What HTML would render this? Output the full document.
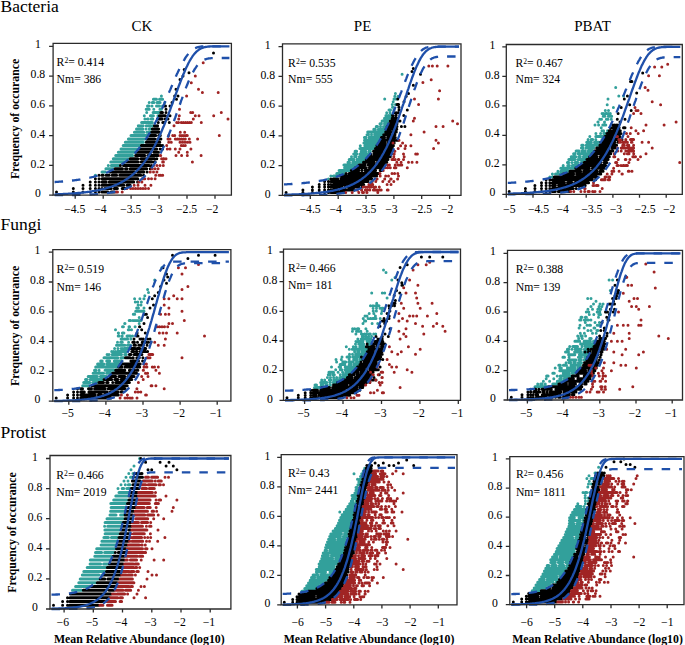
<!DOCTYPE html>
<html><head><meta charset="utf-8"><style>
body{margin:0;background:#fff}
svg{display:block}
text{font-family:"Liberation Serif",serif;fill:#000}
.tl{font-size:11.7px}
.sup{font-size:7.6px}
.grp{font-size:17.5px}
.ttl{font-size:15px}
.bt{font-size:11.8px;font-weight:bold}
.ax{fill:none;stroke:#2b2b2b;stroke-width:1.3}
.cv{fill:none;stroke:#1f50aa;stroke-width:2.3;stroke-linejoin:round}
.dsh{stroke-dasharray:8.5 9}
.dc{stroke:#32a09b}.dk{stroke:#000}.dr{stroke:#a02424}
.dt{fill:none;stroke-width:3;stroke-linecap:round}
</style></head><body>
<svg width="685" height="645" viewBox="0 0 685 645">
<text x="0.5" y="12.3" class="grp">Bacteria</text>
<text x="0.5" y="230.4" class="grp">Fungi</text>
<text x="0.5" y="437.5" class="grp">Protist</text>
<text x="141.9" y="31.3" class="ttl" text-anchor="middle">CK</text>
<text x="362.6" y="31.3" class="ttl" text-anchor="middle">PE</text>
<text x="592.5" y="31.3" class="ttl" text-anchor="middle">PBAT</text>
<text transform="translate(19.0 118.9) rotate(-90)" class="bt" text-anchor="middle">Frequency of occurance</text>
<text transform="translate(19.0 325.9) rotate(-90)" class="bt" text-anchor="middle">Frequency of occurance</text>
<text transform="translate(16.3 532.5) rotate(-90)" class="bt" text-anchor="middle">Frequency of occurance</text>
<text x="139.3" y="642.5" class="bt" text-anchor="middle">Mean Relative Abundance (log10)</text>
<text x="369.0" y="642.5" class="bt" text-anchor="middle">Mean Relative Abundance (log10)</text>
<text x="597.5" y="642.5" class="bt" text-anchor="middle">Mean Relative Abundance (log10)</text>
<path class="dt dc" d="M161.4 95.9h0M153.4 99.2h3.1M159.5 99.2h3.1M149.2 102.5h0M152.3 102.5h1.6M157 102.5h3.1M164.8 102.5h0M147.5 105.9h1.5M152 105.9h0M156.5 105.9h3M162.5 105.9h0M146.2 109.2h3M153.8 109.2h0M159.9 109.2h1.5M146.7 112.5h0M153.1 112.5h6.3M144.3 115.8h0M150.4 115.8h3M157.9 115.8h0M144.9 119.1h0M147.5 119.1h0.7M151.2 119.1h1.6M141.6 122.4h10.7M138.3 125.7h0M139.9 125.7h0M141.5 125.7h0M143.1 125.7h0M146.3 125.7h0M147.9 125.7h3.2M152.7 125.7h0.1M136.5 129h6.3M146 129h0M149.2 129h1.6M134.4 132.3h9.4M146.9 132.3h3.1M131 135.6h17M128.4 138.9h17.1M125.3 142.3h18M123.2 145.6h16.6M121 148.9h17.1M118.3 152.2h17M115.7 155.5h16.9M113.3 158.8h15.3M110.8 162.1h13.7M108.3 165.4h0M111.3 165.4h7.6M105.9 168.7h7.5M102 172h3.1M95.4 175.3h0"/>
<path class="dt dk" d="M213.5 52.9h0M184.2 69.5h0M189 72.8h0M183 76.1h0M180 79.4h0M176 89.3h0M174.7 95.9h0M178 95.9h0M176.5 99.2h0M172 102.5h0M164 105.9h1.5M170 105.9h0M166 109.2h0M160.9 112.5h1.6M166 112.5h0M159.4 115.8h6M170 115.8h0M157.4 119.1h4.7M165.2 119.1h0M168 119.1h0M158.3 122.4h0M162.8 122.4h1.5M169.3 122.4h0M154.4 125.7h0M156 125.7h0M157.6 125.7h0M152.3 129h6.3M151.6 132.3h7.8M149.6 135.6h6.2M158.8 135.6h1.5M147 138.9h7.8M157.8 138.9h3.1M146.3 142.3h13.5M141.4 145.6h19.7M162.7 145.6h0M139.6 148.9h17.1M160.1 148.9h0M162.6 148.9h0M136.9 152.2h13.9M153.9 152.2h4.6M135.6 155.5h9.2M147.9 155.5h10.3M130.1 158.8h7.7M140.8 158.8h13.8M156.8 158.8h0M126.1 162.1h12.2M141.3 162.1h10.6M154.4 162.1h0.7M120.4 165.4h0M123.5 165.4h25.8M151.4 165.4h0M115 168.7h7.5M125.5 168.7h1.5M130.1 168.7h16.6M150.2 168.7h0.5M109.8 172h24.7M137.6 172h6.2M147.1 172h0M99 175.3h0M102 175.3h1.1M106.1 175.3h3M112.1 175.3h4.5M119.7 175.3h21.1M143.6 175.3h0M95.4 178.7h0M99 178.7h0M102 178.7h35.8M90.2 182h0M95.4 182h0M99 182h0M102 182h4.2M109.3 182h24.4M137.6 182h0M83 185.3h0M90.2 185.3h0M95.4 185.3h0M99 185.3h0M102 185.3h21.8M127 185.3h3.2M73.3 188.6h0M83 188.6h0M90.2 188.6h0M95.4 188.6h0M99 188.6h0M102 188.6h0M104.9 188.6h6.3M114.3 188.6h3.1M122.2 188.6h3.1M56.5 191.9h0M73.3 191.9h0M83 191.9h0M90.2 191.9h0M95.4 191.9h0M99 191.9h0M102 191.9h6M111.1 191.9h3.1"/>
<path class="dt dr" d="M203.2 62.8h0M195.3 76.1h0M191.3 82.7h0M198.5 89.3h0M202.4 92.6h0M218.2 92.6h0M186.6 95.9h0M179.5 109.2h0M190.7 112.5h0M192.7 112.5h0M221.3 112.5h0M179.3 115.8h0M195.3 115.8h0M199 115.8h0M213.7 115.8h0M178.7 119.1h0M193.3 119.1h0M228 119.1h0M176.7 122.4h0M178.5 122.4h0M181.3 122.4h0M183.3 122.4h0M185.5 122.4h0M187.5 122.4h0M189.5 122.4h0M191.3 122.4h0M201.3 122.4h0M174 125.7h0M180.3 132.3h0M184.7 132.3h0M168.7 135.6h0M172.7 135.6h0M174.7 135.6h0M180 135.6h0M182 135.6h0M184 135.6h0M186 135.6h1.3M219.3 135.6h0M168 138.9h0M170 138.9h0M175.3 138.9h0M177.5 138.9h0M179.5 138.9h0M181.5 138.9h0M183.5 138.9h0M185.3 138.9h0M189.3 138.9h0M197.6 138.9h0M168.7 142.3h0M171.3 142.3h0M180 142.3h0M182.5 142.3h0M185 142.3h0M187.5 142.3h0M190 142.3h0M166.7 145.6h0M181.3 145.6h0M183.3 145.6h0M185.3 145.6h0M167.3 148.9h0M170 148.9h0M175.3 148.9h0M180 148.9h0M190.9 148.9h0M178.7 152.2h0M187.3 152.2h0M160.4 155.5h0.3M176 155.5h0M181.6 155.5h0M187.3 155.5h0M201.1 155.5h0M161.6 158.8h0M163.3 158.8h0.7M166 158.8h0M162.7 162.1h0.7M192.4 162.1h0M153.6 165.4h0M156.9 165.4h0M160 165.4h0M163.3 165.4h0M151.8 168.7h0.3M155 168.7h0M158.1 168.7h0M150.1 172h0.2M153.5 172h0M156.9 172h0M155.7 175.3h0M159 175.3h0M160.7 175.3h0M162.7 175.3h0M142.3 178.7h2.5M148.5 178.7h0M151.5 178.7h0M155.1 178.7h0M138.8 182h0M141.9 182h0M134.2 185.3h0M138 185.3h0M145 185.3h0M150.9 185.3h0M126.9 188.6h0M130.6 188.6h0M133 188.6h0M135.5 188.6h0M138 188.6h0M140.5 188.6h0M143 188.6h0M145.5 188.6h0M148.5 188.6h0M115.7 191.9h1.8M122.2 191.9h0"/>
<path d="M54.6,194.4 L55.3,194.4 L56.1,194.3 L56.8,194.3 L57.5,194.3 L58.3,194.2 L59,194.2 L59.7,194.2 L60.5,194.2 L61.2,194.1 L61.9,194.1 L62.6,194.1 L63.4,194 L64.1,194 L64.8,193.9 L65.6,193.9 L66.3,193.9 L67,193.8 L67.8,193.8 L68.5,193.7 L69.2,193.7 L70,193.6 L70.7,193.6 L71.4,193.6 L72.2,193.5 L72.9,193.4 L73.6,193.4 L74.3,193.3 L75.1,193.3 L75.8,193.2 L76.5,193.2 L77.3,193.1 L78,193 L78.7,193 L79.5,192.9 L80.2,192.8 L80.9,192.8 L81.7,192.7 L82.4,192.6 L83.1,192.5 L83.9,192.4 L84.6,192.4 L85.3,192.3 L86,192.2 L86.8,192.1 L87.5,192 L88.2,191.9 L89,191.8 L89.7,191.7 L90.4,191.6 L91.2,191.5 L91.9,191.4 L92.6,191.2 L93.4,191.1 L94.1,191 L94.8,190.9 L95.6,190.7 L96.3,190.6 L97,190.5 L97.8,190.3 L98.5,190.2 L99.2,190 L99.9,189.9 L100.7,189.7 L101.4,189.5 L102.1,189.3 L102.9,189.2 L103.6,189 L104.3,188.8 L105.1,188.6 L105.8,188.4 L106.5,188.2 L107.3,188 L108,187.7 L108.7,187.5 L109.5,187.3 L110.2,187 L110.9,186.8 L111.6,186.5 L112.4,186.3 L113.1,186 L113.8,185.7 L114.6,185.4 L115.3,185.1 L116,184.8 L116.8,184.5 L117.5,184.2 L118.2,183.8 L119,183.5 L119.7,183.1 L120.4,182.8 L121.2,182.4 L121.9,182 L122.6,181.6 L123.3,181.2 L124.1,180.7 L124.8,180.3 L125.5,179.8 L126.3,179.4 L127,178.9 L127.7,178.4 L128.5,177.9 L129.2,177.3 L129.9,176.8 L130.7,176.2 L131.4,175.7 L132.1,175.1 L132.9,174.5 L133.6,173.8 L134.3,173.2 L135.1,172.5 L135.8,171.8 L136.5,171.1 L137.2,170.4 L138,169.7 L138.7,168.9 L139.4,168.1 L140.2,167.3 L140.9,166.4 L141.6,165.6 L142.4,164.7 L143.1,163.8 L143.8,162.9 L144.6,161.9 L145.3,160.9 L146,159.9 L146.8,158.8 L147.5,157.8 L148.2,156.7 L148.9,155.6 L149.7,154.4 L150.4,153.2 L151.1,152 L151.9,150.8 L152.6,149.5 L153.3,148.2 L154.1,146.8 L154.8,145.5 L155.5,144.1 L156.3,142.6 L157,141.2 L157.7,139.7 L158.5,138.1 L159.2,136.6 L159.9,135 L160.7,133.4 L161.4,131.7 L162.1,130 L162.8,128.3 L163.6,126.6 L164.3,124.8 L165,123 L165.8,121.1 L166.5,119.3 L167.2,117.4 L168,115.5 L168.7,113.6 L169.4,111.7 L170.2,109.7 L170.9,107.7 L171.6,105.7 L172.4,103.7 L173.1,101.7 L173.8,99.7 L174.5,97.7 L175.3,95.7 L176,93.7 L176.7,91.7 L177.5,89.7 L178.2,87.7 L178.9,85.7 L179.7,83.8 L180.4,81.9 L181.1,80 L181.9,78.1 L182.6,76.3 L183.3,74.5 L184.1,72.7 L184.8,71 L185.5,69.3 L186.2,67.7 L187,66.2 L187.7,64.7 L188.4,63.2 L189.2,61.8 L189.9,60.5 L190.6,59.3 L191.4,58.1 L192.1,57 L192.8,55.9 L193.6,54.9 L194.3,54 L195,53.1 L195.8,52.4 L196.5,51.6 L197.2,51 L198,50.4 L198.7,49.8 L199.4,49.3 L200.1,48.9 L200.9,48.5 L201.6,48.2 L202.3,47.9 L203.1,47.6 L203.8,47.4 L204.5,47.2 L205.3,47 L206,46.9 L206.7,46.8 L207.5,46.7 L208.2,46.6 L208.9,46.5 L209.7,46.5 L210.4,46.4 L211.1,46.4 L211.8,46.4 L212.6,46.4 L213.3,46.3 L214,46.3 L214.8,46.3 L215.5,46.3 L216.2,46.3 L217,46.3 L217.7,46.3 L218.4,46.3 L219.2,46.3 L219.9,46.3 L220.6,46.3 L221.4,46.3 L222.1,46.3 L222.8,46.3 L223.5,46.3 L224.3,46.3 L225,46.3 L225.7,46.3 L226.5,46.3 L227.2,46.3 L227.9,46.3 L228.7,46.3 L229.4,46.3" class="cv"/>
<path d="M54.6,182 L55.3,182 L56.1,181.9 L56.8,181.9 L57.5,181.8 L58.3,181.8 L59,181.7 L59.7,181.7 L60.5,181.6 L61.2,181.6 L61.9,181.5 L62.6,181.5 L63.4,181.4 L64.1,181.3 L64.8,181.3 L65.6,181.2 L66.3,181.1 L67,181.1 L67.8,181 L68.5,180.9 L69.2,180.9 L70,180.8 L70.7,180.7 L71.4,180.6 L72.2,180.5 L72.9,180.5 L73.6,180.4 L74.3,180.3 L75.1,180.2 L75.8,180.1 L76.5,180 L77.3,179.9 L78,179.8 L78.7,179.7 L79.5,179.6 L80.2,179.5 L80.9,179.3 L81.7,179.2 L82.4,179.1 L83.1,179 L83.9,178.8 L84.6,178.7 L85.3,178.6 L86,178.4 L86.8,178.3 L87.5,178.1 L88.2,178 L89,177.8 L89.7,177.7 L90.4,177.5 L91.2,177.3 L91.9,177.2 L92.6,177 L93.4,176.8 L94.1,176.6 L94.8,176.4 L95.6,176.2 L96.3,176 L97,175.8 L97.8,175.6 L98.5,175.4 L99.2,175.2 L99.9,174.9 L100.7,174.7 L101.4,174.5 L102.1,174.2 L102.9,173.9 L103.6,173.7 L104.3,173.4 L105.1,173.1 L105.8,172.9 L106.5,172.6 L107.3,172.3 L108,172 L108.7,171.6 L109.5,171.3 L110.2,171 L110.9,170.6 L111.6,170.3 L112.4,169.9 L113.1,169.6 L113.8,169.2 L114.6,168.8 L115.3,168.4 L116,168 L116.8,167.6 L117.5,167.2 L118.2,166.7 L119,166.3 L119.7,165.8 L120.4,165.3 L121.2,164.8 L121.9,164.3 L122.6,163.8 L123.3,163.3 L124.1,162.8 L124.8,162.2 L125.5,161.7 L126.3,161.1 L127,160.5 L127.7,159.9 L128.5,159.3 L129.2,158.6 L129.9,158 L130.7,157.3 L131.4,156.6 L132.1,155.9 L132.9,155.2 L133.6,154.4 L134.3,153.7 L135.1,152.9 L135.8,152.1 L136.5,151.3 L137.2,150.5 L138,149.6 L138.7,148.7 L139.4,147.8 L140.2,146.9 L140.9,146 L141.6,145 L142.4,144 L143.1,143 L143.8,142 L144.6,141 L145.3,139.9 L146,138.8 L146.8,137.7 L147.5,136.5 L148.2,135.4 L148.9,134.2 L149.7,132.9 L150.4,131.7 L151.1,130.4 L151.9,129.1 L152.6,127.8 L153.3,126.5 L154.1,125.1 L154.8,123.7 L155.5,122.3 L156.3,120.9 L157,119.4 L157.7,117.9 L158.5,116.4 L159.2,114.9 L159.9,113.3 L160.7,111.8 L161.4,110.2 L162.1,108.6 L162.8,106.9 L163.6,105.3 L164.3,103.6 L165,101.9 L165.8,100.2 L166.5,98.5 L167.2,96.8 L168,95.1 L168.7,93.4 L169.4,91.6 L170.2,89.9 L170.9,88.2 L171.6,86.4 L172.4,84.7 L173.1,83 L173.8,81.3 L174.5,79.6 L175.3,77.9 L176,76.2 L176.7,74.6 L177.5,73 L178.2,71.4 L178.9,69.9 L179.7,68.3 L180.4,66.8 L181.1,65.4 L181.9,64 L182.6,62.6 L183.3,61.3 L184.1,60.1 L184.8,58.9 L185.5,57.7 L186.2,56.7 L187,55.6 L187.7,54.6 L188.4,53.7 L189.2,52.9 L189.9,52.1 L190.6,51.4 L191.4,50.7 L192.1,50.1 L192.8,49.5 L193.6,49.1 L194.3,48.6 L195,48.2 L195.8,47.9 L196.5,47.6 L197.2,47.3 L198,47.1 L198.7,47 L199.4,46.8 L200.1,46.7 L200.9,46.6 L201.6,46.5 L202.3,46.5 L203.1,46.4 L203.8,46.4 L204.5,46.4 L205.3,46.3 L206,46.3 L206.7,46.3 L207.5,46.3 L208.2,46.3 L208.9,46.3 L209.7,46.3 L210.4,46.3 L211.1,46.3 L211.8,46.3 L212.6,46.3 L213.3,46.3 L214,46.3 L214.8,46.3 L215.5,46.3 L216.2,46.3 L217,46.3 L217.7,46.3 L218.4,46.3 L219.2,46.3 L219.9,46.3 L220.6,46.3 L221.4,46.3 L222.1,46.3 L222.8,46.3 L223.5,46.3 L224.3,46.3 L225,46.3 L225.7,46.3 L226.5,46.3 L227.2,46.3 L227.9,46.3 L228.7,46.3 L229.4,46.3" class="cv dsh"/>
<path d="M54.6,195.2 L55.3,195.1 L56.1,195.1 L56.8,195.1 L57.5,195.1 L58.3,195.1 L59,195.1 L59.7,195.1 L60.5,195.1 L61.2,195.1 L61.9,195.1 L62.6,195.1 L63.4,195.1 L64.1,195.1 L64.8,195.1 L65.6,195.1 L66.3,195.1 L67,195.1 L67.8,195.1 L68.5,195.1 L69.2,195.1 L70,195 L70.7,195 L71.4,195 L72.2,195 L72.9,195 L73.6,195 L74.3,195 L75.1,195 L75.8,195 L76.5,194.9 L77.3,194.9 L78,194.9 L78.7,194.9 L79.5,194.9 L80.2,194.9 L80.9,194.9 L81.7,194.8 L82.4,194.8 L83.1,194.8 L83.9,194.8 L84.6,194.7 L85.3,194.7 L86,194.7 L86.8,194.7 L87.5,194.6 L88.2,194.6 L89,194.6 L89.7,194.6 L90.4,194.5 L91.2,194.5 L91.9,194.4 L92.6,194.4 L93.4,194.4 L94.1,194.3 L94.8,194.3 L95.6,194.2 L96.3,194.2 L97,194.1 L97.8,194.1 L98.5,194 L99.2,194 L99.9,193.9 L100.7,193.8 L101.4,193.8 L102.1,193.7 L102.9,193.6 L103.6,193.5 L104.3,193.5 L105.1,193.4 L105.8,193.3 L106.5,193.2 L107.3,193.1 L108,193 L108.7,192.9 L109.5,192.8 L110.2,192.7 L110.9,192.5 L111.6,192.4 L112.4,192.3 L113.1,192.2 L113.8,192 L114.6,191.9 L115.3,191.7 L116,191.5 L116.8,191.4 L117.5,191.2 L118.2,191 L119,190.8 L119.7,190.6 L120.4,190.4 L121.2,190.2 L121.9,190 L122.6,189.7 L123.3,189.5 L124.1,189.3 L124.8,189 L125.5,188.7 L126.3,188.4 L127,188.1 L127.7,187.8 L128.5,187.5 L129.2,187.2 L129.9,186.8 L130.7,186.5 L131.4,186.1 L132.1,185.7 L132.9,185.3 L133.6,184.9 L134.3,184.4 L135.1,184 L135.8,183.5 L136.5,183 L137.2,182.5 L138,182 L138.7,181.5 L139.4,180.9 L140.2,180.3 L140.9,179.7 L141.6,179.1 L142.4,178.4 L143.1,177.8 L143.8,177.1 L144.6,176.4 L145.3,175.6 L146,174.8 L146.8,174 L147.5,173.2 L148.2,172.4 L148.9,171.5 L149.7,170.6 L150.4,169.6 L151.1,168.7 L151.9,167.6 L152.6,166.6 L153.3,165.5 L154.1,164.4 L154.8,163.3 L155.5,162.1 L156.3,160.9 L157,159.7 L157.7,158.4 L158.5,157.1 L159.2,155.8 L159.9,154.4 L160.7,153 L161.4,151.5 L162.1,150 L162.8,148.5 L163.6,146.9 L164.3,145.3 L165,143.7 L165.8,142 L166.5,140.3 L167.2,138.5 L168,136.8 L168.7,135 L169.4,133.1 L170.2,131.2 L170.9,129.3 L171.6,127.4 L172.4,125.5 L173.1,123.5 L173.8,121.5 L174.5,119.5 L175.3,117.4 L176,115.4 L176.7,113.3 L177.5,111.3 L178.2,109.2 L178.9,107.1 L179.7,105 L180.4,103 L181.1,100.9 L181.9,98.9 L182.6,96.9 L183.3,94.8 L184.1,92.9 L184.8,90.9 L185.5,89 L186.2,87.1 L187,85.3 L187.7,83.5 L188.4,81.7 L189.2,80 L189.9,78.4 L190.6,76.8 L191.4,75.3 L192.1,73.8 L192.8,72.5 L193.6,71.1 L194.3,69.9 L195,68.7 L195.8,67.6 L196.5,66.5 L197.2,65.6 L198,64.7 L198.7,63.9 L199.4,63.1 L200.1,62.4 L200.9,61.8 L201.6,61.2 L202.3,60.7 L203.1,60.3 L203.8,59.9 L204.5,59.6 L205.3,59.3 L206,59.1 L206.7,58.9 L207.5,58.7 L208.2,58.5 L208.9,58.4 L209.7,58.3 L210.4,58.3 L211.1,58.2 L211.8,58.1 L212.6,58.1 L213.3,58.1 L214,58.1 L214.8,58 L215.5,58 L216.2,58 L217,58 L217.7,58 L218.4,58 L219.2,58 L219.9,58 L220.6,58 L221.4,58 L222.1,58 L222.8,58 L223.5,58 L224.3,58 L225,58 L225.7,58 L226.5,58 L227.2,58 L227.9,58 L228.7,58 L229.4,58" class="cv dsh"/>
<path d="M53.1 43.3V195.2H231.4V43.3Z" class="ax"/>
<text x="37.9" y="197.3" class="tl" text-anchor="middle">0</text>
<text x="37.9" y="167.5" class="tl" text-anchor="middle">0.2</text>
<text x="37.9" y="137.7" class="tl" text-anchor="middle">0.4</text>
<text x="37.9" y="108" class="tl" text-anchor="middle">0.6</text>
<text x="37.9" y="78.2" class="tl" text-anchor="middle">0.8</text>
<text x="37.9" y="48.4" class="tl" text-anchor="middle">1</text>
<text x="74.8" y="212.8" class="tl" text-anchor="middle">−4.5</text>
<text x="100.4" y="212.8" class="tl" text-anchor="middle">−4</text>
<text x="130.7" y="212.8" class="tl" text-anchor="middle">−3.5</text>
<text x="156.3" y="212.8" class="tl" text-anchor="middle">−3</text>
<text x="186.6" y="212.8" class="tl" text-anchor="middle">−2.5</text>
<text x="212.2" y="212.8" class="tl" text-anchor="middle">−2</text>
<path d="M49.1 195.2H53.1M49.1 165.4H53.1M49.1 135.6H53.1M49.1 105.9H53.1M49.1 76.1H53.1M49.1 46.3H53.1M75.2 195.2V198.7M103.2 195.2V198.7M131.1 195.2V198.7M159.1 195.2V198.7M187 195.2V198.7M215 195.2V198.7" class="ax"/>
<text x="56.6" y="66" class="tl">R<tspan class="sup" dy="-2.9">2</tspan><tspan dy="2.9">= 0.414</tspan></text>
<text x="56.6" y="82.6" class="tl">Nm= 386</text>
<path class="dt dc" d="M402.1 74.2h0M395.4 93.4h0M394.8 96.2h0M398 96.2h0M384.7 99h0M394 99h0M396.1 99h0.5M393.2 101.7h0M392.3 104.5h0M395.5 104.5h0M392.5 107.2h0.5M389 110h1.5M393.9 110h0M386.7 112.7h0M390 112.7h0M385.9 115.5h0.9M388.7 115.5h0M390.6 115.5h1M384.5 118.2h6.2M382.1 121h3.3M387 121h1.6M380 123.8h1.4M384.5 123.8h3.1M376.3 126.5h1.2M380.5 126.5h0M383.5 126.5h3M373.8 129.3h1.5M378.4 129.3h6.1M367.7 132h16.6M367 134.8h1.5M371.5 134.8h0M374.6 134.8h7.6M364.4 137.5h1.5M369.1 137.5h10.8M364.5 140.3h13.6M363.9 143h13.6M360.3 145.8h0M364.8 145.8h10.5M359.9 148.6h14M355.1 151.3h1.5M361.2 151.3h4.6M368.9 151.3h1.5M353.7 154.1h3.1M359.9 154.1h9.3M351.5 156.8h0M354.6 156.8h1.5M359.3 156.8h7.7M349.2 159.6h4.6M357 159.6h7.7M348 162.3h1.5M352.7 162.3h9.3M343.9 165.1h13.7M344.6 167.8h9.3M339.1 170.6h10.6M336.8 173.4h7.7M330.9 176.1h0M333.5 176.1h4.6M328.4 178.9h0"/>
<path class="dt dk" d="M413.3 68.6h0M412 71.4h0M420.5 74.2h0M413.3 85.2h0M408.5 93.4h0M406.2 96.2h0M397.8 99h0M404 101.7h0M397 104.5h1.6M398.8 107.2h0.2M399 110h0M407.3 110h0M395 112.7h0M396.7 112.7h0M398.3 112.7h0M392.5 115.5h0.6M396.1 115.5h0M403.8 115.5h0M392.2 118.2h3.2M396.9 118.2h0M390.3 121h3.3M395.2 121h0M396.8 121h1M400 121h0M389.2 123.8h7.8M387.2 126.5h9.8M401.4 126.5h0M404.9 126.5h0M386.1 129.3h10.7M385.7 132h4.9M393.3 132h3M383.7 134.8h7.6M394.3 134.8h0.7M381.4 137.5h3.1M387.6 137.5h7.7M381.1 140.3h13.6M396.7 140.3h1.3M379.1 143h6.1M388.1 143h6.1M376.9 145.8h16.5M375.5 148.6h17.1M373.5 151.3h18.4M370.8 154.1h0M373.9 154.1h17.5M368.6 156.8h21.7M366.3 159.6h21.7M363.5 162.3h10.8M377.4 162.3h9.4M359.1 165.1h6.1M368.3 165.1h16.8M355.4 167.8h10.9M369.4 167.8h14M351.3 170.6h7.6M361.9 170.6h0M365 170.6h10.6M380.2 170.6h1.5M346.1 173.4h0M349.1 173.4h29.3M339.6 176.1h37M330.9 178.9h0M333.1 178.9h4.6M340.8 178.9h31M324.6 181.6h0M328.4 181.6h0M330.9 181.6h0M333.1 181.6h34.9M319.2 184.4h0M324.6 184.4h0M328.4 184.4h0M330.9 184.4h0M333.1 184.4h30.6M312.4 187.1h0M319.2 187.1h0M324.6 187.1h0M328.4 187.1h0M330.9 187.1h0M333 187.1h9.2M345.3 187.1h0M348.4 187.1h10.7M362.3 187.1h0M302.9 189.9h0M312.4 189.9h0M319.2 189.9h0M324.6 189.9h0M328.4 189.9h0M330.9 189.9h0M333 189.9h4.6M340.6 189.9h13.7M286.1 192.6h0M302.9 192.6h0M312.4 192.6h0M319.2 192.6h0M324.6 192.6h0M328.4 192.6h0M330.9 192.6h0M333 192.6h11.1"/>
<path class="dt dr" d="M428.8 65.9h0M432.4 65.9h0M437.2 65.9h0M447.9 65.9h0M431.2 79.7h0M422.9 82.4h0M439.6 90.7h0M414.5 99h0M438.4 99h0M418.6 104.5h0M414.5 118.2h0M413.3 121h0M452.7 121h0M457.5 123.8h0M436 126.5h0M443.1 126.5h0M424.1 132h0M410.9 134.8h0M399 140.3h0M436 140.3h0M393 143h0M402.6 143h0M438.4 143h0M400.6 145.8h0M405.6 145.8h0M410.9 145.8h0M398.2 148.6h0M405 148.6h0M433.6 148.6h0M394.9 151.3h0M394.2 154.1h0M403.5 154.1h0M415.7 154.1h0M417.4 154.1h0M393.8 156.8h0M404.2 156.8h0M392 159.6h1.1M395.2 159.6h0M398.4 159.6h0.4M403.5 159.6h0M396.8 162.3h0M401.1 162.3h0M408.5 162.3h0M412.1 162.3h0M416.9 162.3h0M387.7 165.1h0M389.4 165.1h0M395.2 165.1h0M398.1 165.1h0M400.2 165.1h1.6M384.9 167.8h0M387.5 167.8h0M390.3 167.8h0M394.4 167.8h1.5M407.3 167.8h0M383.2 170.6h0M380 173.4h0M392 173.4h0M394.6 173.4h0M397.8 173.4h0M380.2 176.1h0M385.7 176.1h0M388.5 176.1h0M398.5 176.1h0M377.1 178.9h0M384.7 178.9h0M390.7 178.9h0.4M397.6 178.9h0M372.2 181.6h0M375.8 181.6h0M382.8 181.6h0M389.1 181.6h0M393.8 181.6h0M368.9 184.4h0M370.9 184.4h1.8M387.1 184.4h0M391 184.4h0M363.2 187.1h0M365.8 187.1h0M367.8 187.1h3.3M373.8 187.1h0M375.6 187.1h0M379.3 187.1h0M357 189.9h0.3M361.5 189.9h0.2M365.3 189.9h0M367.2 189.9h0M369.8 189.9h0M373.4 189.9h1.5M377.1 189.9h0M379.5 189.9h0M381.2 189.9h0M387.3 189.9h0.8M345.7 192.6h0M352.2 192.6h0M358.8 192.6h0M362.5 192.6h1M366.8 192.6h0.2M377.8 192.6h0"/>
<path d="M284,194.8 L284.7,194.8 L285.5,194.7 L286.2,194.7 L286.9,194.7 L287.7,194.7 L288.4,194.7 L289.1,194.6 L289.9,194.6 L290.6,194.6 L291.3,194.6 L292.1,194.5 L292.8,194.5 L293.5,194.5 L294.3,194.5 L295,194.4 L295.7,194.4 L296.4,194.4 L297.2,194.3 L297.9,194.3 L298.6,194.3 L299.4,194.2 L300.1,194.2 L300.8,194.2 L301.6,194.1 L302.3,194.1 L303,194 L303.8,194 L304.5,194 L305.2,193.9 L306,193.9 L306.7,193.8 L307.4,193.8 L308.2,193.7 L308.9,193.7 L309.6,193.6 L310.4,193.6 L311.1,193.5 L311.8,193.4 L312.6,193.4 L313.3,193.3 L314,193.3 L314.8,193.2 L315.5,193.1 L316.2,193 L316.9,193 L317.7,192.9 L318.4,192.8 L319.1,192.7 L319.9,192.7 L320.6,192.6 L321.3,192.5 L322.1,192.4 L322.8,192.3 L323.5,192.2 L324.3,192.1 L325,192 L325.7,191.9 L326.5,191.8 L327.2,191.7 L327.9,191.5 L328.7,191.4 L329.4,191.3 L330.1,191.2 L330.9,191 L331.6,190.9 L332.3,190.8 L333.1,190.6 L333.8,190.5 L334.5,190.3 L335.3,190.1 L336,190 L336.7,189.8 L337.5,189.6 L338.2,189.4 L338.9,189.3 L339.6,189.1 L340.4,188.9 L341.1,188.7 L341.8,188.4 L342.6,188.2 L343.3,188 L344,187.8 L344.8,187.5 L345.5,187.3 L346.2,187 L347,186.7 L347.7,186.5 L348.4,186.2 L349.2,185.9 L349.9,185.6 L350.6,185.3 L351.4,184.9 L352.1,184.6 L352.8,184.3 L353.6,183.9 L354.3,183.5 L355,183.1 L355.8,182.7 L356.5,182.3 L357.2,181.9 L358,181.5 L358.7,181 L359.4,180.6 L360.2,180.1 L360.9,179.6 L361.6,179.1 L362.3,178.5 L363.1,178 L363.8,177.4 L364.5,176.9 L365.3,176.3 L366,175.6 L366.7,175 L367.5,174.3 L368.2,173.6 L368.9,172.9 L369.7,172.2 L370.4,171.4 L371.1,170.7 L371.9,169.9 L372.6,169 L373.3,168.2 L374.1,167.3 L374.8,166.4 L375.5,165.4 L376.3,164.5 L377,163.5 L377.7,162.4 L378.5,161.4 L379.2,160.3 L379.9,159.1 L380.7,158 L381.4,156.8 L382.1,155.5 L382.8,154.3 L383.6,153 L384.3,151.6 L385,150.2 L385.8,148.8 L386.5,147.4 L387.2,145.9 L388,144.3 L388.7,142.8 L389.4,141.1 L390.2,139.5 L390.9,137.8 L391.6,136.1 L392.4,134.3 L393.1,132.5 L393.8,130.6 L394.6,128.8 L395.3,126.8 L396,124.9 L396.8,122.9 L397.5,120.9 L398.2,118.8 L399,116.7 L399.7,114.6 L400.4,112.5 L401.2,110.3 L401.9,108.2 L402.6,106 L403.4,103.8 L404.1,101.6 L404.8,99.3 L405.5,97.1 L406.3,94.9 L407,92.7 L407.7,90.5 L408.5,88.3 L409.2,86.1 L409.9,84 L410.7,81.9 L411.4,79.8 L412.1,77.8 L412.9,75.8 L413.6,73.8 L414.3,71.9 L415.1,70.1 L415.8,68.3 L416.5,66.6 L417.3,64.9 L418,63.4 L418.7,61.9 L419.5,60.4 L420.2,59.1 L420.9,57.8 L421.7,56.6 L422.4,55.5 L423.1,54.5 L423.9,53.6 L424.6,52.7 L425.3,51.9 L426.1,51.2 L426.8,50.6 L427.5,50 L428.2,49.5 L429,49 L429.7,48.6 L430.4,48.3 L431.2,48 L431.9,47.7 L432.6,47.5 L433.4,47.3 L434.1,47.2 L434.8,47.1 L435.6,47 L436.3,46.9 L437,46.8 L437.8,46.8 L438.5,46.7 L439.2,46.7 L440,46.7 L440.7,46.6 L441.4,46.6 L442.2,46.6 L442.9,46.6 L443.6,46.6 L444.4,46.6 L445.1,46.6 L445.8,46.6 L446.6,46.6 L447.3,46.6 L448,46.6 L448.7,46.6 L449.5,46.6 L450.2,46.6 L450.9,46.6 L451.7,46.6 L452.4,46.6 L453.1,46.6 L453.9,46.6 L454.6,46.6 L455.3,46.6 L456.1,46.6 L456.8,46.6 L457.5,46.6 L458.3,46.6 L459,46.6" class="cv"/>
<path d="M284,184.4 L284.7,184.4 L285.5,184.3 L286.2,184.3 L286.9,184.3 L287.7,184.2 L288.4,184.2 L289.1,184.1 L289.9,184.1 L290.6,184.1 L291.3,184 L292.1,184 L292.8,183.9 L293.5,183.9 L294.3,183.8 L295,183.8 L295.7,183.7 L296.4,183.7 L297.2,183.6 L297.9,183.6 L298.6,183.5 L299.4,183.4 L300.1,183.4 L300.8,183.3 L301.6,183.3 L302.3,183.2 L303,183.1 L303.8,183 L304.5,183 L305.2,182.9 L306,182.8 L306.7,182.7 L307.4,182.7 L308.2,182.6 L308.9,182.5 L309.6,182.4 L310.4,182.3 L311.1,182.2 L311.8,182.1 L312.6,182 L313.3,181.9 L314,181.8 L314.8,181.7 L315.5,181.6 L316.2,181.5 L316.9,181.4 L317.7,181.3 L318.4,181.1 L319.1,181 L319.9,180.9 L320.6,180.7 L321.3,180.6 L322.1,180.5 L322.8,180.3 L323.5,180.2 L324.3,180 L325,179.9 L325.7,179.7 L326.5,179.5 L327.2,179.4 L327.9,179.2 L328.7,179 L329.4,178.8 L330.1,178.6 L330.9,178.4 L331.6,178.2 L332.3,178 L333.1,177.8 L333.8,177.6 L334.5,177.3 L335.3,177.1 L336,176.9 L336.7,176.6 L337.5,176.4 L338.2,176.1 L338.9,175.9 L339.6,175.6 L340.4,175.3 L341.1,175 L341.8,174.7 L342.6,174.4 L343.3,174.1 L344,173.8 L344.8,173.4 L345.5,173.1 L346.2,172.7 L347,172.4 L347.7,172 L348.4,171.6 L349.2,171.2 L349.9,170.8 L350.6,170.4 L351.4,170 L352.1,169.6 L352.8,169.1 L353.6,168.7 L354.3,168.2 L355,167.7 L355.8,167.2 L356.5,166.7 L357.2,166.1 L358,165.6 L358.7,165 L359.4,164.5 L360.2,163.9 L360.9,163.3 L361.6,162.6 L362.3,162 L363.1,161.3 L363.8,160.6 L364.5,159.9 L365.3,159.2 L366,158.5 L366.7,157.7 L367.5,156.9 L368.2,156.1 L368.9,155.3 L369.7,154.5 L370.4,153.6 L371.1,152.7 L371.9,151.8 L372.6,150.9 L373.3,149.9 L374.1,148.9 L374.8,147.9 L375.5,146.8 L376.3,145.8 L377,144.6 L377.7,143.5 L378.5,142.4 L379.2,141.2 L379.9,140 L380.7,138.7 L381.4,137.4 L382.1,136.1 L382.8,134.8 L383.6,133.4 L384.3,132 L385,130.6 L385.8,129.1 L386.5,127.6 L387.2,126.1 L388,124.5 L388.7,122.9 L389.4,121.3 L390.2,119.7 L390.9,118 L391.6,116.3 L392.4,114.5 L393.1,112.8 L393.8,111 L394.6,109.2 L395.3,107.3 L396,105.5 L396.8,103.6 L397.5,101.7 L398.2,99.8 L399,97.9 L399.7,95.9 L400.4,94 L401.2,92.1 L401.9,90.1 L402.6,88.2 L403.4,86.2 L404.1,84.3 L404.8,82.4 L405.5,80.5 L406.3,78.6 L407,76.7 L407.7,74.9 L408.5,73.1 L409.2,71.4 L409.9,69.6 L410.7,68 L411.4,66.3 L412.1,64.8 L412.9,63.2 L413.6,61.8 L414.3,60.4 L415.1,59.1 L415.8,57.8 L416.5,56.6 L417.3,55.5 L418,54.5 L418.7,53.5 L419.5,52.6 L420.2,51.8 L420.9,51.1 L421.7,50.4 L422.4,49.8 L423.1,49.3 L423.9,48.8 L424.6,48.4 L425.3,48 L426.1,47.7 L426.8,47.5 L427.5,47.3 L428.2,47.1 L429,47 L429.7,46.9 L430.4,46.8 L431.2,46.7 L431.9,46.7 L432.6,46.7 L433.4,46.6 L434.1,46.6 L434.8,46.6 L435.6,46.6 L436.3,46.6 L437,46.6 L437.8,46.6 L438.5,46.6 L439.2,46.6 L440,46.6 L440.7,46.6 L441.4,46.6 L442.2,46.6 L442.9,46.6 L443.6,46.6 L444.4,46.6 L445.1,46.6 L445.8,46.6 L446.6,46.6 L447.3,46.6 L448,46.6 L448.7,46.6 L449.5,46.6 L450.2,46.6 L450.9,46.6 L451.7,46.6 L452.4,46.6 L453.1,46.6 L453.9,46.6 L454.6,46.6 L455.3,46.6 L456.1,46.6 L456.8,46.6 L457.5,46.6 L458.3,46.6 L459,46.6" class="cv dsh"/>
<path d="M284,195.4 L284.7,195.4 L285.5,195.4 L286.2,195.4 L286.9,195.4 L287.7,195.4 L288.4,195.4 L289.1,195.4 L289.9,195.3 L290.6,195.3 L291.3,195.3 L292.1,195.3 L292.8,195.3 L293.5,195.3 L294.3,195.3 L295,195.3 L295.7,195.3 L296.4,195.3 L297.2,195.3 L297.9,195.3 L298.6,195.3 L299.4,195.3 L300.1,195.3 L300.8,195.3 L301.6,195.3 L302.3,195.3 L303,195.3 L303.8,195.3 L304.5,195.2 L305.2,195.2 L306,195.2 L306.7,195.2 L307.4,195.2 L308.2,195.2 L308.9,195.2 L309.6,195.2 L310.4,195.2 L311.1,195.1 L311.8,195.1 L312.6,195.1 L313.3,195.1 L314,195.1 L314.8,195.1 L315.5,195 L316.2,195 L316.9,195 L317.7,195 L318.4,195 L319.1,194.9 L319.9,194.9 L320.6,194.9 L321.3,194.9 L322.1,194.8 L322.8,194.8 L323.5,194.8 L324.3,194.7 L325,194.7 L325.7,194.7 L326.5,194.6 L327.2,194.6 L327.9,194.5 L328.7,194.5 L329.4,194.5 L330.1,194.4 L330.9,194.4 L331.6,194.3 L332.3,194.2 L333.1,194.2 L333.8,194.1 L334.5,194.1 L335.3,194 L336,193.9 L336.7,193.8 L337.5,193.8 L338.2,193.7 L338.9,193.6 L339.6,193.5 L340.4,193.4 L341.1,193.3 L341.8,193.2 L342.6,193.1 L343.3,193 L344,192.9 L344.8,192.8 L345.5,192.6 L346.2,192.5 L347,192.4 L347.7,192.2 L348.4,192.1 L349.2,191.9 L349.9,191.7 L350.6,191.6 L351.4,191.4 L352.1,191.2 L352.8,191 L353.6,190.8 L354.3,190.6 L355,190.3 L355.8,190.1 L356.5,189.9 L357.2,189.6 L358,189.3 L358.7,189.1 L359.4,188.8 L360.2,188.5 L360.9,188.1 L361.6,187.8 L362.3,187.5 L363.1,187.1 L363.8,186.7 L364.5,186.3 L365.3,185.9 L366,185.5 L366.7,185.1 L367.5,184.6 L368.2,184.1 L368.9,183.6 L369.7,183.1 L370.4,182.6 L371.1,182 L371.9,181.4 L372.6,180.8 L373.3,180.2 L374.1,179.5 L374.8,178.9 L375.5,178.1 L376.3,177.4 L377,176.6 L377.7,175.8 L378.5,175 L379.2,174.2 L379.9,173.3 L380.7,172.3 L381.4,171.4 L382.1,170.4 L382.8,169.4 L383.6,168.3 L384.3,167.2 L385,166 L385.8,164.9 L386.5,163.6 L387.2,162.4 L388,161.1 L388.7,159.7 L389.4,158.3 L390.2,156.9 L390.9,155.4 L391.6,153.9 L392.4,152.3 L393.1,150.7 L393.8,149 L394.6,147.3 L395.3,145.6 L396,143.8 L396.8,141.9 L397.5,140.1 L398.2,138.1 L399,136.2 L399.7,134.2 L400.4,132.1 L401.2,130 L401.9,127.9 L402.6,125.8 L403.4,123.6 L404.1,121.4 L404.8,119.2 L405.5,116.9 L406.3,114.7 L407,112.4 L407.7,110.1 L408.5,107.8 L409.2,105.5 L409.9,103.3 L410.7,101 L411.4,98.7 L412.1,96.5 L412.9,94.3 L413.6,92.1 L414.3,89.9 L415.1,87.8 L415.8,85.8 L416.5,83.8 L417.3,81.8 L418,79.9 L418.7,78.1 L419.5,76.3 L420.2,74.6 L420.9,73 L421.7,71.4 L422.4,70 L423.1,68.6 L423.9,67.3 L424.6,66.1 L425.3,65 L426.1,63.9 L426.8,63 L427.5,62.1 L428.2,61.3 L429,60.6 L429.7,60 L430.4,59.4 L431.2,58.9 L431.9,58.5 L432.6,58.1 L433.4,57.8 L434.1,57.5 L434.8,57.3 L435.6,57.1 L436.3,57 L437,56.9 L437.8,56.8 L438.5,56.7 L439.2,56.6 L440,56.6 L440.7,56.6 L441.4,56.5 L442.2,56.5 L442.9,56.5 L443.6,56.5 L444.4,56.5 L445.1,56.5 L445.8,56.5 L446.6,56.5 L447.3,56.5 L448,56.5 L448.7,56.5 L449.5,56.5 L450.2,56.5 L450.9,56.5 L451.7,56.5 L452.4,56.5 L453.1,56.5 L453.9,56.5 L454.6,56.5 L455.3,56.5 L456.1,56.5 L456.8,56.5 L457.5,56.5 L458.3,56.5 L459,56.5" class="cv dsh"/>
<path d="M282.5 43.8V195.4H461V43.8Z" class="ax"/>
<text x="267.7" y="197.5" class="tl" text-anchor="middle">0</text>
<text x="267.7" y="167.7" class="tl" text-anchor="middle">0.2</text>
<text x="267.7" y="138" class="tl" text-anchor="middle">0.4</text>
<text x="267.7" y="108.2" class="tl" text-anchor="middle">0.6</text>
<text x="267.7" y="78.5" class="tl" text-anchor="middle">0.8</text>
<text x="267.7" y="48.7" class="tl" text-anchor="middle">1</text>
<text x="310.1" y="212.8" class="tl" text-anchor="middle">−4.5</text>
<text x="335.7" y="212.8" class="tl" text-anchor="middle">−4</text>
<text x="365.8" y="212.8" class="tl" text-anchor="middle">−3.5</text>
<text x="391.4" y="212.8" class="tl" text-anchor="middle">−3</text>
<text x="421.5" y="212.8" class="tl" text-anchor="middle">−2.5</text>
<text x="447.1" y="212.8" class="tl" text-anchor="middle">−2</text>
<path d="M278.5 195.4H282.5M278.5 165.6H282.5M278.5 135.9H282.5M278.5 106.1H282.5M278.5 76.4H282.5M278.5 46.6H282.5M310.3 195.4V198.9M338.2 195.4V198.9M366 195.4V198.9M393.9 195.4V198.9M421.7 195.4V198.9M449.6 195.4V198.9" class="ax"/>
<text x="288.1" y="66.6" class="tl">R<tspan class="sup" dy="-2.9">2</tspan><tspan dy="2.9">= 0.535</tspan></text>
<text x="288.1" y="82.6" class="tl">Nm= 555</text>
<path class="dt dc" d="M615.7 87.4h0M618.8 96h0M623.5 96h0M608 98.9h0M607.2 104.7h0M613.4 107.6h0M605.3 110.5h0M608.5 110.5h0M602.1 113.4h0M603.7 113.4h0M605.7 113.4h1.3M608.7 113.4h0M610.3 113.4h0M603.2 116.3h0M604.9 116.3h0M608.3 116.3h0M610 116.3h1.7M599.8 119.2h0M601.5 119.2h0M606.4 119.2h0M608 119.2h0M611.3 119.2h0M597.9 122h0.2M604.5 122h0M595 124.9h0M598.6 124.9h0M602.8 124.9h3M601.2 127.8h0M602 130.7h0M603.6 130.7h0M607.5 130.7h0M595.9 133.6h0M600.6 133.6h0M603.8 133.6h1.6M589.8 136.5h0M595.8 136.5h7.5M588.1 139.4h0M591.2 139.4h1.5M595.8 139.4h0M602 139.4h0M586.7 142.3h4.7M594.5 142.3h4.7M581.7 145.2h1.5M586.2 145.2h12.1M581.4 148.1h1.5M586 148.1h7.7M576.1 150.9h3.1M582.2 150.9h3.1M588.3 150.9h4.6M573.6 153.8h1.5M578.3 153.8h12.4M571.2 156.7h4.6M578.8 156.7h1.5M583.4 156.7h4.6M568.8 159.6h6.1M577.9 159.6h7.6M567.4 162.5h1.5M572 162.5h0M575 162.5h3M581.1 162.5h1.5M563.2 165.4h0M567.8 165.4h1.5M572.3 165.4h6.1M560.8 168.3h13.5M557.9 171.2h0M560.9 171.2h7.5M552.4 174.1h0M555.5 174.1h6M549.8 177h0M552.4 177h0"/>
<path class="dt dk" d="M642.7 72.9h0M630.5 81.6h1.4M636.7 93.1h0M627.4 96h0M624.3 98.9h0M629.7 104.7h0M621.2 107.6h0M631.2 110.5h0M618.1 113.4h0M617.3 119.2h0M625 119.2h0M620 122h0M612.8 124.9h0M614.5 124.9h0M616.2 124.9h0M617.9 124.9h0M610.5 127.8h0M612.2 127.8h0M614 127.8h0M615.7 127.8h0M617.4 127.8h0M619.1 127.8h0M623.5 127.8h1.5M609.1 130.7h1.6M613 130.7h7.3M606.9 133.6h14.1M604.9 136.5h15.1M603.6 139.4h15.4M622 139.4h0M600.8 142.3h14.1M618 142.3h0M599.9 145.2h16.7M596.7 148.1h12.2M612 148.1h3.1M594.5 150.9h18.4M592.2 153.8h18.5M589.5 156.7h7.6M600.2 156.7h9.1M586.9 159.6h21.2M584.1 162.5h16.7M603.9 162.5h3M579.9 165.4h25.8M575.8 168.3h13.5M592.4 168.3h12M570 171.2h10.6M583.6 171.2h13.6M600.1 171.2h3M563 174.1h10.6M576.6 174.1h24.2M554.2 177h42.6M546.1 179.8h0M549.8 179.8h0M552.4 179.8h0M554 179.8h38.3M595.6 179.8h0M541.5 182.7h0M546.1 182.7h0M549.8 182.7h0M552.4 182.7h12.1M567.5 182.7h4.5M575 182.7h13.6M534.9 185.6h0M541.5 185.6h0M546.1 185.6h0M549.8 185.6h0M552.4 185.6h3M558.5 185.6h26.7M525.4 188.5h0M534.9 188.5h0M541.5 188.5h0M546.1 188.5h0M549.8 188.5h0M552.4 188.5h20.8M576.2 188.5h0M579.2 188.5h0M509.2 191.4h0M525.4 191.4h0M534.9 191.4h0M541.5 191.4h0M546.1 191.4h0M549.8 191.4h0M552.4 191.4h2.8M558.3 191.4h10.9"/>
<path class="dt dr" d="M667.7 64.2h0M654.6 67.1h0M661.8 67.1h0M648.6 75.8h0M659.4 75.8h0M645.1 87.4h0.1M648 90.2h0M652.2 101.8h0M660.6 104.7h0M635 107.6h0M636 110.5h0M638 110.5h0M633.6 113.4h0M641 113.4h0M676.1 122h0M646 124.9h0M664.1 124.9h0M631.2 127.8h0M635.9 130.7h0M643.6 130.7h0M626.5 133.6h0M630.3 133.6h0M638.2 133.6h0M615.5 136.5h0M617.5 136.5h0M628 136.5h0M618.8 139.4h0M621.2 139.4h0M625.8 139.4h0M630.5 139.4h3.1M619.5 142.3h0.7M622.7 142.3h4.7M631.4 142.3h0.6M642.1 142.3h0M648.6 142.3h0M622.7 145.2h1.6M627.4 145.2h1.4M633.6 145.2h0M617.5 148.1h0M621.2 148.1h1.6M625 148.1h0M627.4 148.1h3M632 148.1h1.6M652.2 148.1h0M617.6 150.9h0M621.2 150.9h0M625.8 150.9h0M628.2 150.9h5.4M614.2 153.8h0M624.3 153.8h0M627.4 153.8h1.6M633.7 153.8h0M646 153.8h0M613.8 156.7h1M632.8 156.7h0.8M635.3 156.7h0.2M640.5 156.7h0M618.2 159.6h0M625.3 159.6h0.6M629.9 159.6h0M638 159.6h0M615.6 162.5h1.2M628.9 162.5h0M679.7 162.5h0M617 165.4h1.2M621 165.4h0M623.1 165.4h0.9M625.8 165.4h1.6M613.6 168.3h0M611.9 171.2h0M613.8 171.2h0M619.1 171.2h0M628.3 171.2h0.7M631.9 171.2h0.1M607.2 174.1h0M611.9 174.1h0M622 174.1h0.3M605 177h0.8M608.6 177h1.2M601.4 179.8h3.7M608.3 179.8h1.2M593.5 182.7h0M593 185.6h0.9M596.3 185.6h1.7M584.6 188.5h0.5M602.2 188.5h0M570.7 191.4h0M573.8 191.4h0M580.9 191.4h0M584.7 191.4h0M588.1 191.4h1.2M592.6 191.4h0.3M595 191.4h0M600 191.4h0"/>
<path d="M507.8,193.7 L508.5,193.7 L509.2,193.7 L510,193.6 L510.7,193.6 L511.4,193.6 L512.1,193.6 L512.9,193.6 L513.6,193.5 L514.3,193.5 L515,193.5 L515.7,193.5 L516.5,193.4 L517.2,193.4 L517.9,193.4 L518.6,193.4 L519.3,193.3 L520.1,193.3 L520.8,193.3 L521.5,193.2 L522.2,193.2 L523,193.2 L523.7,193.1 L524.4,193.1 L525.1,193 L525.8,193 L526.6,193 L527.3,192.9 L528,192.9 L528.7,192.8 L529.5,192.8 L530.2,192.7 L530.9,192.7 L531.6,192.6 L532.3,192.6 L533.1,192.5 L533.8,192.5 L534.5,192.4 L535.2,192.4 L535.9,192.3 L536.7,192.2 L537.4,192.2 L538.1,192.1 L538.8,192 L539.6,192 L540.3,191.9 L541,191.8 L541.7,191.7 L542.4,191.6 L543.2,191.6 L543.9,191.5 L544.6,191.4 L545.3,191.3 L546.1,191.2 L546.8,191.1 L547.5,191 L548.2,190.9 L548.9,190.8 L549.7,190.7 L550.4,190.6 L551.1,190.4 L551.8,190.3 L552.5,190.2 L553.3,190.1 L554,189.9 L554.7,189.8 L555.4,189.6 L556.2,189.5 L556.9,189.3 L557.6,189.2 L558.3,189 L559,188.9 L559.8,188.7 L560.5,188.5 L561.2,188.3 L561.9,188.1 L562.7,187.9 L563.4,187.7 L564.1,187.5 L564.8,187.3 L565.5,187.1 L566.3,186.9 L567,186.6 L567.7,186.4 L568.4,186.1 L569.1,185.9 L569.9,185.6 L570.6,185.3 L571.3,185 L572,184.8 L572.8,184.4 L573.5,184.1 L574.2,183.8 L574.9,183.5 L575.6,183.1 L576.4,182.8 L577.1,182.4 L577.8,182 L578.5,181.7 L579.3,181.3 L580,180.8 L580.7,180.4 L581.4,180 L582.1,179.5 L582.9,179.1 L583.6,178.6 L584.3,178.1 L585,177.6 L585.7,177 L586.5,176.5 L587.2,175.9 L587.9,175.3 L588.6,174.8 L589.4,174.1 L590.1,173.5 L590.8,172.8 L591.5,172.2 L592.2,171.5 L593,170.8 L593.7,170 L594.4,169.3 L595.1,168.5 L595.9,167.7 L596.6,166.9 L597.3,166 L598,165.1 L598.7,164.2 L599.5,163.3 L600.2,162.3 L600.9,161.4 L601.6,160.3 L602.4,159.3 L603.1,158.2 L603.8,157.1 L604.5,156 L605.2,154.9 L606,153.7 L606.7,152.4 L607.4,151.2 L608.1,149.9 L608.8,148.6 L609.6,147.2 L610.3,145.8 L611,144.4 L611.7,143 L612.5,141.5 L613.2,140 L613.9,138.4 L614.6,136.8 L615.3,135.2 L616.1,133.5 L616.8,131.9 L617.5,130.1 L618.2,128.4 L619,126.6 L619.7,124.8 L620.4,122.9 L621.1,121.1 L621.8,119.2 L622.6,117.2 L623.3,115.3 L624,113.3 L624.7,111.3 L625.4,109.3 L626.2,107.3 L626.9,105.2 L627.6,103.2 L628.3,101.1 L629.1,99.1 L629.8,97 L630.5,94.9 L631.2,92.9 L631.9,90.8 L632.7,88.8 L633.4,86.8 L634.1,84.8 L634.8,82.8 L635.6,80.8 L636.3,78.9 L637,77 L637.7,75.2 L638.4,73.3 L639.2,71.6 L639.9,69.9 L640.6,68.2 L641.3,66.6 L642,65.1 L642.8,63.6 L643.5,62.2 L644.2,60.8 L644.9,59.6 L645.7,58.4 L646.4,57.2 L647.1,56.2 L647.8,55.2 L648.5,54.2 L649.3,53.4 L650,52.6 L650.7,51.9 L651.4,51.2 L652.2,50.7 L652.9,50.1 L653.6,49.7 L654.3,49.2 L655,48.9 L655.8,48.5 L656.5,48.3 L657.2,48 L657.9,47.8 L658.6,47.6 L659.4,47.5 L660.1,47.4 L660.8,47.3 L661.5,47.2 L662.3,47.1 L663,47.1 L663.7,47 L664.4,47 L665.1,47 L665.9,47 L666.6,46.9 L667.3,46.9 L668,46.9 L668.8,46.9 L669.5,46.9 L670.2,46.9 L670.9,46.9 L671.6,46.9 L672.4,46.9 L673.1,46.9 L673.8,46.9 L674.5,46.9 L675.2,46.9 L676,46.9 L676.7,46.9 L677.4,46.9 L678.1,46.9 L678.9,46.9 L679.6,46.9 L680.3,46.9" class="cv"/>
<path d="M507.8,182.9 L508.5,182.9 L509.2,182.8 L510,182.8 L510.7,182.8 L511.4,182.7 L512.1,182.7 L512.9,182.6 L513.6,182.6 L514.3,182.6 L515,182.5 L515.7,182.5 L516.5,182.4 L517.2,182.4 L517.9,182.3 L518.6,182.3 L519.3,182.2 L520.1,182.2 L520.8,182.1 L521.5,182.1 L522.2,182 L523,181.9 L523.7,181.9 L524.4,181.8 L525.1,181.8 L525.8,181.7 L526.6,181.6 L527.3,181.6 L528,181.5 L528.7,181.4 L529.5,181.3 L530.2,181.2 L530.9,181.2 L531.6,181.1 L532.3,181 L533.1,180.9 L533.8,180.8 L534.5,180.7 L535.2,180.6 L535.9,180.5 L536.7,180.4 L537.4,180.3 L538.1,180.2 L538.8,180.1 L539.6,180 L540.3,179.9 L541,179.7 L541.7,179.6 L542.4,179.5 L543.2,179.4 L543.9,179.2 L544.6,179.1 L545.3,178.9 L546.1,178.8 L546.8,178.6 L547.5,178.5 L548.2,178.3 L548.9,178.2 L549.7,178 L550.4,177.8 L551.1,177.6 L551.8,177.4 L552.5,177.3 L553.3,177.1 L554,176.9 L554.7,176.7 L555.4,176.4 L556.2,176.2 L556.9,176 L557.6,175.8 L558.3,175.5 L559,175.3 L559.8,175.1 L560.5,174.8 L561.2,174.5 L561.9,174.3 L562.7,174 L563.4,173.7 L564.1,173.4 L564.8,173.1 L565.5,172.8 L566.3,172.5 L567,172.2 L567.7,171.8 L568.4,171.5 L569.1,171.2 L569.9,170.8 L570.6,170.4 L571.3,170 L572,169.7 L572.8,169.3 L573.5,168.8 L574.2,168.4 L574.9,168 L575.6,167.5 L576.4,167.1 L577.1,166.6 L577.8,166.1 L578.5,165.6 L579.3,165.1 L580,164.6 L580.7,164.1 L581.4,163.5 L582.1,163 L582.9,162.4 L583.6,161.8 L584.3,161.2 L585,160.6 L585.7,159.9 L586.5,159.3 L587.2,158.6 L587.9,157.9 L588.6,157.2 L589.4,156.5 L590.1,155.7 L590.8,155 L591.5,154.2 L592.2,153.4 L593,152.5 L593.7,151.7 L594.4,150.8 L595.1,149.9 L595.9,149 L596.6,148.1 L597.3,147.1 L598,146.2 L598.7,145.2 L599.5,144.1 L600.2,143.1 L600.9,142 L601.6,140.9 L602.4,139.8 L603.1,138.6 L603.8,137.4 L604.5,136.2 L605.2,135 L606,133.8 L606.7,132.5 L607.4,131.2 L608.1,129.8 L608.8,128.5 L609.6,127.1 L610.3,125.7 L611,124.2 L611.7,122.8 L612.5,121.3 L613.2,119.7 L613.9,118.2 L614.6,116.6 L615.3,115 L616.1,113.4 L616.8,111.8 L617.5,110.1 L618.2,108.4 L619,106.7 L619.7,105 L620.4,103.3 L621.1,101.5 L621.8,99.8 L622.6,98 L623.3,96.2 L624,94.4 L624.7,92.6 L625.4,90.8 L626.2,89 L626.9,87.2 L627.6,85.4 L628.3,83.6 L629.1,81.9 L629.8,80.1 L630.5,78.4 L631.2,76.6 L631.9,74.9 L632.7,73.3 L633.4,71.6 L634.1,70 L634.8,68.5 L635.6,66.9 L636.3,65.5 L637,64 L637.7,62.7 L638.4,61.3 L639.2,60.1 L639.9,58.8 L640.6,57.7 L641.3,56.6 L642,55.6 L642.8,54.6 L643.5,53.7 L644.2,52.9 L644.9,52.1 L645.7,51.4 L646.4,50.8 L647.1,50.2 L647.8,49.7 L648.5,49.2 L649.3,48.8 L650,48.5 L650.7,48.2 L651.4,47.9 L652.2,47.7 L652.9,47.5 L653.6,47.4 L654.3,47.3 L655,47.2 L655.8,47.1 L656.5,47 L657.2,47 L657.9,47 L658.6,46.9 L659.4,46.9 L660.1,46.9 L660.8,46.9 L661.5,46.9 L662.3,46.9 L663,46.9 L663.7,46.9 L664.4,46.9 L665.1,46.9 L665.9,46.9 L666.6,46.9 L667.3,46.9 L668,46.9 L668.8,46.9 L669.5,46.9 L670.2,46.9 L670.9,46.9 L671.6,46.9 L672.4,46.9 L673.1,46.9 L673.8,46.9 L674.5,46.9 L675.2,46.9 L676,46.9 L676.7,46.9 L677.4,46.9 L678.1,46.9 L678.9,46.9 L679.6,46.9 L680.3,46.9" class="cv dsh"/>
<path d="M507.8,194.3 L508.5,194.3 L509.2,194.3 L510,194.3 L510.7,194.3 L511.4,194.3 L512.1,194.3 L512.9,194.3 L513.6,194.3 L514.3,194.3 L515,194.2 L515.7,194.2 L516.5,194.2 L517.2,194.2 L517.9,194.2 L518.6,194.2 L519.3,194.2 L520.1,194.2 L520.8,194.2 L521.5,194.2 L522.2,194.2 L523,194.2 L523.7,194.2 L524.4,194.2 L525.1,194.2 L525.8,194.2 L526.6,194.2 L527.3,194.2 L528,194.2 L528.7,194.1 L529.5,194.1 L530.2,194.1 L530.9,194.1 L531.6,194.1 L532.3,194.1 L533.1,194.1 L533.8,194.1 L534.5,194.1 L535.2,194 L535.9,194 L536.7,194 L537.4,194 L538.1,194 L538.8,194 L539.6,193.9 L540.3,193.9 L541,193.9 L541.7,193.9 L542.4,193.9 L543.2,193.8 L543.9,193.8 L544.6,193.8 L545.3,193.8 L546.1,193.7 L546.8,193.7 L547.5,193.7 L548.2,193.6 L548.9,193.6 L549.7,193.6 L550.4,193.5 L551.1,193.5 L551.8,193.4 L552.5,193.4 L553.3,193.3 L554,193.3 L554.7,193.2 L555.4,193.2 L556.2,193.1 L556.9,193.1 L557.6,193 L558.3,192.9 L559,192.9 L559.8,192.8 L560.5,192.7 L561.2,192.6 L561.9,192.5 L562.7,192.4 L563.4,192.4 L564.1,192.3 L564.8,192.2 L565.5,192.1 L566.3,191.9 L567,191.8 L567.7,191.7 L568.4,191.6 L569.1,191.4 L569.9,191.3 L570.6,191.2 L571.3,191 L572,190.9 L572.8,190.7 L573.5,190.5 L574.2,190.3 L574.9,190.2 L575.6,190 L576.4,189.8 L577.1,189.6 L577.8,189.3 L578.5,189.1 L579.3,188.9 L580,188.6 L580.7,188.4 L581.4,188.1 L582.1,187.8 L582.9,187.5 L583.6,187.2 L584.3,186.9 L585,186.6 L585.7,186.2 L586.5,185.9 L587.2,185.5 L587.9,185.1 L588.6,184.7 L589.4,184.3 L590.1,183.9 L590.8,183.4 L591.5,183 L592.2,182.5 L593,182 L593.7,181.4 L594.4,180.9 L595.1,180.3 L595.9,179.8 L596.6,179.1 L597.3,178.5 L598,177.9 L598.7,177.2 L599.5,176.5 L600.2,175.8 L600.9,175 L601.6,174.2 L602.4,173.4 L603.1,172.6 L603.8,171.7 L604.5,170.8 L605.2,169.9 L606,168.9 L606.7,167.9 L607.4,166.9 L608.1,165.9 L608.8,164.8 L609.6,163.6 L610.3,162.5 L611,161.3 L611.7,160.1 L612.5,158.8 L613.2,157.5 L613.9,156.1 L614.6,154.7 L615.3,153.3 L616.1,151.9 L616.8,150.4 L617.5,148.8 L618.2,147.2 L619,145.6 L619.7,144 L620.4,142.3 L621.1,140.5 L621.8,138.8 L622.6,137 L623.3,135.1 L624,133.2 L624.7,131.3 L625.4,129.4 L626.2,127.4 L626.9,125.4 L627.6,123.4 L628.3,121.4 L629.1,119.3 L629.8,117.2 L630.5,115.1 L631.2,113 L631.9,110.9 L632.7,108.8 L633.4,106.6 L634.1,104.5 L634.8,102.4 L635.6,100.3 L636.3,98.2 L637,96.1 L637.7,94 L638.4,92 L639.2,90 L639.9,88 L640.6,86.1 L641.3,84.2 L642,82.4 L642.8,80.6 L643.5,78.9 L644.2,77.2 L644.9,75.6 L645.7,74 L646.4,72.6 L647.1,71.2 L647.8,69.8 L648.5,68.6 L649.3,67.4 L650,66.3 L650.7,65.2 L651.4,64.3 L652.2,63.4 L652.9,62.6 L653.6,61.9 L654.3,61.2 L655,60.6 L655.8,60.1 L656.5,59.6 L657.2,59.2 L657.9,58.9 L658.6,58.6 L659.4,58.3 L660.1,58.1 L660.8,57.9 L661.5,57.8 L662.3,57.6 L663,57.5 L663.7,57.5 L664.4,57.4 L665.1,57.4 L665.9,57.3 L666.6,57.3 L667.3,57.3 L668,57.3 L668.8,57.2 L669.5,57.2 L670.2,57.2 L670.9,57.2 L671.6,57.2 L672.4,57.2 L673.1,57.2 L673.8,57.2 L674.5,57.2 L675.2,57.2 L676,57.2 L676.7,57.2 L677.4,57.2 L678.1,57.2 L678.9,57.2 L679.6,57.2 L680.3,57.2" class="cv dsh"/>
<path d="M506.3 44.5V194.3H682.3V44.5Z" class="ax"/>
<text x="492.3" y="196.4" class="tl" text-anchor="middle">0</text>
<text x="492.3" y="166.9" class="tl" text-anchor="middle">0.2</text>
<text x="492.3" y="137.4" class="tl" text-anchor="middle">0.4</text>
<text x="492.3" y="108" class="tl" text-anchor="middle">0.6</text>
<text x="492.3" y="78.5" class="tl" text-anchor="middle">0.8</text>
<text x="492.3" y="49" class="tl" text-anchor="middle">1</text>
<text x="509.3" y="213" class="tl" text-anchor="middle">−5</text>
<text x="538.5" y="213" class="tl" text-anchor="middle">−4.5</text>
<text x="562.6" y="213" class="tl" text-anchor="middle">−4</text>
<text x="591.8" y="213" class="tl" text-anchor="middle">−3.5</text>
<text x="615.9" y="213" class="tl" text-anchor="middle">−3</text>
<text x="645" y="213" class="tl" text-anchor="middle">−2.5</text>
<text x="669.2" y="213" class="tl" text-anchor="middle">−2</text>
<path d="M502.3 194.3H506.3M502.3 164.8H506.3M502.3 135.3H506.3M502.3 105.9H506.3M502.3 76.4H506.3M502.3 46.9H506.3M506.3 194.3V197.8M533 194.3V197.8M559.6 194.3V197.8M586.2 194.3V197.8M612.9 194.3V197.8M639.5 194.3V197.8M666.2 194.3V197.8" class="ax"/>
<text x="515.5" y="66.6" class="tl">R<tspan class="sup" dy="-2.9">2</tspan><tspan dy="2.9">= 0.467</tspan></text>
<text x="515.5" y="82.6" class="tl">Nm= 324</text>
<path class="dt dc" d="M161.8 267.7h0M154.7 280.1h0M147.6 289.4h0M148.5 292.6h0M144.8 295.7h0M134.6 298.8h0M139.9 298.8h0M143.9 298.8h0.1M135.3 301.9h0M137.8 301.9h0M141.4 301.9h0M138.1 305h0M141 305h0M136.7 308.1h0M138.4 308.1h0M144 308.1h0M135.7 311.2h8.3M133.3 314.3h1.4M144 314.3h0M139.2 317.4h0M129.2 320.5h1.3M133 320.5h0M135 320.5h0M137 320.5h0M139 320.5h0M141 320.5h0M124.7 323.6h0.3M139.2 323.6h0M122.5 326.7h0.9M129 326.7h0.6M135.1 326.7h0M115.5 329.8h0M128.3 329.8h0.7M131.5 329.8h0M118.3 332.9h0.2M122.4 332.9h1.5M118.2 336h1M122.2 336h0M127 336h3.4M132.5 336h0M121.1 339.1h1.6M124.3 339.1h0M126 339.1h0M127.6 339.1h0M130.8 339.1h0M117.5 342.2h0M120.7 342.2h1.6M128.6 342.2h0M116.5 345.3h0M118.1 345.3h0M119.8 345.3h0M121.5 345.3h0M123.1 345.3h0M124.8 345.3h0M127.5 345.3h0.5M129.7 345.3h1M114.6 348.4h0M117.9 348.4h0M121.1 348.4h0M122.8 348.4h0M124.4 348.4h4.9M111.7 351.5h0M113.5 351.5h0M115.3 351.5h0M117.4 351.5h9.1M107.1 354.6h0M109 354.6h0M112.1 354.6h9.4M124.7 354.6h1.6M104 357.7h13.8M120.9 357.7h3.1M100.7 360.9h1.5M106.7 360.9h3M114.3 360.9h7.6M97.6 363.9h6.2M106.8 363.9h12.3M95.7 367.1h21.6M94.5 370.2h1.5M99.1 370.2h0M105.1 370.2h9.1M93.1 373.3h10.5M106.6 373.3h4.5M88.2 376.4h9.2M100.4 376.4h6.1M85.5 379.5h1.5M90.1 379.5h12.3M83.7 382.6h6.1M92.8 382.6h4.6M82.7 385.7h6.1"/>
<path class="dt dk" d="M172.5 255.3h0M198.5 255.3h0M215.1 255.3h0M187.9 258.4h0M163 267.7h0M166.5 273.9h0M167.7 277h0M164 280.1h0M166.5 283.2h0M160.6 286.4h0M158.3 292.6h0M154.7 295.7h0M152.3 298.8h0M153.5 305h0M150 308.1h0M144.7 314.3h0M146.4 314.3h0M147.6 317.4h0M144 323.6h0M139.5 326.7h0.3M141.7 329.8h0M137.1 332.9h0M145.3 332.9h0M136.5 336h1.5M134 339.1h0M140 339.1h0M141.7 339.1h0M143.3 339.1h0M147.6 339.1h0M150 339.1h0M132.8 342.2h1.6M137.5 342.2h0M142.2 342.2h3.9M148.3 342.2h0M151 342.2h0M133.9 345.3h1.6M138.7 345.3h4.7M147.1 345.3h0M130.8 348.4h4.5M137.1 348.4h2.8M142.9 348.4h2.8M131.8 351.5h2M136.1 351.5h1M140.1 351.5h0M141.8 351.5h3.8M147.6 351.5h0M129.4 354.6h1.6M134.1 354.6h7.8M125.5 357.7h4.6M132.9 357.7h0.3M136.8 357.7h2.5M142.9 357.7h0M130.9 360.9h7.6M142.6 360.9h0M120.7 363.9h16.9M139.8 363.9h0.4M118.8 367.1h3.1M125 367.1h14.7M115.7 370.2h9.1M129.4 370.2h1.5M133.9 370.2h0.8M137 370.2h0.9M112.6 373.3h24M109.6 376.4h6.1M118.8 376.4h6.1M128 376.4h6.1M104 379.5h7.7M114.8 379.5h3.1M121 379.5h10.8M98.9 382.6h4.6M106.6 382.6h1.5M112.7 382.6h0M115.7 382.6h13.7M91.9 385.7h35.3M77.5 388.8h0M80.7 388.8h1.8M88.5 388.8h3M94.6 388.8h10.6M108.3 388.8h16.7M73.6 391.9h0M77.5 391.9h0M80.7 391.9h3.6M88.9 391.9h18.4M110.4 391.9h7.7M121.1 391.9h1.5M67.6 395h0M73.6 395h0M77.5 395h0M80.7 395h14.6M98.4 395h3.1M104.5 395h13.8M56.2 398.1h0M67.6 398.1h0M73.6 398.1h0M77.5 398.1h0M80.7 398.1h30.2"/>
<path class="dt dr" d="M198.5 264.6h0M178.4 267.7h0M185.5 267.7h0M182 273.9h0M187.9 286.4h0M182 289.4h0M173.7 295.7h0M164.2 298.8h0M168.9 298.8h0M177.2 298.8h0M182 298.8h0M164.2 305h0M168.9 308.1h0M182 311.2h0M160.6 314.3h0M165.4 314.3h0M168.9 314.3h0M184.3 320.5h0M168.9 323.6h0M172.5 323.6h0M157.1 326.7h0M159.5 326.7h0M162 326.7h0M164.5 326.7h0M167.7 326.7h0M159.4 332.9h0M163 332.9h0M166.5 332.9h0M177.2 332.9h0M204.5 336h0M165.4 339.1h0M154.7 342.2h0M158.3 345.3h0M164.2 345.3h0M148.9 354.6h3.8M146.9 357.7h1.1M150 357.7h0M182 357.7h0M144 363.9h0M146.4 363.9h0M144 367.1h0.6M146.9 367.1h0M152.3 367.1h0M154.5 367.1h0M158.3 367.1h0M143.2 370.2h0.3M155.9 370.2h0M145.5 373.3h0M147.6 373.3h0M159.4 373.3h0M141.7 376.4h0M148 376.4h0M143.2 379.5h0M138.4 382.6h0M151.1 385.7h0.8M155.9 385.7h0M136.9 388.8h0M164.2 388.8h0M135.3 391.9h0M138.1 391.9h0M140.8 391.9h0M121.4 395h0M127.4 395h0M145.6 395h0.8M120.1 398.1h0M125 398.1h0M127.5 398.1h0M130 398.1h0M132.1 398.1h0.1M137 398.1h0"/>
<path d="M54.3,400.9 L55,400.9 L55.8,400.9 L56.5,400.9 L57.2,400.9 L58,400.9 L58.7,400.9 L59.4,400.8 L60.1,400.8 L60.9,400.8 L61.6,400.8 L62.3,400.8 L63.1,400.7 L63.8,400.7 L64.5,400.7 L65.3,400.7 L66,400.7 L66.7,400.6 L67.4,400.6 L68.2,400.6 L68.9,400.5 L69.6,400.5 L70.4,400.5 L71.1,400.4 L71.8,400.4 L72.6,400.4 L73.3,400.3 L74,400.3 L74.8,400.3 L75.5,400.2 L76.2,400.2 L76.9,400.1 L77.7,400.1 L78.4,400 L79.1,400 L79.9,399.9 L80.6,399.8 L81.3,399.8 L82.1,399.7 L82.8,399.7 L83.5,399.6 L84.3,399.5 L85,399.4 L85.7,399.3 L86.4,399.3 L87.2,399.2 L87.9,399.1 L88.6,399 L89.4,398.9 L90.1,398.8 L90.8,398.7 L91.6,398.5 L92.3,398.4 L93,398.3 L93.7,398.2 L94.5,398 L95.2,397.9 L95.9,397.7 L96.7,397.6 L97.4,397.4 L98.1,397.2 L98.9,397 L99.6,396.8 L100.3,396.6 L101.1,396.4 L101.8,396.2 L102.5,396 L103.2,395.7 L104,395.5 L104.7,395.2 L105.4,395 L106.2,394.7 L106.9,394.4 L107.6,394.1 L108.4,393.8 L109.1,393.4 L109.8,393.1 L110.6,392.7 L111.3,392.3 L112,391.9 L112.7,391.5 L113.5,391.1 L114.2,390.6 L114.9,390.1 L115.7,389.6 L116.4,389.1 L117.1,388.6 L117.9,388 L118.6,387.4 L119.3,386.8 L120,386.2 L120.8,385.5 L121.5,384.8 L122.2,384.1 L123,383.3 L123.7,382.6 L124.4,381.8 L125.2,380.9 L125.9,380 L126.6,379.1 L127.4,378.2 L128.1,377.2 L128.8,376.1 L129.5,375.1 L130.3,374 L131,372.8 L131.7,371.6 L132.5,370.4 L133.2,369.1 L133.9,367.8 L134.7,366.4 L135.4,365 L136.1,363.5 L136.9,361.9 L137.6,360.4 L138.3,358.7 L139,357.1 L139.8,355.3 L140.5,353.5 L141.2,351.7 L142,349.8 L142.7,347.8 L143.4,345.8 L144.2,343.8 L144.9,341.7 L145.6,339.5 L146.3,337.3 L147.1,335 L147.8,332.7 L148.5,330.4 L149.3,328 L150,325.5 L150.7,323.1 L151.5,320.5 L152.2,318 L152.9,315.4 L153.7,312.9 L154.4,310.3 L155.1,307.6 L155.8,305 L156.6,302.4 L157.3,299.8 L158,297.2 L158.8,294.6 L159.5,292.1 L160.2,289.5 L161,287.1 L161.7,284.6 L162.4,282.3 L163.2,279.9 L163.9,277.7 L164.6,275.6 L165.3,273.5 L166.1,271.5 L166.8,269.6 L167.5,267.8 L168.3,266.1 L169,264.5 L169.7,263.1 L170.5,261.7 L171.2,260.5 L171.9,259.3 L172.6,258.3 L173.4,257.4 L174.1,256.6 L174.8,255.8 L175.6,255.2 L176.3,254.6 L177,254.2 L177.8,253.8 L178.5,253.4 L179.2,253.2 L180,252.9 L180.7,252.8 L181.4,252.6 L182.1,252.5 L182.9,252.4 L183.6,252.4 L184.3,252.3 L185.1,252.3 L185.8,252.3 L186.5,252.2 L187.3,252.2 L188,252.2 L188.7,252.2 L189.5,252.2 L190.2,252.2 L190.9,252.2 L191.6,252.2 L192.4,252.2 L193.1,252.2 L193.8,252.2 L194.6,252.2 L195.3,252.2 L196,252.2 L196.8,252.2 L197.5,252.2 L198.2,252.2 L198.9,252.2 L199.7,252.2 L200.4,252.2 L201.1,252.2 L201.9,252.2 L202.6,252.2 L203.3,252.2 L204.1,252.2 L204.8,252.2 L205.5,252.2 L206.3,252.2 L207,252.2 L207.7,252.2 L208.4,252.2 L209.2,252.2 L209.9,252.2 L210.6,252.2 L211.4,252.2 L212.1,252.2 L212.8,252.2 L213.6,252.2 L214.3,252.2 L215,252.2 L215.8,252.2 L216.5,252.2 L217.2,252.2 L217.9,252.2 L218.7,252.2 L219.4,252.2 L220.1,252.2 L220.9,252.2 L221.6,252.2 L222.3,252.2 L223.1,252.2 L223.8,252.2 L224.5,252.2 L225.2,252.2 L226,252.2 L226.7,252.2 L227.4,252.2 L228.2,252.2 L228.9,252.2" class="cv"/>
<path d="M54.3,390.2 L55,390.2 L55.8,390.2 L56.5,390.1 L57.2,390.1 L58,390.1 L58.7,390 L59.4,390 L60.1,389.9 L60.9,389.9 L61.6,389.9 L62.3,389.8 L63.1,389.8 L63.8,389.7 L64.5,389.7 L65.3,389.6 L66,389.6 L66.7,389.5 L67.4,389.4 L68.2,389.4 L68.9,389.3 L69.6,389.2 L70.4,389.2 L71.1,389.1 L71.8,389 L72.6,388.9 L73.3,388.8 L74,388.8 L74.8,388.7 L75.5,388.6 L76.2,388.5 L76.9,388.4 L77.7,388.3 L78.4,388.1 L79.1,388 L79.9,387.9 L80.6,387.8 L81.3,387.6 L82.1,387.5 L82.8,387.3 L83.5,387.2 L84.3,387 L85,386.9 L85.7,386.7 L86.4,386.5 L87.2,386.3 L87.9,386.1 L88.6,385.9 L89.4,385.7 L90.1,385.5 L90.8,385.3 L91.6,385.1 L92.3,384.8 L93,384.6 L93.7,384.3 L94.5,384 L95.2,383.7 L95.9,383.5 L96.7,383.1 L97.4,382.8 L98.1,382.5 L98.9,382.2 L99.6,381.8 L100.3,381.4 L101.1,381 L101.8,380.6 L102.5,380.2 L103.2,379.8 L104,379.4 L104.7,378.9 L105.4,378.4 L106.2,377.9 L106.9,377.4 L107.6,376.9 L108.4,376.3 L109.1,375.8 L109.8,375.2 L110.6,374.5 L111.3,373.9 L112,373.2 L112.7,372.6 L113.5,371.8 L114.2,371.1 L114.9,370.4 L115.7,369.6 L116.4,368.8 L117.1,367.9 L117.9,367 L118.6,366.1 L119.3,365.2 L120,364.3 L120.8,363.3 L121.5,362.2 L122.2,361.2 L123,360.1 L123.7,359 L124.4,357.8 L125.2,356.6 L125.9,355.4 L126.6,354.1 L127.4,352.8 L128.1,351.4 L128.8,350 L129.5,348.6 L130.3,347.1 L131,345.6 L131.7,344.1 L132.5,342.5 L133.2,340.9 L133.9,339.2 L134.7,337.5 L135.4,335.8 L136.1,334 L136.9,332.2 L137.6,330.3 L138.3,328.4 L139,326.5 L139.8,324.5 L140.5,322.5 L141.2,320.5 L142,318.5 L142.7,316.4 L143.4,314.3 L144.2,312.2 L144.9,310.1 L145.6,307.9 L146.3,305.8 L147.1,303.6 L147.8,301.5 L148.5,299.4 L149.3,297.2 L150,295.1 L150.7,293.1 L151.5,291 L152.2,289 L152.9,287 L153.7,285.1 L154.4,283.2 L155.1,281.4 L155.8,279.6 L156.6,277.9 L157.3,276.3 L158,274.7 L158.8,273.3 L159.5,271.9 L160.2,270.6 L161,269.5 L161.7,268.4 L162.4,267.4 L163.2,266.5 L163.9,265.7 L164.6,264.9 L165.3,264.3 L166.1,263.8 L166.8,263.3 L167.5,262.9 L168.3,262.6 L169,262.3 L169.7,262.1 L170.5,262 L171.2,261.9 L171.9,261.8 L172.6,261.7 L173.4,261.7 L174.1,261.6 L174.8,261.6 L175.6,261.6 L176.3,261.6 L177,261.6 L177.8,261.6 L178.5,261.6 L179.2,261.6 L180,261.6 L180.7,261.6 L181.4,261.6 L182.1,261.6 L182.9,261.6 L183.6,261.6 L184.3,261.6 L185.1,261.6 L185.8,261.6 L186.5,261.6 L187.3,261.6 L188,261.6 L188.7,261.6 L189.5,261.6 L190.2,261.6 L190.9,261.6 L191.6,261.6 L192.4,261.6 L193.1,261.6 L193.8,261.6 L194.6,261.6 L195.3,261.6 L196,261.6 L196.8,261.6 L197.5,261.6 L198.2,261.6 L198.9,261.6 L199.7,261.6 L200.4,261.6 L201.1,261.6 L201.9,261.6 L202.6,261.6 L203.3,261.6 L204.1,261.6 L204.8,261.6 L205.5,261.6 L206.3,261.6 L207,261.6 L207.7,261.6 L208.4,261.6 L209.2,261.6 L209.9,261.6 L210.6,261.6 L211.4,261.6 L212.1,261.6 L212.8,261.6 L213.6,261.6 L214.3,261.6 L215,261.6 L215.8,261.6 L216.5,261.6 L217.2,261.6 L217.9,261.6 L218.7,261.6 L219.4,261.6 L220.1,261.6 L220.9,261.6 L221.6,261.6 L222.3,261.6 L223.1,261.6 L223.8,261.6 L224.5,261.6 L225.2,261.6 L226,261.6 L226.7,261.6 L227.4,261.6 L228.2,261.6 L228.9,261.6" class="cv dsh"/>
<path d="M54.3,401.2 L55,401.2 L55.8,401.2 L56.5,401.2 L57.2,401.2 L58,401.2 L58.7,401.2 L59.4,401.2 L60.1,401.2 L60.9,401.2 L61.6,401.2 L62.3,401.2 L63.1,401.2 L63.8,401.2 L64.5,401.2 L65.3,401.2 L66,401.2 L66.7,401.2 L67.4,401.2 L68.2,401.2 L68.9,401.2 L69.6,401.2 L70.4,401.2 L71.1,401.2 L71.8,401.2 L72.6,401.1 L73.3,401.1 L74,401.1 L74.8,401.1 L75.5,401.1 L76.2,401.1 L76.9,401.1 L77.7,401.1 L78.4,401.1 L79.1,401.1 L79.9,401.1 L80.6,401.1 L81.3,401.1 L82.1,401.1 L82.8,401 L83.5,401 L84.3,401 L85,401 L85.7,401 L86.4,401 L87.2,400.9 L87.9,400.9 L88.6,400.9 L89.4,400.9 L90.1,400.8 L90.8,400.8 L91.6,400.8 L92.3,400.7 L93,400.7 L93.7,400.7 L94.5,400.6 L95.2,400.6 L95.9,400.5 L96.7,400.5 L97.4,400.4 L98.1,400.4 L98.9,400.3 L99.6,400.2 L100.3,400.2 L101.1,400.1 L101.8,400 L102.5,399.9 L103.2,399.8 L104,399.7 L104.7,399.6 L105.4,399.5 L106.2,399.4 L106.9,399.2 L107.6,399.1 L108.4,398.9 L109.1,398.8 L109.8,398.6 L110.6,398.4 L111.3,398.2 L112,398 L112.7,397.8 L113.5,397.6 L114.2,397.3 L114.9,397.1 L115.7,396.8 L116.4,396.5 L117.1,396.2 L117.9,395.9 L118.6,395.5 L119.3,395.1 L120,394.8 L120.8,394.3 L121.5,393.9 L122.2,393.5 L123,393 L123.7,392.5 L124.4,391.9 L125.2,391.4 L125.9,390.8 L126.6,390.2 L127.4,389.5 L128.1,388.8 L128.8,388.1 L129.5,387.3 L130.3,386.5 L131,385.7 L131.7,384.8 L132.5,383.9 L133.2,382.9 L133.9,381.9 L134.7,380.9 L135.4,379.7 L136.1,378.6 L136.9,377.4 L137.6,376.1 L138.3,374.8 L139,373.5 L139.8,372 L140.5,370.6 L141.2,369 L142,367.4 L142.7,365.8 L143.4,364.1 L144.2,362.3 L144.9,360.4 L145.6,358.6 L146.3,356.6 L147.1,354.6 L147.8,352.5 L148.5,350.3 L149.3,348.1 L150,345.9 L150.7,343.6 L151.5,341.2 L152.2,338.8 L152.9,336.3 L153.7,333.8 L154.4,331.3 L155.1,328.7 L155.8,326.1 L156.6,323.5 L157.3,320.8 L158,318.1 L158.8,315.4 L159.5,312.8 L160.2,310.1 L161,307.4 L161.7,304.8 L162.4,302.2 L163.2,299.6 L163.9,297 L164.6,294.6 L165.3,292.1 L166.1,289.8 L166.8,287.5 L167.5,285.3 L168.3,283.2 L169,281.2 L169.7,279.4 L170.5,277.6 L171.2,275.9 L171.9,274.3 L172.6,272.9 L173.4,271.6 L174.1,270.3 L174.8,269.3 L175.6,268.3 L176.3,267.4 L177,266.7 L177.8,266 L178.5,265.4 L179.2,265 L180,264.6 L180.7,264.3 L181.4,264 L182.1,263.8 L182.9,263.7 L183.6,263.5 L184.3,263.4 L185.1,263.4 L185.8,263.3 L186.5,263.3 L187.3,263.3 L188,263.3 L188.7,263.3 L189.5,263.3 L190.2,263.2 L190.9,263.2 L191.6,263.2 L192.4,263.2 L193.1,263.2 L193.8,263.2 L194.6,263.2 L195.3,263.2 L196,263.2 L196.8,263.2 L197.5,263.2 L198.2,263.2 L198.9,263.2 L199.7,263.2 L200.4,263.2 L201.1,263.2 L201.9,263.2 L202.6,263.2 L203.3,263.2 L204.1,263.2 L204.8,263.2 L205.5,263.2 L206.3,263.2 L207,263.2 L207.7,263.2 L208.4,263.2 L209.2,263.2 L209.9,263.2 L210.6,263.2 L211.4,263.2 L212.1,263.2 L212.8,263.2 L213.6,263.2 L214.3,263.2 L215,263.2 L215.8,263.2 L216.5,263.2 L217.2,263.2 L217.9,263.2 L218.7,263.2 L219.4,263.2 L220.1,263.2 L220.9,263.2 L221.6,263.2 L222.3,263.2 L223.1,263.2 L223.8,263.2 L224.5,263.2 L225.2,263.2 L226,263.2 L226.7,263.2 L227.4,263.2 L228.2,263.2 L228.9,263.2" class="cv dsh"/>
<path d="M52.8 249.6V401.2H230.9V249.6Z" class="ax"/>
<text x="37.4" y="403.3" class="tl" text-anchor="middle">0</text>
<text x="37.4" y="373.5" class="tl" text-anchor="middle">0.2</text>
<text x="37.4" y="343.7" class="tl" text-anchor="middle">0.4</text>
<text x="37.4" y="313.9" class="tl" text-anchor="middle">0.6</text>
<text x="37.4" y="284.1" class="tl" text-anchor="middle">0.8</text>
<text x="37.4" y="254.3" class="tl" text-anchor="middle">1</text>
<text x="67.6" y="417.4" class="tl" text-anchor="middle">−5</text>
<text x="104.7" y="417.4" class="tl" text-anchor="middle">−4</text>
<text x="141.8" y="417.4" class="tl" text-anchor="middle">−3</text>
<text x="178.9" y="417.4" class="tl" text-anchor="middle">−2</text>
<text x="216" y="417.4" class="tl" text-anchor="middle">−1</text>
<path d="M48.8 401.2H52.8M48.8 371.4H52.8M48.8 341.6H52.8M48.8 311.8H52.8M48.8 282H52.8M48.8 252.2H52.8M68.8 401.2V404.7M105.9 401.2V404.7M143 401.2V404.7M180.1 401.2V404.7M217.2 401.2V404.7" class="ax"/>
<text x="56.6" y="272.5" class="tl">R<tspan class="sup" dy="-2.9">2</tspan><tspan dy="2.9">= 0.519</tspan></text>
<text x="56.6" y="290.5" class="tl">Nm= 146</text>
<path class="dt dc" d="M383.5 269.9h0M386 272.5h0M395 277.6h0M391.8 280.1h0M371.7 292.9h0M382.3 292.9h0M384.7 292.9h0M387.1 298.1h0M376.7 303.2h0M370.5 305.7h0M373 305.7h0M375.5 305.7h0.9M378 305.7h1M373.1 308.3h0M376.5 308.3h0M380 308.3h0M381.8 308.3h1.3M373.2 310.9h0M376.2 310.9h0.2M382 310.9h0M369.2 313.4h0M373.8 313.4h0M381.4 313.4h0M365 316h0M367 316h0M375.4 316h0M363.2 318.5h0M368.1 318.5h0M370.3 318.5h0.5M372.6 318.5h1.4M376 318.5h0M380.2 318.5h0M364.5 321.1h1.2M363 323.6h0M372.1 323.6h0M377.7 323.6h0M352.6 328.8h0M354.7 328.8h0M357.4 328.8h1.3M365.9 328.8h0M352.4 331.3h0M356.5 331.3h0M358.6 331.3h0M360.8 331.3h0M367.2 331.3h0M355.9 333.9h0M361.4 333.9h0.7M364.5 333.9h0.3M366.5 333.9h0M369.2 333.9h1.1M373.7 333.9h0M375.7 333.9h0M362.3 336.4h1.1M366 336.4h0M368.6 336.4h0M371.6 336.4h0M357.8 339h0M361.1 339h0.1M362.8 339h0M364.4 339h0M366.1 339h4.7M355.9 341.6h0M357.5 341.6h0M359.4 341.6h1.3M362.3 341.6h0.6M367.1 341.6h0M368.9 341.6h1.7M355.5 344.1h0M358.7 344.1h1.6M362 344.1h1.6M368.2 344.1h0.5M370.7 344.1h0M346.3 346.7h0M353.3 346.7h0M356 346.7h0M359.8 346.7h0M361.4 346.7h0M363 346.7h1.9M366.7 346.7h2.2M349.3 349.2h0M352.3 349.2h16M354.6 351.8h0M357.6 351.8h1.5M362.2 351.8h5.9M370.7 351.8h0M349.5 354.3h0M352.5 354.3h0M355.6 354.3h9.1M342 356.9h0M347 356.9h3.1M353.1 356.9h10.7M336 359.5h0M341.3 359.5h0M349.1 359.5h0M353.7 359.5h3.1M359.9 359.5h1.5M336.6 362h0M342.7 362h3.1M348.8 362h4.6M356.4 362h3.1M340.1 364.6h4.6M349.3 364.6h1.5M353.9 364.6h4.6M331.5 367.1h0M339.1 367.1h1.5M345.2 367.1h10.7M335.7 369.7h0M340.3 369.7h1.5M345 369.7h9.3M328.9 372.3h4.6M338.1 372.3h0M342.6 372.3h0M345.7 372.3h6.1M328.3 374.8h1.5M332.8 374.8h1.5M340.3 374.8h0M343.3 374.8h4.5M327.4 377.4h0M330.5 377.4h0M333.6 377.4h0M336.6 377.4h0M339.7 377.4h6.2M321.7 379.9h0M324.7 379.9h0M329.3 379.9h1.5M333.8 379.9h7.6M320.7 382.5h6.1M329.9 382.5h0M332.9 382.5h3.1M315 385.1h1.5M321.2 385.1h1.5M325.8 385.1h1.5M330.4 385.1h0M314.5 387.6h6"/>
<path class="dt dk" d="M421.4 257.1h0M429.7 257.1h0M442.8 257.1h0M407.2 264.8h0M400.1 267.4h0M398 280.1h0M401.8 282.7h0M401.9 285.3h0.6M396.5 290.4h0M399.8 292.9h0M394.2 295.5h0M395.4 300.6h0M392 303.2h1.1M395 303.2h0M388.9 305.7h0M391.6 305.7h0M394.5 305.7h0M389.4 308.3h0M389.9 310.9h0M387.1 313.4h0M389.2 316h0M384 318.5h0M389 318.5h0M382.3 321.1h0M383.9 321.1h2.8M384.7 323.6h0M380 326.2h0M390 328.8h0M385 333.9h0M376 336.4h0M382.3 336.4h0M388.3 336.4h0M377.9 339h0M380 339h0M382.2 339h0M374.9 341.6h7.9M367.1 344.1h0M372.3 344.1h12.7M366.4 346.7h1.5M370.7 346.7h3.1M376.8 346.7h1.5M381.5 346.7h1.5M368.9 349.2h1.3M371.9 349.2h10.6M367.3 351.8h5.6M375.9 351.8h6.1M366.2 354.3h16M361.4 356.9h0M364.7 356.9h16.1M363 359.5h17M382.8 359.5h0M361 362h0M364.1 362h12.2M360 364.6h16.9M357.4 367.1h18.3M380.1 367.1h0M355.8 369.7h8.8M366.7 369.7h0M369.8 369.7h5.7M377 369.7h1.3M353.3 372.3h4.6M360.9 372.3h12.2M349.3 374.8h4.5M356.8 374.8h14.8M379.2 374.8h0M347.4 377.4h4.6M355.1 377.4h15.4M374 377.4h0M342.9 379.9h25.7M371.8 379.9h0M373.5 379.9h0M376 379.9h0M337.5 382.5h26M365.9 382.5h0.7M369.8 382.5h0M333.5 385.1h13.8M350.4 385.1h13.8M322 387.6h7.5M332.6 387.6h24.1M359.7 387.6h3M310.7 390.2h0M313 390.2h4.5M320.6 390.2h24.2M347.7 390.2h12.1M305.2 392.7h0M310.7 392.7h0M313 392.7h42.7M298.3 395.3h0M305.2 395.3h0M310.7 395.3h0M313 395.3h3.1M319.1 395.3h30.7M287 397.8h0M298.3 397.8h0M305.2 397.8h0M310.7 397.8h0M313 397.8h4.6M320.7 397.8h21.6"/>
<path class="dt dr" d="M429.7 262.2h0M417.9 264.8h0M426.2 264.8h0M413.1 269.9h0M409.6 280.1h0M417.9 285.3h0M403.7 287.8h0M406 292.9h0M415.5 292.9h0M416.7 298.1h0M401.3 303.2h0M417.9 303.2h0M432.1 303.2h0M403.7 308.3h0M420.2 308.3h0M398.9 313.4h0M436.8 313.4h0M409.6 316h0M413.1 316h0M416.7 316h0M427.4 316h0M402.5 318.5h0M398.9 321.1h0M407.2 321.1h0M415.5 323.6h0M436.8 323.6h0M422.6 326.2h0M433.3 326.2h0M442.8 326.2h0M406 328.8h0M398.9 331.3h0M445.1 331.3h0M403.7 333.9h0M423.8 333.9h0M406 336.4h0M400.1 339h0M389.4 346.7h0M408.4 346.7h0M420.2 349.2h0M391.8 351.8h0M401.3 351.8h0M397.7 354.3h0M415.5 354.3h0M387.1 359.5h0M378.4 364.6h0M389.4 364.6h0M377.2 367.1h0M391.8 367.1h0M396.5 367.1h0M407.2 369.7h0M370.6 372.3h0M381.1 372.3h1.6M394.2 372.3h0M411.9 372.3h0M372.8 374.8h0.5M378.2 374.8h0M371.2 377.4h0M381.9 377.4h0.4M370.1 379.9h0M375.7 379.9h0M369.9 382.5h0M379.2 382.5h0M382 382.5h0M365.7 385.1h0M380.2 385.1h0M400.1 387.6h0M377.4 390.2h0M370.5 392.7h0M373.9 392.7h0M382.3 392.7h1.2M357 395.3h0M359 395.3h0M346.9 397.8h0M351 397.8h0M354 397.8h0"/>
<path d="M285,400.1 L285.7,400.1 L286.5,400.1 L287.2,400.1 L287.9,400.1 L288.6,400.1 L289.4,400.1 L290.1,400.1 L290.8,400 L291.5,400 L292.3,400 L293,400 L293.7,400 L294.4,400 L295.2,399.9 L295.9,399.9 L296.6,399.9 L297.3,399.9 L298.1,399.8 L298.8,399.8 L299.5,399.8 L300.2,399.8 L301,399.7 L301.7,399.7 L302.4,399.7 L303.1,399.6 L303.9,399.6 L304.6,399.6 L305.3,399.5 L306.1,399.5 L306.8,399.5 L307.5,399.4 L308.2,399.4 L309,399.3 L309.7,399.3 L310.4,399.2 L311.1,399.2 L311.9,399.1 L312.6,399.1 L313.3,399 L314,399 L314.8,398.9 L315.5,398.8 L316.2,398.8 L316.9,398.7 L317.7,398.6 L318.4,398.5 L319.1,398.4 L319.8,398.4 L320.6,398.3 L321.3,398.2 L322,398.1 L322.7,398 L323.5,397.9 L324.2,397.8 L324.9,397.6 L325.7,397.5 L326.4,397.4 L327.1,397.3 L327.8,397.1 L328.6,397 L329.3,396.8 L330,396.7 L330.7,396.5 L331.5,396.3 L332.2,396.2 L332.9,396 L333.6,395.8 L334.4,395.6 L335.1,395.4 L335.8,395.1 L336.5,394.9 L337.3,394.7 L338,394.4 L338.7,394.2 L339.4,393.9 L340.2,393.6 L340.9,393.3 L341.6,393 L342.3,392.7 L343.1,392.3 L343.8,392 L344.5,391.6 L345.3,391.3 L346,390.9 L346.7,390.4 L347.4,390 L348.2,389.6 L348.9,389.1 L349.6,388.6 L350.3,388.1 L351.1,387.6 L351.8,387.1 L352.5,386.5 L353.2,385.9 L354,385.3 L354.7,384.7 L355.4,384 L356.1,383.3 L356.9,382.6 L357.6,381.9 L358.3,381.1 L359,380.3 L359.8,379.4 L360.5,378.6 L361.2,377.7 L361.9,376.8 L362.7,375.8 L363.4,374.8 L364.1,373.8 L364.9,372.7 L365.6,371.6 L366.3,370.4 L367,369.2 L367.8,368 L368.5,366.7 L369.2,365.4 L369.9,364.1 L370.7,362.7 L371.4,361.2 L372.1,359.7 L372.8,358.2 L373.6,356.6 L374.3,355 L375,353.3 L375.7,351.6 L376.5,349.8 L377.2,348 L377.9,346.1 L378.6,344.2 L379.4,342.3 L380.1,340.3 L380.8,338.2 L381.6,336.1 L382.3,334 L383,331.8 L383.7,329.6 L384.5,327.4 L385.2,325.1 L385.9,322.8 L386.6,320.5 L387.4,318.1 L388.1,315.7 L388.8,313.3 L389.5,310.9 L390.3,308.5 L391,306.1 L391.7,303.6 L392.4,301.2 L393.2,298.8 L393.9,296.4 L394.6,294 L395.3,291.7 L396.1,289.3 L396.8,287 L397.5,284.8 L398.2,282.6 L399,280.5 L399.7,278.4 L400.4,276.3 L401.2,274.4 L401.9,272.5 L402.6,270.7 L403.3,269 L404.1,267.4 L404.8,265.9 L405.5,264.4 L406.2,263.1 L407,261.8 L407.7,260.6 L408.4,259.6 L409.1,258.6 L409.9,257.7 L410.6,256.9 L411.3,256.1 L412,255.5 L412.8,254.9 L413.5,254.4 L414.2,254 L414.9,253.6 L415.7,253.3 L416.4,253.1 L417.1,252.8 L417.8,252.7 L418.6,252.5 L419.3,252.4 L420,252.3 L420.8,252.2 L421.5,252.2 L422.2,252.1 L422.9,252.1 L423.7,252.1 L424.4,252 L425.1,252 L425.8,252 L426.6,252 L427.3,252 L428,252 L428.7,252 L429.5,252 L430.2,252 L430.9,252 L431.6,252 L432.4,252 L433.1,252 L433.8,252 L434.5,252 L435.3,252 L436,252 L436.7,252 L437.4,252 L438.2,252 L438.9,252 L439.6,252 L440.4,252 L441.1,252 L441.8,252 L442.5,252 L443.3,252 L444,252 L444.7,252 L445.4,252 L446.2,252 L446.9,252 L447.6,252 L448.3,252 L449.1,252 L449.8,252 L450.5,252 L451.2,252 L452,252 L452.7,252 L453.4,252 L454.1,252 L454.9,252 L455.6,252 L456.3,252 L457,252 L457.8,252 L458.5,252" class="cv"/>
<path d="M285,390.7 L285.7,390.7 L286.5,390.7 L287.2,390.7 L287.9,390.6 L288.6,390.6 L289.4,390.6 L290.1,390.6 L290.8,390.5 L291.5,390.5 L292.3,390.5 L293,390.4 L293.7,390.4 L294.4,390.4 L295.2,390.3 L295.9,390.3 L296.6,390.3 L297.3,390.2 L298.1,390.2 L298.8,390.2 L299.5,390.1 L300.2,390.1 L301,390 L301.7,390 L302.4,389.9 L303.1,389.9 L303.9,389.8 L304.6,389.7 L305.3,389.7 L306.1,389.6 L306.8,389.5 L307.5,389.5 L308.2,389.4 L309,389.3 L309.7,389.3 L310.4,389.2 L311.1,389.1 L311.9,389 L312.6,388.9 L313.3,388.8 L314,388.7 L314.8,388.6 L315.5,388.5 L316.2,388.4 L316.9,388.3 L317.7,388.1 L318.4,388 L319.1,387.9 L319.8,387.8 L320.6,387.6 L321.3,387.5 L322,387.3 L322.7,387.2 L323.5,387 L324.2,386.8 L324.9,386.6 L325.7,386.5 L326.4,386.3 L327.1,386.1 L327.8,385.9 L328.6,385.6 L329.3,385.4 L330,385.2 L330.7,385 L331.5,384.7 L332.2,384.4 L332.9,384.2 L333.6,383.9 L334.4,383.6 L335.1,383.3 L335.8,383 L336.5,382.7 L337.3,382.3 L338,382 L338.7,381.6 L339.4,381.3 L340.2,380.9 L340.9,380.5 L341.6,380.1 L342.3,379.7 L343.1,379.2 L343.8,378.8 L344.5,378.3 L345.3,377.8 L346,377.3 L346.7,376.8 L347.4,376.2 L348.2,375.6 L348.9,375.1 L349.6,374.5 L350.3,373.8 L351.1,373.2 L351.8,372.5 L352.5,371.8 L353.2,371.1 L354,370.4 L354.7,369.6 L355.4,368.8 L356.1,368 L356.9,367.2 L357.6,366.3 L358.3,365.4 L359,364.5 L359.8,363.5 L360.5,362.5 L361.2,361.5 L361.9,360.5 L362.7,359.4 L363.4,358.3 L364.1,357.1 L364.9,355.9 L365.6,354.7 L366.3,353.5 L367,352.2 L367.8,350.8 L368.5,349.5 L369.2,348.1 L369.9,346.6 L370.7,345.2 L371.4,343.7 L372.1,342.1 L372.8,340.5 L373.6,338.9 L374.3,337.2 L375,335.5 L375.7,333.8 L376.5,332 L377.2,330.2 L377.9,328.3 L378.6,326.4 L379.4,324.5 L380.1,322.6 L380.8,320.6 L381.6,318.6 L382.3,316.5 L383,314.5 L383.7,312.4 L384.5,310.3 L385.2,308.2 L385.9,306 L386.6,303.9 L387.4,301.7 L388.1,299.6 L388.8,297.4 L389.5,295.2 L390.3,293.1 L391,290.9 L391.7,288.8 L392.4,286.7 L393.2,284.6 L393.9,282.6 L394.6,280.6 L395.3,278.6 L396.1,276.7 L396.8,274.8 L397.5,273 L398.2,271.3 L399,269.6 L399.7,268 L400.4,266.4 L401.2,265 L401.9,263.6 L402.6,262.3 L403.3,261 L404.1,259.9 L404.8,258.9 L405.5,257.9 L406.2,257.1 L407,256.3 L407.7,255.6 L408.4,255 L409.1,254.4 L409.9,253.9 L410.6,253.5 L411.3,253.2 L412,252.9 L412.8,252.7 L413.5,252.5 L414.2,252.4 L414.9,252.3 L415.7,252.2 L416.4,252.1 L417.1,252.1 L417.8,252.1 L418.6,252 L419.3,252 L420,252 L420.8,252 L421.5,252 L422.2,252 L422.9,252 L423.7,252 L424.4,252 L425.1,252 L425.8,252 L426.6,252 L427.3,252 L428,252 L428.7,252 L429.5,252 L430.2,252 L430.9,252 L431.6,252 L432.4,252 L433.1,252 L433.8,252 L434.5,252 L435.3,252 L436,252 L436.7,252 L437.4,252 L438.2,252 L438.9,252 L439.6,252 L440.4,252 L441.1,252 L441.8,252 L442.5,252 L443.3,252 L444,252 L444.7,252 L445.4,252 L446.2,252 L446.9,252 L447.6,252 L448.3,252 L449.1,252 L449.8,252 L450.5,252 L451.2,252 L452,252 L452.7,252 L453.4,252 L454.1,252 L454.9,252 L455.6,252 L456.3,252 L457,252 L457.8,252 L458.5,252" class="cv dsh"/>
<path d="M285,400.4 L285.7,400.4 L286.5,400.4 L287.2,400.4 L287.9,400.4 L288.6,400.4 L289.4,400.4 L290.1,400.4 L290.8,400.4 L291.5,400.4 L292.3,400.4 L293,400.4 L293.7,400.4 L294.4,400.4 L295.2,400.4 L295.9,400.4 L296.6,400.4 L297.3,400.4 L298.1,400.4 L298.8,400.4 L299.5,400.4 L300.2,400.4 L301,400.4 L301.7,400.4 L302.4,400.4 L303.1,400.4 L303.9,400.4 L304.6,400.3 L305.3,400.3 L306.1,400.3 L306.8,400.3 L307.5,400.3 L308.2,400.3 L309,400.3 L309.7,400.3 L310.4,400.3 L311.1,400.3 L311.9,400.3 L312.6,400.3 L313.3,400.3 L314,400.3 L314.8,400.2 L315.5,400.2 L316.2,400.2 L316.9,400.2 L317.7,400.2 L318.4,400.2 L319.1,400.1 L319.8,400.1 L320.6,400.1 L321.3,400.1 L322,400.1 L322.7,400 L323.5,400 L324.2,400 L324.9,399.9 L325.7,399.9 L326.4,399.9 L327.1,399.8 L327.8,399.8 L328.6,399.7 L329.3,399.7 L330,399.6 L330.7,399.6 L331.5,399.5 L332.2,399.4 L332.9,399.4 L333.6,399.3 L334.4,399.2 L335.1,399.1 L335.8,399.1 L336.5,399 L337.3,398.9 L338,398.8 L338.7,398.6 L339.4,398.5 L340.2,398.4 L340.9,398.3 L341.6,398.1 L342.3,398 L343.1,397.8 L343.8,397.6 L344.5,397.5 L345.3,397.3 L346,397.1 L346.7,396.8 L347.4,396.6 L348.2,396.4 L348.9,396.1 L349.6,395.9 L350.3,395.6 L351.1,395.3 L351.8,395 L352.5,394.6 L353.2,394.3 L354,393.9 L354.7,393.5 L355.4,393.1 L356.1,392.7 L356.9,392.3 L357.6,391.8 L358.3,391.3 L359,390.8 L359.8,390.2 L360.5,389.7 L361.2,389.1 L361.9,388.4 L362.7,387.8 L363.4,387.1 L364.1,386.4 L364.9,385.6 L365.6,384.8 L366.3,384 L367,383.1 L367.8,382.2 L368.5,381.3 L369.2,380.3 L369.9,379.3 L370.7,378.2 L371.4,377.1 L372.1,375.9 L372.8,374.7 L373.6,373.5 L374.3,372.2 L375,370.8 L375.7,369.5 L376.5,368 L377.2,366.5 L377.9,365 L378.6,363.4 L379.4,361.7 L380.1,360 L380.8,358.2 L381.6,356.4 L382.3,354.6 L383,352.7 L383.7,350.7 L384.5,348.7 L385.2,346.6 L385.9,344.5 L386.6,342.3 L387.4,340.1 L388.1,337.9 L388.8,335.6 L389.5,333.3 L390.3,330.9 L391,328.5 L391.7,326.1 L392.4,323.6 L393.2,321.2 L393.9,318.7 L394.6,316.2 L395.3,313.7 L396.1,311.2 L396.8,308.8 L397.5,306.3 L398.2,303.8 L399,301.4 L399.7,299 L400.4,296.7 L401.2,294.3 L401.9,292.1 L402.6,289.9 L403.3,287.7 L404.1,285.6 L404.8,283.6 L405.5,281.7 L406.2,279.9 L407,278.1 L407.7,276.4 L408.4,274.8 L409.1,273.3 L409.9,272 L410.6,270.7 L411.3,269.5 L412,268.4 L412.8,267.4 L413.5,266.5 L414.2,265.7 L414.9,264.9 L415.7,264.3 L416.4,263.8 L417.1,263.3 L417.8,262.9 L418.6,262.5 L419.3,262.2 L420,262 L420.8,261.8 L421.5,261.7 L422.2,261.5 L422.9,261.5 L423.7,261.4 L424.4,261.3 L425.1,261.3 L425.8,261.3 L426.6,261.3 L427.3,261.2 L428,261.2 L428.7,261.2 L429.5,261.2 L430.2,261.2 L430.9,261.2 L431.6,261.2 L432.4,261.2 L433.1,261.2 L433.8,261.2 L434.5,261.2 L435.3,261.2 L436,261.2 L436.7,261.2 L437.4,261.2 L438.2,261.2 L438.9,261.2 L439.6,261.2 L440.4,261.2 L441.1,261.2 L441.8,261.2 L442.5,261.2 L443.3,261.2 L444,261.2 L444.7,261.2 L445.4,261.2 L446.2,261.2 L446.9,261.2 L447.6,261.2 L448.3,261.2 L449.1,261.2 L449.8,261.2 L450.5,261.2 L451.2,261.2 L452,261.2 L452.7,261.2 L453.4,261.2 L454.1,261.2 L454.9,261.2 L455.6,261.2 L456.3,261.2 L457,261.2 L457.8,261.2 L458.5,261.2" class="cv dsh"/>
<path d="M283.5 249.1V400.4H460.5V249.1Z" class="ax"/>
<text x="270" y="402.5" class="tl" text-anchor="middle">0</text>
<text x="270" y="372.8" class="tl" text-anchor="middle">0.2</text>
<text x="270" y="343.1" class="tl" text-anchor="middle">0.4</text>
<text x="270" y="313.5" class="tl" text-anchor="middle">0.6</text>
<text x="270" y="283.8" class="tl" text-anchor="middle">0.8</text>
<text x="270" y="254.1" class="tl" text-anchor="middle">1</text>
<text x="303.4" y="417" class="tl" text-anchor="middle">−5</text>
<text x="341.8" y="417" class="tl" text-anchor="middle">−4</text>
<text x="380.3" y="417" class="tl" text-anchor="middle">−3</text>
<text x="418.7" y="417" class="tl" text-anchor="middle">−2</text>
<text x="457.1" y="417" class="tl" text-anchor="middle">−1</text>
<path d="M279.5 400.4H283.5M279.5 370.7H283.5M279.5 341H283.5M279.5 311.4H283.5M279.5 281.7H283.5M279.5 252H283.5M304.6 400.4V403.9M343 400.4V403.9M381.5 400.4V403.9M419.9 400.4V403.9M458.3 400.4V403.9" class="ax"/>
<text x="288.1" y="271.6" class="tl">R<tspan class="sup" dy="-2.9">2</tspan><tspan dy="2.9">= 0.466</tspan></text>
<text x="288.1" y="289.3" class="tl">Nm= 181</text>
<path class="dt dc" d="M609.1 280h0M612.6 280h0M610.3 290.6h0M587.7 298.6h0M591 298.6h0M596 301.3h0M593.5 304h0M600 304h0M603.1 304h0M590.9 306.6h0.1M599 306.6h0M601.9 306.6h0M587.9 309.3h0M592.5 309.3h0M597.8 309.3h3M586.3 312h0M588.8 312h0M597.2 312h0M599.8 312h0M589.3 314.6h0M593.8 314.6h0M598.8 314.6h0M600.5 314.6h0M581 317.3h1M585.4 317.3h1M598.5 317.3h0M579.7 320h1.3M584.4 320h1M587.7 320h0.5M590.9 320h0M585.3 322.6h0M595 322.6h0M599.4 322.6h0.1M580 325.3h0M587 325.3h0M589.5 325.3h1M597.2 325.3h0M599.2 325.3h0M579.1 328h0M584.2 328h0M594 328h0.8M587.9 330.6h0M591 330.6h0M596.9 330.6h1M580.3 333.3h0M584.4 333.3h0M592.5 333.3h0M596.2 333.3h0M577.7 336h0M580.8 336h1.4M585.6 336h0M578.7 338.6h0.2M582.3 338.6h0M589.7 338.6h1.5M574.9 341.3h4.8M584.1 341.3h6.3M593.5 341.3h1.6M580.6 344h13.5M569.7 346.6h0M572.8 346.6h4.7M582.1 346.6h0M585.2 346.6h7.8M567.4 349.3h1.5M572 349.3h0M575.1 349.3h6.2M584.4 349.3h6.2M565.5 352h3M574.6 352h6.1M583.7 352h6.1M568.6 354.7h6.2M579.4 354.7h9.3M562.9 357.3h1.6M569.1 357.3h0M578.4 357.3h3.1M584.7 357.3h2.3M590.1 357.3h0M568.3 360h7.8M579.2 360h1.6M583.8 360h1.6M566.1 362.7h0M569.1 362.7h1.5M573.8 362.7h1.5M578.4 362.7h3.1M558.8 365.3h1.5M563.4 365.3h3.1M571.1 365.3h9.3M555.2 368h0M559.8 368h1.5M567.4 368h7.6M578 368h1.5M559.8 370.7h16.8M552.8 373.3h1.5M563.3 373.3h6M572.3 373.3h1.5M546.6 376h1.5M557.2 376h0M560.2 376h10.5M546.2 378.7h0M553.8 378.7h0M559.8 378.7h1.5M564.3 378.7h3M543.4 381.3h0M549.6 381.3h0M557.3 381.3h6.2M537.7 384h0M540.7 384h1.5M545.3 384h0M552.8 384h4.5M535 386.7h12.1"/>
<path class="dt dk" d="M625.7 277.3h0M617.4 280h0M615 285.3h0M616.8 290.6h0M618.5 290.6h0M617.4 293.3h0.8M615 296h1.6M612.6 298.6h0M616.2 298.6h0M613.6 301.3h0M609.1 304h0M610.8 304h0M612.5 304h0M614.5 304h0M610.3 309.3h0M614.5 309.3h0M605.5 312h0M607.5 312h0M613.3 312h0M609.4 314.6h0M606.7 317.3h0M607.9 320h1.1M602 322.6h0M604.3 328h0M600.8 330.6h0M604.3 330.6h0M607.2 333.3h0M599.6 336h0M606.9 336h0M599.8 338.6h1.6M603.3 338.6h2.2M596.6 341.3h7.8M595.6 344h4.5M603.2 344h1.5M594 346.6h9.8M588.1 349.3h0M591.1 349.3h7.7M601.3 349.3h2.5M585.1 352h0M588.4 352h1.6M592.9 352h0M594.5 352h2.9M600.5 352h1.5M590.3 354.7h7.7M601.1 354.7h0M587.8 357.3h9.3M600.2 357.3h0M586.9 360h9.4M599.4 360h0M584.5 362.7h13.9M583.5 365.3h13.9M581.1 368h8.6M591.7 368h4.6M578.1 370.7h7.5M588.7 370.7h0.2M593.4 370.7h1.5M576.8 373.3h10.5M590.3 373.3h3.1M572.2 376h6M584.2 376h7.1M568.9 378.7h4.5M577.9 378.7h12.1M565 381.3h23.1M558.9 384h7.6M569.5 384h6M580.1 384h1.5M584.6 384h1.5M548.6 386.7h25.7M577.3 386.7h4.5M530.7 389.3h0M534.3 389.3h1.5M538.9 389.3h0M542 389.3h9.3M555.9 389.3h24.8M527.9 392h0M530.7 392h0M533.7 392h6M542.8 392h1.5M547.3 392h0M550.3 392h10.5M563.9 392h12.1M522 394.7h0M527.9 394.7h0M530.7 394.7h0M533.2 394.7h0M536.2 394.7h1.5M542.3 394.7h18.1M563.4 394.7h0M566.4 394.7h3M572.4 394.7h1.5M511.3 397.3h0M522 397.3h0M527.9 397.3h0M530.7 397.3h0M532.7 397.3h0M535.8 397.3h10.6M549.5 397.3h3M555.5 397.3h0M558.6 397.3h1.5M563.1 397.3h4.6"/>
<path class="dt dr" d="M645.8 264h0M654.1 272h0M626.8 277.3h0M628 285.3h0M631.6 285.3h0M655.3 288h0M623.3 293.3h0M634 298.6h0M637.5 298.6h0M629.2 301.3h0M631.6 306.6h0M636.3 306.6h0M649.4 306.6h0M638.7 309.3h0M618.5 312h0M641 320h0M617.4 325.3h0M623.3 325.3h0M628 325.3h0M638.7 325.3h0M641 325.3h0M613.8 333.3h0M629.2 333.3h0M658.8 336h0M629.2 338.6h0M668.3 338.6h0M611.4 341.3h0M617.4 341.3h0M622.1 341.3h0M606.7 349.3h0M625.7 349.3h0M613.8 352h0M643.4 352h0M622.1 354.7h0M638.7 354.7h0M604.3 362.7h0M613.8 362.7h0M589 365.3h0M590.9 365.3h0M592.7 365.3h0M620.9 365.3h0M625.7 365.3h0M595.8 368h0M603.5 368h0M636.3 368h0M591.3 370.7h0M601.9 370.7h0M611.4 370.7h0M591.7 373.3h0M598.4 373.3h0M603.1 373.3h0M592.8 376h0M599.2 376h0.1M603 376h0M605.5 376h0M602.6 378.7h0M592.9 381.3h0M594.8 381.3h0M600 381.3h0.8M605.6 381.3h0M592.5 384h0M592.7 386.7h0M600.7 386.7h1.3M605.2 386.7h0M632.8 386.7h0M591.3 389.3h0M601.5 389.3h0M604.9 389.3h0.6M619.7 389.3h0M586.6 392h0M590 392h0M597.2 392h0M599 392h0M603.5 392h0M570.3 397.3h0M573 397.3h0M576 397.3h0M579 397.3h0M581.4 397.3h0"/>
<path d="M509,399.8 L509.7,399.8 L510.4,399.8 L511.2,399.8 L511.9,399.8 L512.6,399.8 L513.3,399.8 L514,399.8 L514.7,399.7 L515.5,399.7 L516.2,399.7 L516.9,399.7 L517.6,399.7 L518.3,399.7 L519,399.7 L519.8,399.6 L520.5,399.6 L521.2,399.6 L521.9,399.6 L522.6,399.6 L523.4,399.6 L524.1,399.5 L524.8,399.5 L525.5,399.5 L526.2,399.5 L526.9,399.4 L527.7,399.4 L528.4,399.4 L529.1,399.4 L529.8,399.3 L530.5,399.3 L531.2,399.3 L532,399.2 L532.7,399.2 L533.4,399.2 L534.1,399.1 L534.8,399.1 L535.6,399 L536.3,399 L537,398.9 L537.7,398.9 L538.4,398.8 L539.1,398.8 L539.9,398.7 L540.6,398.7 L541.3,398.6 L542,398.6 L542.7,398.5 L543.4,398.4 L544.2,398.3 L544.9,398.3 L545.6,398.2 L546.3,398.1 L547,398 L547.7,397.9 L548.5,397.8 L549.2,397.7 L549.9,397.6 L550.6,397.5 L551.3,397.4 L552.1,397.3 L552.8,397.1 L553.5,397 L554.2,396.9 L554.9,396.7 L555.6,396.6 L556.4,396.4 L557.1,396.2 L557.8,396.1 L558.5,395.9 L559.2,395.7 L559.9,395.5 L560.7,395.3 L561.4,395.1 L562.1,394.8 L562.8,394.6 L563.5,394.4 L564.3,394.1 L565,393.8 L565.7,393.5 L566.4,393.2 L567.1,392.9 L567.8,392.6 L568.6,392.3 L569.3,391.9 L570,391.5 L570.7,391.1 L571.4,390.7 L572.1,390.3 L572.9,389.9 L573.6,389.4 L574.3,388.9 L575,388.4 L575.7,387.9 L576.5,387.3 L577.2,386.7 L577.9,386.1 L578.6,385.5 L579.3,384.8 L580,384.1 L580.8,383.4 L581.5,382.7 L582.2,381.9 L582.9,381.1 L583.6,380.2 L584.3,379.3 L585.1,378.4 L585.8,377.4 L586.5,376.4 L587.2,375.4 L587.9,374.3 L588.7,373.1 L589.4,372 L590.1,370.7 L590.8,369.5 L591.5,368.1 L592.2,366.7 L593,365.3 L593.7,363.8 L594.4,362.3 L595.1,360.7 L595.8,359 L596.5,357.3 L597.3,355.5 L598,353.6 L598.7,351.7 L599.4,349.8 L600.1,347.7 L600.8,345.6 L601.6,343.5 L602.3,341.2 L603,338.9 L603.7,336.6 L604.4,334.2 L605.2,331.7 L605.9,329.2 L606.6,326.7 L607.3,324 L608,321.4 L608.7,318.7 L609.5,315.9 L610.2,313.2 L610.9,310.4 L611.6,307.6 L612.3,304.8 L613,301.9 L613.8,299.1 L614.5,296.3 L615.2,293.5 L615.9,290.8 L616.6,288.1 L617.4,285.5 L618.1,282.9 L618.8,280.4 L619.5,278 L620.2,275.6 L620.9,273.4 L621.7,271.3 L622.4,269.3 L623.1,267.4 L623.8,265.7 L624.5,264.1 L625.2,262.6 L626,261.3 L626.7,260 L627.4,259 L628.1,258 L628.8,257.2 L629.6,256.4 L630.3,255.8 L631,255.3 L631.7,254.8 L632.4,254.5 L633.1,254.2 L633.9,254 L634.6,253.8 L635.3,253.7 L636,253.5 L636.7,253.5 L637.4,253.4 L638.2,253.4 L638.9,253.3 L639.6,253.3 L640.3,253.3 L641,253.3 L641.8,253.3 L642.5,253.3 L643.2,253.3 L643.9,253.3 L644.6,253.3 L645.3,253.3 L646.1,253.3 L646.8,253.3 L647.5,253.3 L648.2,253.3 L648.9,253.3 L649.6,253.3 L650.4,253.3 L651.1,253.3 L651.8,253.3 L652.5,253.3 L653.2,253.3 L653.9,253.3 L654.7,253.3 L655.4,253.3 L656.1,253.3 L656.8,253.3 L657.5,253.3 L658.3,253.3 L659,253.3 L659.7,253.3 L660.4,253.3 L661.1,253.3 L661.8,253.3 L662.6,253.3 L663.3,253.3 L664,253.3 L664.7,253.3 L665.4,253.3 L666.1,253.3 L666.9,253.3 L667.6,253.3 L668.3,253.3 L669,253.3 L669.7,253.3 L670.5,253.3 L671.2,253.3 L671.9,253.3 L672.6,253.3 L673.3,253.3 L674,253.3 L674.8,253.3 L675.5,253.3 L676.2,253.3 L676.9,253.3 L677.6,253.3 L678.3,253.3 L679.1,253.3 L679.8,253.3 L680.5,253.3" class="cv"/>
<path d="M509,390.1 L509.7,390.1 L510.4,390.1 L511.2,390 L511.9,390 L512.6,390 L513.3,390 L514,390 L514.7,390 L515.5,389.9 L516.2,389.9 L516.9,389.9 L517.6,389.9 L518.3,389.8 L519,389.8 L519.8,389.8 L520.5,389.7 L521.2,389.7 L521.9,389.7 L522.6,389.6 L523.4,389.6 L524.1,389.6 L524.8,389.5 L525.5,389.5 L526.2,389.5 L526.9,389.4 L527.7,389.4 L528.4,389.3 L529.1,389.3 L529.8,389.2 L530.5,389.2 L531.2,389.1 L532,389 L532.7,389 L533.4,388.9 L534.1,388.9 L534.8,388.8 L535.6,388.7 L536.3,388.6 L537,388.5 L537.7,388.5 L538.4,388.4 L539.1,388.3 L539.9,388.2 L540.6,388.1 L541.3,388 L542,387.9 L542.7,387.8 L543.4,387.7 L544.2,387.5 L544.9,387.4 L545.6,387.3 L546.3,387.1 L547,387 L547.7,386.8 L548.5,386.7 L549.2,386.5 L549.9,386.4 L550.6,386.2 L551.3,386 L552.1,385.8 L552.8,385.6 L553.5,385.4 L554.2,385.2 L554.9,385 L555.6,384.7 L556.4,384.5 L557.1,384.2 L557.8,384 L558.5,383.7 L559.2,383.4 L559.9,383.1 L560.7,382.8 L561.4,382.5 L562.1,382.2 L562.8,381.8 L563.5,381.5 L564.3,381.1 L565,380.7 L565.7,380.3 L566.4,379.9 L567.1,379.5 L567.8,379 L568.6,378.6 L569.3,378.1 L570,377.6 L570.7,377 L571.4,376.5 L572.1,375.9 L572.9,375.4 L573.6,374.7 L574.3,374.1 L575,373.5 L575.7,372.8 L576.5,372.1 L577.2,371.4 L577.9,370.6 L578.6,369.8 L579.3,369 L580,368.2 L580.8,367.3 L581.5,366.4 L582.2,365.4 L582.9,364.5 L583.6,363.4 L584.3,362.4 L585.1,361.3 L585.8,360.2 L586.5,359 L587.2,357.8 L587.9,356.6 L588.7,355.3 L589.4,354 L590.1,352.6 L590.8,351.2 L591.5,349.7 L592.2,348.2 L593,346.7 L593.7,345 L594.4,343.4 L595.1,341.7 L595.8,339.9 L596.5,338.1 L597.3,336.3 L598,334.4 L598.7,332.4 L599.4,330.4 L600.1,328.3 L600.8,326.2 L601.6,324.1 L602.3,321.9 L603,319.7 L603.7,317.4 L604.4,315.1 L605.2,312.7 L605.9,310.3 L606.6,307.9 L607.3,305.5 L608,303 L608.7,300.6 L609.5,298.1 L610.2,295.6 L610.9,293.1 L611.6,290.7 L612.3,288.2 L613,285.8 L613.8,283.5 L614.5,281.1 L615.2,278.8 L615.9,276.6 L616.6,274.5 L617.4,272.4 L618.1,270.4 L618.8,268.6 L619.5,266.8 L620.2,265.1 L620.9,263.5 L621.7,262.1 L622.4,260.8 L623.1,259.6 L623.8,258.5 L624.5,257.6 L625.2,256.7 L626,256 L626.7,255.4 L627.4,254.9 L628.1,254.5 L628.8,254.2 L629.6,253.9 L630.3,253.7 L631,253.6 L631.7,253.5 L632.4,253.4 L633.1,253.4 L633.9,253.3 L634.6,253.3 L635.3,253.3 L636,253.3 L636.7,253.3 L637.4,253.3 L638.2,253.3 L638.9,253.3 L639.6,253.3 L640.3,253.3 L641,253.3 L641.8,253.3 L642.5,253.3 L643.2,253.3 L643.9,253.3 L644.6,253.3 L645.3,253.3 L646.1,253.3 L646.8,253.3 L647.5,253.3 L648.2,253.3 L648.9,253.3 L649.6,253.3 L650.4,253.3 L651.1,253.3 L651.8,253.3 L652.5,253.3 L653.2,253.3 L653.9,253.3 L654.7,253.3 L655.4,253.3 L656.1,253.3 L656.8,253.3 L657.5,253.3 L658.3,253.3 L659,253.3 L659.7,253.3 L660.4,253.3 L661.1,253.3 L661.8,253.3 L662.6,253.3 L663.3,253.3 L664,253.3 L664.7,253.3 L665.4,253.3 L666.1,253.3 L666.9,253.3 L667.6,253.3 L668.3,253.3 L669,253.3 L669.7,253.3 L670.5,253.3 L671.2,253.3 L671.9,253.3 L672.6,253.3 L673.3,253.3 L674,253.3 L674.8,253.3 L675.5,253.3 L676.2,253.3 L676.9,253.3 L677.6,253.3 L678.3,253.3 L679.1,253.3 L679.8,253.3 L680.5,253.3" class="cv dsh"/>
<path d="M509,400 L509.7,400 L510.4,400 L511.2,400 L511.9,400 L512.6,400 L513.3,400 L514,400 L514.7,400 L515.5,400 L516.2,400 L516.9,400 L517.6,400 L518.3,400 L519,400 L519.8,400 L520.5,400 L521.2,400 L521.9,400 L522.6,400 L523.4,400 L524.1,400 L524.8,400 L525.5,400 L526.2,400 L526.9,400 L527.7,400 L528.4,400 L529.1,400 L529.8,400 L530.5,400 L531.2,400 L532,400 L532.7,399.9 L533.4,399.9 L534.1,399.9 L534.8,399.9 L535.6,399.9 L536.3,399.9 L537,399.9 L537.7,399.9 L538.4,399.9 L539.1,399.9 L539.9,399.9 L540.6,399.9 L541.3,399.9 L542,399.8 L542.7,399.8 L543.4,399.8 L544.2,399.8 L544.9,399.8 L545.6,399.8 L546.3,399.7 L547,399.7 L547.7,399.7 L548.5,399.7 L549.2,399.6 L549.9,399.6 L550.6,399.6 L551.3,399.5 L552.1,399.5 L552.8,399.5 L553.5,399.4 L554.2,399.4 L554.9,399.3 L555.6,399.3 L556.4,399.2 L557.1,399.2 L557.8,399.1 L558.5,399 L559.2,399 L559.9,398.9 L560.7,398.8 L561.4,398.7 L562.1,398.6 L562.8,398.5 L563.5,398.4 L564.3,398.3 L565,398.1 L565.7,398 L566.4,397.9 L567.1,397.7 L567.8,397.6 L568.6,397.4 L569.3,397.2 L570,397 L570.7,396.8 L571.4,396.6 L572.1,396.3 L572.9,396.1 L573.6,395.8 L574.3,395.5 L575,395.3 L575.7,394.9 L576.5,394.6 L577.2,394.2 L577.9,393.9 L578.6,393.5 L579.3,393.1 L580,392.6 L580.8,392.1 L581.5,391.6 L582.2,391.1 L582.9,390.6 L583.6,390 L584.3,389.4 L585.1,388.7 L585.8,388 L586.5,387.3 L587.2,386.6 L587.9,385.8 L588.7,384.9 L589.4,384 L590.1,383.1 L590.8,382.1 L591.5,381.1 L592.2,380 L593,378.9 L593.7,377.7 L594.4,376.5 L595.1,375.2 L595.8,373.8 L596.5,372.4 L597.3,370.9 L598,369.4 L598.7,367.8 L599.4,366.1 L600.1,364.3 L600.8,362.5 L601.6,360.6 L602.3,358.7 L603,356.6 L603.7,354.5 L604.4,352.4 L605.2,350.1 L605.9,347.8 L606.6,345.4 L607.3,342.9 L608,340.4 L608.7,337.8 L609.5,335.2 L610.2,332.5 L610.9,329.7 L611.6,327 L612.3,324.1 L613,321.3 L613.8,318.4 L614.5,315.5 L615.2,312.6 L615.9,309.7 L616.6,306.8 L617.4,303.9 L618.1,301.1 L618.8,298.3 L619.5,295.5 L620.2,292.9 L620.9,290.3 L621.7,287.7 L622.4,285.3 L623.1,283 L623.8,280.8 L624.5,278.8 L625.2,276.8 L626,275 L626.7,273.4 L627.4,271.8 L628.1,270.5 L628.8,269.2 L629.6,268.1 L630.3,267.1 L631,266.3 L631.7,265.6 L632.4,265 L633.1,264.5 L633.9,264.1 L634.6,263.8 L635.3,263.5 L636,263.3 L636.7,263.2 L637.4,263.1 L638.2,263 L638.9,263 L639.6,262.9 L640.3,262.9 L641,262.9 L641.8,262.9 L642.5,262.9 L643.2,262.9 L643.9,262.9 L644.6,262.9 L645.3,262.9 L646.1,262.9 L646.8,262.9 L647.5,262.9 L648.2,262.9 L648.9,262.9 L649.6,262.9 L650.4,262.9 L651.1,262.9 L651.8,262.9 L652.5,262.9 L653.2,262.9 L653.9,262.9 L654.7,262.9 L655.4,262.9 L656.1,262.9 L656.8,262.9 L657.5,262.9 L658.3,262.9 L659,262.9 L659.7,262.9 L660.4,262.9 L661.1,262.9 L661.8,262.9 L662.6,262.9 L663.3,262.9 L664,262.9 L664.7,262.9 L665.4,262.9 L666.1,262.9 L666.9,262.9 L667.6,262.9 L668.3,262.9 L669,262.9 L669.7,262.9 L670.5,262.9 L671.2,262.9 L671.9,262.9 L672.6,262.9 L673.3,262.9 L674,262.9 L674.8,262.9 L675.5,262.9 L676.2,262.9 L676.9,262.9 L677.6,262.9 L678.3,262.9 L679.1,262.9 L679.8,262.9 L680.5,262.9" class="cv dsh"/>
<path d="M507.5 250.3V400H682.5V250.3Z" class="ax"/>
<text x="492.9" y="402.1" class="tl" text-anchor="middle">0</text>
<text x="492.9" y="372.8" class="tl" text-anchor="middle">0.2</text>
<text x="492.9" y="343.4" class="tl" text-anchor="middle">0.4</text>
<text x="492.9" y="314.1" class="tl" text-anchor="middle">0.6</text>
<text x="492.9" y="284.7" class="tl" text-anchor="middle">0.8</text>
<text x="492.9" y="255.4" class="tl" text-anchor="middle">1</text>
<text x="526.2" y="416.6" class="tl" text-anchor="middle">−5</text>
<text x="562.4" y="416.6" class="tl" text-anchor="middle">−4</text>
<text x="598.6" y="416.6" class="tl" text-anchor="middle">−3</text>
<text x="634.8" y="416.6" class="tl" text-anchor="middle">−2</text>
<text x="671" y="416.6" class="tl" text-anchor="middle">−1</text>
<path d="M503.5 400H507.5M503.5 370.7H507.5M503.5 341.3H507.5M503.5 312H507.5M503.5 282.6H507.5M503.5 253.3H507.5M527.4 400V403.5M563.6 400V403.5M599.8 400V403.5M636 400V403.5M672.2 400V403.5" class="ax"/>
<text x="515.8" y="272.7" class="tl">R<tspan class="sup" dy="-2.9">2</tspan><tspan dy="2.9">= 0.388</tspan></text>
<text x="515.8" y="290.5" class="tl">Nm= 139</text>
<path class="dt dc" d="M139.6 458.5h0M134 466h0M131 469.8h0M128.8 473.6h0M133 473.6h0M126 477.3h0M130.5 477.3h1.5M124 481.1h0M128 481.1h0M121 484.8h0M125.3 484.8h0M128.4 484.8h1.5M118 488.6h0M122.2 488.6h1.5M126.8 488.6h3.1M119 492.4h10.6M115.8 496.1h12.1M113.7 499.9h13.6M110.8 503.6h15.2M111.1 507.4h15M110.6 511.2h13.8M110 514.9h6M120.6 514.9h3M107 518.7h16.6M105.1 522.5h16.7M104.6 526.2h0M107.7 526.2h13.9M104.9 530h15M105.1 533.8h13.6M103.9 537.5h4.5M111.4 537.5h6M101.9 541.3h15.4M101.1 545h15.3M96.7 548.8h18.3M95.5 552.6h6.1M104.6 552.6h9.1M94.8 556.3h17M90.3 560.1h20M90.1 563.9h10.5M103.6 563.9h4.5M87.2 567.6h18.5M83.8 571.4h21.2M82.3 575.1h16.7M102 575.1h0M80.2 578.9h18.4M78.8 582.7h16.8M75.6 586.4h13.8M72.5 590.2h9.2"/>
<path class="dt dk" d="M140.8 458.5h0M155 458.5h0M145.6 462.3h0M160.1 462.3h0M169 462.3h0M166.1 466h0M173.3 466h0M148 469.8h0M151.7 469.8h0M176.9 469.8h0M134.7 473.6h0M136.4 473.6h0M138.1 473.6h0M139.8 473.6h0M141.5 473.6h0.5M133.5 477.3h0M136.5 477.3h6M132.4 481.1h7.7M132.9 484.8h6.1M131.3 488.6h7.6M131.1 492.4h6.1M129.4 496.1h7.6M128.9 499.9h7.6M127.5 503.6h7.7M127.6 507.4h7.5M125.9 511.2h7.7M125.1 514.9h7.5M125.1 518.7h7.5M123.3 522.5h7.6M123.2 526.2h7.7M121.4 530h4.5M128.9 530h1.5M120.2 533.8h9.1M119 537.5h9.1M118.8 541.3h9.2M117.9 545h9.2M116.6 548.8h9.2M115.3 552.6h0M118.3 552.6h7.6M113.3 556.3h10.8M111.9 560.1h12.3M109.6 563.9h13.5M107.3 567.6h15.4M106.5 571.4h13.6M103.5 575.1h16.7M100.2 578.9h4.6M107.8 578.9h10.7M97.2 582.7h19.9M91 586.4h24.6M83.3 590.2h22.9M109.2 590.2h4.6M70.4 594h40.6M67.5 597.7h0M70 597.7h39.4M62.6 601.5h0M67.5 601.5h0M69.8 601.5h35.1M53.5 605.2h0M62.6 605.2h0M67.5 605.2h0M69.6 605.2h28.8"/>
<path class="dt dr" d="M145.5 477.3h3M151.6 477.3h6M165 477.3h0M168.5 477.3h0M143.1 481.1h9.1M155.3 481.1h0M158.3 481.1h3M140.6 484.8h5.1M148.2 484.8h7.6M158.9 484.8h1.5M163.5 484.8h0M142 488.6h4.6M149.3 488.6h5M138.7 492.4h13.7M155.5 492.4h0M138.5 496.1h16.7M166 496.1h0M138 499.9h12.1M156.1 499.9h0M159.1 499.9h1.5M176.9 499.9h0M136.8 503.6h0M138.4 503.6h11M155.3 503.6h3.1M136.7 507.4h7.5M147.2 507.4h3M156.2 507.4h0M173.3 507.4h0M135.2 511.2h12.3M152.1 511.2h1.5M156.7 511.2h0M172 511.2h0M134.1 514.9h10.6M147.5 514.9h6.2M158.2 514.9h0M135.7 518.7h12M153.7 518.7h0M163.7 518.7h0M132.4 522.5h6.1M141.5 522.5h6.1M150.7 522.5h0M132.5 526.2h10M146.4 526.2h0M149.5 526.2h1.5M131.9 530h15M158 530h0M130.7 533.8h0M133.4 533.8h10.9M150.4 533.8h0M129.6 537.5h1.5M132.7 537.5h8.9M144.7 537.5h0M147.7 537.5h0M150.7 537.5h0M164.9 537.5h0M129.6 541.3h0M132.1 541.3h10.6M146.5 541.3h0M149.5 541.3h0M157.7 541.3h0M128.5 545h10.7M141.7 545h0.5M145.3 545h0M127.2 548.8h15.3M145.5 548.8h1.5M152 548.8h0M127.4 552.6h18.2M125.7 556.3h11.6M139.6 556.3h3.1M125.8 560.1h1.5M130.4 560.1h6.2M141.2 560.1h0M154.1 560.1h0M163.7 560.1h0M124.7 563.9h8.7M135.1 563.9h3.2M124.3 567.6h9.3M135.5 567.6h1.2M139.7 567.6h0M121.7 571.4h7.6M130.9 571.4h2.9M136.8 571.4h1.5M148 571.4h0M121.7 575.1h4.6M128 575.1h4.3M135.4 575.1h0M152 575.1h0M156.5 575.1h0M120.1 578.9h12.3M147 578.9h0M118.6 582.7h15.3M117.1 586.4h12.1M130.9 586.4h1.5M141 586.4h0M144.4 586.4h0M115.4 590.2h7.6M125.6 590.2h5.1M138.4 590.2h0M112.6 594h0.8M115 594h0M117.1 594h7.5M127.6 594h0M137 594h0M110 597.7h7.7M120.1 597.7h2.3M134 597.7h0M145.6 597.7h0M105.7 601.5h9.8M120.1 601.5h1.5M99.9 605.2h3M107.5 605.2h4.6"/>
<path d="M51.5,608.7 L52.2,608.7 L53,608.7 L53.7,608.7 L54.5,608.7 L55.2,608.7 L56,608.6 L56.7,608.6 L57.4,608.6 L58.2,608.6 L58.9,608.5 L59.7,608.5 L60.4,608.5 L61.1,608.5 L61.9,608.4 L62.6,608.4 L63.4,608.4 L64.1,608.3 L64.9,608.3 L65.6,608.2 L66.3,608.2 L67.1,608.1 L67.8,608.1 L68.6,608 L69.3,608 L70.1,607.9 L70.8,607.8 L71.5,607.8 L72.3,607.7 L73,607.6 L73.8,607.5 L74.5,607.5 L75.3,607.4 L76,607.3 L76.7,607.2 L77.5,607.1 L78.2,606.9 L79,606.8 L79.7,606.7 L80.4,606.5 L81.2,606.4 L81.9,606.2 L82.7,606.1 L83.4,605.9 L84.2,605.7 L84.9,605.5 L85.6,605.3 L86.4,605.1 L87.1,604.8 L87.9,604.6 L88.6,604.3 L89.4,604 L90.1,603.7 L90.8,603.4 L91.6,603.1 L92.3,602.7 L93.1,602.4 L93.8,602 L94.6,601.5 L95.3,601.1 L96,600.6 L96.8,600.1 L97.5,599.6 L98.3,599 L99,598.4 L99.7,597.8 L100.5,597.1 L101.2,596.4 L102,595.7 L102.7,594.9 L103.5,594 L104.2,593.1 L104.9,592.2 L105.7,591.2 L106.4,590.1 L107.2,589 L107.9,587.8 L108.7,586.6 L109.4,585.3 L110.1,583.9 L110.9,582.4 L111.6,580.9 L112.4,579.2 L113.1,577.5 L113.8,575.7 L114.6,573.8 L115.3,571.8 L116.1,569.7 L116.8,567.5 L117.6,565.2 L118.3,562.7 L119,560.2 L119.8,557.5 L120.5,554.7 L121.3,551.9 L122,548.9 L122.8,545.7 L123.5,542.5 L124.2,539.2 L125,535.7 L125.7,532.2 L126.5,528.6 L127.2,524.9 L128,521.1 L128.7,517.3 L129.4,513.5 L130.2,509.6 L130.9,505.8 L131.7,502 L132.4,498.2 L133.1,494.5 L133.9,490.9 L134.6,487.4 L135.4,484 L136.1,480.9 L136.9,477.9 L137.6,475.1 L138.3,472.6 L139.1,470.3 L139.8,468.2 L140.6,466.4 L141.3,464.8 L142.1,463.4 L142.8,462.3 L143.5,461.3 L144.3,460.6 L145,460 L145.8,459.6 L146.5,459.2 L147.3,459 L148,458.8 L148.7,458.7 L149.5,458.6 L150.2,458.6 L151,458.5 L151.7,458.5 L152.4,458.5 L153.2,458.5 L153.9,458.5 L154.7,458.5 L155.4,458.5 L156.2,458.5 L156.9,458.5 L157.6,458.5 L158.4,458.5 L159.1,458.5 L159.9,458.5 L160.6,458.5 L161.4,458.5 L162.1,458.5 L162.8,458.5 L163.6,458.5 L164.3,458.5 L165.1,458.5 L165.8,458.5 L166.6,458.5 L167.3,458.5 L168,458.5 L168.8,458.5 L169.5,458.5 L170.3,458.5 L171,458.5 L171.7,458.5 L172.5,458.5 L173.2,458.5 L174,458.5 L174.7,458.5 L175.5,458.5 L176.2,458.5 L176.9,458.5 L177.7,458.5 L178.4,458.5 L179.2,458.5 L179.9,458.5 L180.7,458.5 L181.4,458.5 L182.1,458.5 L182.9,458.5 L183.6,458.5 L184.4,458.5 L185.1,458.5 L185.8,458.5 L186.6,458.5 L187.3,458.5 L188.1,458.5 L188.8,458.5 L189.6,458.5 L190.3,458.5 L191,458.5 L191.8,458.5 L192.5,458.5 L193.3,458.5 L194,458.5 L194.8,458.5 L195.5,458.5 L196.2,458.5 L197,458.5 L197.7,458.5 L198.5,458.5 L199.2,458.5 L200,458.5 L200.7,458.5 L201.4,458.5 L202.2,458.5 L202.9,458.5 L203.7,458.5 L204.4,458.5 L205.1,458.5 L205.9,458.5 L206.6,458.5 L207.4,458.5 L208.1,458.5 L208.9,458.5 L209.6,458.5 L210.3,458.5 L211.1,458.5 L211.8,458.5 L212.6,458.5 L213.3,458.5 L214.1,458.5 L214.8,458.5 L215.5,458.5 L216.3,458.5 L217,458.5 L217.8,458.5 L218.5,458.5 L219.3,458.5 L220,458.5 L220.7,458.5 L221.5,458.5 L222.2,458.5 L223,458.5 L223.7,458.5 L224.4,458.5 L225.2,458.5 L225.9,458.5 L226.7,458.5 L227.4,458.5 L228.2,458.5 L228.9,458.5" class="cv"/>
<path d="M51.5,594.7 L52.2,594.7 L53,594.7 L53.7,594.6 L54.5,594.6 L55.2,594.6 L56,594.5 L56.7,594.5 L57.4,594.5 L58.2,594.4 L58.9,594.4 L59.7,594.3 L60.4,594.3 L61.1,594.2 L61.9,594.2 L62.6,594.1 L63.4,594 L64.1,594 L64.9,593.9 L65.6,593.8 L66.3,593.7 L67.1,593.7 L67.8,593.6 L68.6,593.5 L69.3,593.4 L70.1,593.3 L70.8,593.2 L71.5,593 L72.3,592.9 L73,592.8 L73.8,592.7 L74.5,592.5 L75.3,592.4 L76,592.2 L76.7,592 L77.5,591.8 L78.2,591.7 L79,591.5 L79.7,591.2 L80.4,591 L81.2,590.8 L81.9,590.5 L82.7,590.3 L83.4,590 L84.2,589.7 L84.9,589.4 L85.6,589.1 L86.4,588.7 L87.1,588.4 L87.9,588 L88.6,587.6 L89.4,587.2 L90.1,586.8 L90.8,586.3 L91.6,585.8 L92.3,585.3 L93.1,584.8 L93.8,584.2 L94.6,583.6 L95.3,583 L96,582.3 L96.8,581.7 L97.5,580.9 L98.3,580.2 L99,579.4 L99.7,578.6 L100.5,577.7 L101.2,576.8 L102,575.8 L102.7,574.8 L103.5,573.8 L104.2,572.6 L104.9,571.5 L105.7,570.3 L106.4,569 L107.2,567.7 L107.9,566.3 L108.7,564.8 L109.4,563.3 L110.1,561.7 L110.9,560 L111.6,558.2 L112.4,556.4 L113.1,554.5 L113.8,552.5 L114.6,550.5 L115.3,548.3 L116.1,546.1 L116.8,543.8 L117.6,541.3 L118.3,538.8 L119,536.3 L119.8,533.6 L120.5,530.8 L121.3,528 L122,525.1 L122.8,522.1 L123.5,519 L124.2,515.9 L125,512.8 L125.7,509.6 L126.5,506.3 L127.2,503.1 L128,499.8 L128.7,496.5 L129.4,493.3 L130.2,490.1 L130.9,487 L131.7,484 L132.4,481.1 L133.1,478.3 L133.9,475.7 L134.6,473.2 L135.4,470.9 L136.1,468.8 L136.9,466.9 L137.6,465.2 L138.3,463.8 L139.1,462.5 L139.8,461.5 L140.6,460.7 L141.3,460 L142.1,459.5 L142.8,459.1 L143.5,458.9 L144.3,458.7 L145,458.6 L145.8,458.6 L146.5,458.5 L147.3,458.5 L148,458.5 L148.7,458.5 L149.5,458.5 L150.2,458.5 L151,458.5 L151.7,458.5 L152.4,458.5 L153.2,458.5 L153.9,458.5 L154.7,458.5 L155.4,458.5 L156.2,458.5 L156.9,458.5 L157.6,458.5 L158.4,458.5 L159.1,458.5 L159.9,458.5 L160.6,458.5 L161.4,458.5 L162.1,458.5 L162.8,458.5 L163.6,458.5 L164.3,458.5 L165.1,458.5 L165.8,458.5 L166.6,458.5 L167.3,458.5 L168,458.5 L168.8,458.5 L169.5,458.5 L170.3,458.5 L171,458.5 L171.7,458.5 L172.5,458.5 L173.2,458.5 L174,458.5 L174.7,458.5 L175.5,458.5 L176.2,458.5 L176.9,458.5 L177.7,458.5 L178.4,458.5 L179.2,458.5 L179.9,458.5 L180.7,458.5 L181.4,458.5 L182.1,458.5 L182.9,458.5 L183.6,458.5 L184.4,458.5 L185.1,458.5 L185.8,458.5 L186.6,458.5 L187.3,458.5 L188.1,458.5 L188.8,458.5 L189.6,458.5 L190.3,458.5 L191,458.5 L191.8,458.5 L192.5,458.5 L193.3,458.5 L194,458.5 L194.8,458.5 L195.5,458.5 L196.2,458.5 L197,458.5 L197.7,458.5 L198.5,458.5 L199.2,458.5 L200,458.5 L200.7,458.5 L201.4,458.5 L202.2,458.5 L202.9,458.5 L203.7,458.5 L204.4,458.5 L205.1,458.5 L205.9,458.5 L206.6,458.5 L207.4,458.5 L208.1,458.5 L208.9,458.5 L209.6,458.5 L210.3,458.5 L211.1,458.5 L211.8,458.5 L212.6,458.5 L213.3,458.5 L214.1,458.5 L214.8,458.5 L215.5,458.5 L216.3,458.5 L217,458.5 L217.8,458.5 L218.5,458.5 L219.3,458.5 L220,458.5 L220.7,458.5 L221.5,458.5 L222.2,458.5 L223,458.5 L223.7,458.5 L224.4,458.5 L225.2,458.5 L225.9,458.5 L226.7,458.5 L227.4,458.5 L228.2,458.5 L228.9,458.5" class="cv dsh"/>
<path d="M51.5,609 L52.2,609 L53,609 L53.7,609 L54.5,609 L55.2,609 L56,609 L56.7,609 L57.4,609 L58.2,609 L58.9,609 L59.7,609 L60.4,609 L61.1,609 L61.9,609 L62.6,609 L63.4,609 L64.1,609 L64.9,609 L65.6,609 L66.3,609 L67.1,609 L67.8,609 L68.6,608.9 L69.3,608.9 L70.1,608.9 L70.8,608.9 L71.5,608.9 L72.3,608.9 L73,608.9 L73.8,608.9 L74.5,608.9 L75.3,608.9 L76,608.8 L76.7,608.8 L77.5,608.8 L78.2,608.8 L79,608.8 L79.7,608.7 L80.4,608.7 L81.2,608.7 L81.9,608.6 L82.7,608.6 L83.4,608.5 L84.2,608.5 L84.9,608.4 L85.6,608.4 L86.4,608.3 L87.1,608.2 L87.9,608.2 L88.6,608.1 L89.4,608 L90.1,607.9 L90.8,607.8 L91.6,607.6 L92.3,607.5 L93.1,607.3 L93.8,607.2 L94.6,607 L95.3,606.8 L96,606.6 L96.8,606.4 L97.5,606.1 L98.3,605.9 L99,605.6 L99.7,605.2 L100.5,604.9 L101.2,604.5 L102,604.1 L102.7,603.7 L103.5,603.2 L104.2,602.7 L104.9,602.2 L105.7,601.6 L106.4,600.9 L107.2,600.2 L107.9,599.5 L108.7,598.7 L109.4,597.8 L110.1,596.9 L110.9,595.9 L111.6,594.8 L112.4,593.7 L113.1,592.5 L113.8,591.2 L114.6,589.8 L115.3,588.3 L116.1,586.7 L116.8,585 L117.6,583.2 L118.3,581.3 L119,579.2 L119.8,577.1 L120.5,574.8 L121.3,572.4 L122,569.8 L122.8,567.2 L123.5,564.4 L124.2,561.4 L125,558.4 L125.7,555.2 L126.5,551.8 L127.2,548.4 L128,544.8 L128.7,541.2 L129.4,537.4 L130.2,533.6 L130.9,529.7 L131.7,525.8 L132.4,521.8 L133.1,517.9 L133.9,514 L134.6,510.1 L135.4,506.3 L136.1,502.7 L136.9,499.1 L137.6,495.8 L138.3,492.6 L139.1,489.6 L139.8,486.9 L140.6,484.4 L141.3,482.2 L142.1,480.2 L142.8,478.5 L143.5,477.1 L144.3,475.9 L145,474.9 L145.8,474.2 L146.5,473.6 L147.3,473.2 L148,472.9 L148.7,472.7 L149.5,472.5 L150.2,472.4 L151,472.4 L151.7,472.4 L152.4,472.3 L153.2,472.3 L153.9,472.3 L154.7,472.3 L155.4,472.3 L156.2,472.3 L156.9,472.3 L157.6,472.3 L158.4,472.3 L159.1,472.3 L159.9,472.3 L160.6,472.3 L161.4,472.3 L162.1,472.3 L162.8,472.3 L163.6,472.3 L164.3,472.3 L165.1,472.3 L165.8,472.3 L166.6,472.3 L167.3,472.3 L168,472.3 L168.8,472.3 L169.5,472.3 L170.3,472.3 L171,472.3 L171.7,472.3 L172.5,472.3 L173.2,472.3 L174,472.3 L174.7,472.3 L175.5,472.3 L176.2,472.3 L176.9,472.3 L177.7,472.3 L178.4,472.3 L179.2,472.3 L179.9,472.3 L180.7,472.3 L181.4,472.3 L182.1,472.3 L182.9,472.3 L183.6,472.3 L184.4,472.3 L185.1,472.3 L185.8,472.3 L186.6,472.3 L187.3,472.3 L188.1,472.3 L188.8,472.3 L189.6,472.3 L190.3,472.3 L191,472.3 L191.8,472.3 L192.5,472.3 L193.3,472.3 L194,472.3 L194.8,472.3 L195.5,472.3 L196.2,472.3 L197,472.3 L197.7,472.3 L198.5,472.3 L199.2,472.3 L200,472.3 L200.7,472.3 L201.4,472.3 L202.2,472.3 L202.9,472.3 L203.7,472.3 L204.4,472.3 L205.1,472.3 L205.9,472.3 L206.6,472.3 L207.4,472.3 L208.1,472.3 L208.9,472.3 L209.6,472.3 L210.3,472.3 L211.1,472.3 L211.8,472.3 L212.6,472.3 L213.3,472.3 L214.1,472.3 L214.8,472.3 L215.5,472.3 L216.3,472.3 L217,472.3 L217.8,472.3 L218.5,472.3 L219.3,472.3 L220,472.3 L220.7,472.3 L221.5,472.3 L222.2,472.3 L223,472.3 L223.7,472.3 L224.4,472.3 L225.2,472.3 L225.9,472.3 L226.7,472.3 L227.4,472.3 L228.2,472.3 L228.9,472.3" class="cv dsh"/>
<path d="M50 455.5V609H230.9V455.5Z" class="ax"/>
<text x="35" y="611.1" class="tl" text-anchor="middle">0</text>
<text x="35" y="581" class="tl" text-anchor="middle">0.2</text>
<text x="35" y="550.9" class="tl" text-anchor="middle">0.4</text>
<text x="35" y="520.8" class="tl" text-anchor="middle">0.6</text>
<text x="35" y="490.7" class="tl" text-anchor="middle">0.8</text>
<text x="35" y="460.6" class="tl" text-anchor="middle">1</text>
<text x="62.8" y="625.7" class="tl" text-anchor="middle">−6</text>
<text x="92" y="625.7" class="tl" text-anchor="middle">−5</text>
<text x="121.2" y="625.7" class="tl" text-anchor="middle">−4</text>
<text x="150.5" y="625.7" class="tl" text-anchor="middle">−3</text>
<text x="179.7" y="625.7" class="tl" text-anchor="middle">−2</text>
<text x="208.9" y="625.7" class="tl" text-anchor="middle">−1</text>
<path d="M46 609H50M46 578.9H50M46 548.8H50M46 518.7H50M46 488.6H50M46 458.5H50M64.1 609V612.5M93.3 609V612.5M122.5 609V612.5M151.8 609V612.5M181 609V612.5M210.2 609V612.5" class="ax"/>
<text x="56.3" y="478.5" class="tl">R<tspan class="sup" dy="-2.9">2</tspan><tspan dy="2.9">= 0.466</tspan></text>
<text x="56.3" y="496.4" class="tl">Nm= 2019</text>
<path class="dt dc" d="M364.7 468.3h0M363.2 471.1h0.2M354 473.8h0M361.7 473.8h0M360.5 476.5h1.6M357.5 479.2h0M359.6 479.2h1.6M358.8 482h1.6M357.9 484.7h1.6M356 487.4h0.9M355.9 490.2h3.1M354.9 492.9h3.1M352 495.6h4.6M352.3 498.4h4.5M351.3 501.1h1.5M355.9 501.1h0M349.7 503.8h6.1M347.9 506.6h6.1M346.2 509.3h7.7M339.8 512h0M344.3 512h9.1M342.1 514.8h10.5M340.8 517.5h12.1M339.5 520.2h12.2M338.5 523h12.2M337.1 525.7h13.8M335.4 528.4h14M333.1 531.1h15.4M330.8 533.9h10.7M344.5 533.9h3.1M329.7 536.6h10.7M343.4 536.6h4.6M328.6 539.3h6.1M337.7 539.3h7.6M327.5 542.1h18.4M326.4 544.8h18.5M325.6 547.5h18.5M325.1 550.3h1.5M329.7 550.3h13.8M323.2 553h19.7M322.4 555.7h6M331.4 555.7h9M321.8 558.5h10.8M335.6 558.5h4.6M320.5 561.2h18.6M319.1 563.9h18.1M319.2 566.7h15.1M316.3 569.4h18.1M316.4 572.1h9.1M330 572.1h3M313.1 574.9h4.6M320.7 574.9h10.7M311.5 577.6h3.1M317.6 577.6h10.7M310.2 580.3h16.8M308.5 583h15.4M306.7 585.8h12.1M304.8 588.5h10.6M301.9 591.2h4.6"/>
<path class="dt dk" d="M372 460.1h0M406.7 460.1h0M375.1 462.9h0M383.3 462.9h0M398.5 462.9h0M366.8 465.6h0M368.4 465.6h0M370 465.6h0M371.6 465.6h0M378.6 465.6h0M389.1 465.6h0M393.8 465.6h0M413.7 465.6h0M366.3 468.3h0M367.9 468.3h0M369.6 468.3h0M371.2 468.3h0M364.7 471.1h7.5M364.8 473.8h6.2M363.6 476.5h6.2M362.8 479.2h6.3M361.9 482h6.3M361 484.7h6.3M360 487.4h6.2M360.5 490.2h4.6M359.5 492.9h6.1M358.1 495.6h6.1M358.3 498.4h6M357.4 501.1h6.1M357.4 503.8h6.1M355.5 506.6h1.5M360.1 506.6h1.5M355.5 509.3h6.2M354.9 512h6.1M354.1 514.8h6M354.4 517.5h6.1M353.2 520.2h6.1M352.1 523h7.6M352.4 525.7h6.1M350.9 528.4h7.8M350 531.1h7.7M349.1 533.9h7.6M349.5 536.6h7.6M348.4 539.3h7.6M347.4 542.1h7.7M346.4 544.8h9.2M345.6 547.5h9.2M345 550.3h9.2M344.4 553h9.1M342 555.7h10.5M341.8 558.5h9.2M340.6 561.2h10.8M338.7 563.9h12.1M337.3 566.7h12.1M336 569.4h12.1M334.6 572.1h13.6M332.9 574.9h13.7M329.9 577.6h16.8M328.6 580.3h16.8M325.5 583h18.5M321.8 585.8h21.1M316.9 588.5h24.2M308.1 591.2h30.8M299 594h0M300.9 594h36.3M297 596.7h0M299 596.7h0M300.7 596.7h13.8M317.5 596.7h16.8M292.7 599.4h0M297 599.4h0M299 599.4h31.9M284.3 602.2h0M292.7 602.2h0M297 602.2h0M299 602.2h25.5"/>
<path class="dt dr" d="M373.7 471.1h4.5M381.3 471.1h1.5M396 471.1h0M372.5 473.8h3.1M380.3 473.8h4.7M392.6 473.8h0M403.2 473.8h0M371.4 476.5h6.2M380.7 476.5h3.1M386.9 476.5h0M370.6 479.2h12.5M369.8 482h9.5M384 482h0M388.7 482h0M368.9 484.7h0M372 484.7h3.1M387.7 484.7h0M390.6 484.7h0M367.8 487.4h4.7M375.5 487.4h1.6M380.2 487.4h3.1M388 487.4h0M391.9 487.4h0M368.2 490.2h10.8M382.1 490.2h3.1M388.3 490.2h0M394.7 490.2h0M367.1 492.9h0M370.2 492.9h3.1M380.9 492.9h0M385.5 492.9h1.5M403.2 492.9h0M367.3 495.6h7.6M379.5 495.6h1.5M388.7 495.6h0M365.9 498.4h6M374.9 498.4h0M377.9 498.4h0M382.4 498.4h0M387.3 498.4h1.7M390.7 498.4h0M397.3 498.4h0M365.1 501.1h6.1M375.8 501.1h6.1M386.6 501.1h0.2M389.7 501.1h0M392.1 501.1h0M393.9 501.1h0M395.7 501.1h0M365 503.8h3M371.1 503.8h1.5M375.6 503.8h0M378.7 503.8h0M394 503.8h0M363.2 506.6h10.7M376.9 506.6h1.5M381.5 506.6h0M385.6 506.6h0M388.9 506.6h0M395.4 506.6h0M363.2 509.3h7.7M380.2 509.3h1.5M384.9 509.3h1.6M391.8 509.3h0M362.5 512h3M368.6 512h0M371.7 512h4.6M385.7 512h1.6M392 512h1.8M402 512h0M361.7 514.8h3M367.7 514.8h1.5M375.2 514.8h0M379.8 514.8h1.5M362 517.5h10.6M375.6 517.5h0M378.6 517.5h0M381.7 517.5h1.5M386 517.5h0M387.7 517.5h0M389.4 517.5h0M394.4 517.5h0M360.8 520.2h1.5M366.9 520.2h0M371.4 520.2h1.5M383.6 520.2h0M392 520.2h0M361.3 523h4.6M370.4 523h1.5M376.5 523h0M382.8 523h0M384.5 523h0M391.3 523h0M393 523h0M360 525.7h7.6M370.8 525.7h1.5M375.3 525.7h0M378.4 525.7h1.9M387.8 525.7h0M394 525.7h0M360.2 528.4h10.9M374.2 528.4h1.6M378.8 528.4h1.6M359.3 531.1h3.1M368.5 531.1h0M371.6 531.1h0M376.2 531.1h0M383.3 531.1h0M386.3 531.1h0M389.4 531.1h0M396.1 531.1h0M358.3 533.9h4.6M365.9 533.9h1.5M376.7 533.9h4.3M384.1 533.9h4.7M358.7 536.6h3.1M364.8 536.6h3.1M371 536.6h0M374 536.6h1.5M378.6 536.6h1.6M386.3 536.6h3.1M392.6 536.6h0M357.6 539.3h7.6M371.4 539.3h0M374.4 539.3h1.8M379.3 539.3h0M382.3 539.3h1.5M386.9 539.3h0M407.8 539.3h0M356.6 542.1h0M359.6 542.1h4.6M368.8 542.1h0M373.4 542.1h0M382.9 542.1h0M386 542.1h1.5M357.2 544.8h12.3M386.5 544.8h0M356.4 547.5h3.1M365.6 547.5h1.5M371.8 547.5h0M382.5 547.5h3.1M390 547.5h0M355.7 550.3h4.6M363.3 550.3h4.6M370.9 550.3h1.2M375.3 550.3h1.6M381.5 550.3h0M384.6 550.3h0M356.5 553h0M359.6 553h4.5M367.1 553h0M370.1 553h0M372.7 553h0M377.4 553h1.6M385.6 553h0M354 555.7h1.5M358.5 555.7h0M361.6 555.7h3M369.1 555.7h2.6M374.8 555.7h3.1M352.6 558.5h3.1M358.7 558.5h6.2M370.4 558.5h0M375.2 558.5h0M386.8 558.5h0M352.9 561.2h6.2M362.2 561.2h1.5M366.9 561.2h0.5M369 561.2h0M377.3 561.2h0M352.2 563.9h7.5M362.8 563.9h0M365.8 563.9h0M374.5 563.9h0M376.2 563.9h0M380 563.9h0M396.1 563.9h0M350.9 566.7h1.5M355.5 566.7h3M363 566.7h0M364.7 566.7h1.4M377 566.7h0M351.1 569.4h0M355.6 569.4h6M363.3 569.4h0M366.4 569.4h0M374.2 569.4h0M377.3 569.4h0M403.2 569.4h0M351.2 572.1h1.5M355.7 572.1h1.5M360.3 572.1h0M361.9 572.1h0M365.1 572.1h0M368.2 572.1h0M349.7 574.9h6.1M365.2 574.9h0M349.8 577.6h4.6M357.5 577.6h1.5M363.8 577.6h0M367 577.6h0M368.6 577.6h0M371.9 577.6h0M373.5 577.6h0M383.3 577.6h0M346.9 580.3h7.7M359.2 580.3h1.5M372 580.3h0.2M345.5 583h9.2M358.9 583h0M361.9 583h0M364.9 583h4.5M377.4 583h0M344.4 585.8h6M353.5 585.8h0M356.5 585.8h0.9M362 585.8h1.5M369.6 585.8h0M342.6 588.5h9.1M354.4 588.5h1.5M340.4 591.2h7.7M350.9 591.2h4.7M358.8 591.2h1.6M365.1 591.2h0M368.1 591.2h0M338.7 594h9.1M350.8 594h0M353 594h3M359.1 594h0M365 594h0.2M335.9 596.7h6.1M345.1 596.7h4.6M354.1 596.7h0M360 596.7h0M362.1 596.7h0M363.8 596.7h0M332.4 599.4h4.5M340 599.4h8.3M350.6 599.4h0M354.5 599.4h3.1M360.7 599.4h0M326 602.2h3M332 602.2h3M341.2 602.2h0M344 602.2h0.8M350 602.2h0"/>
<path d="M282.7,604.7 L283.4,604.6 L284.1,604.6 L284.9,604.6 L285.6,604.6 L286.3,604.6 L287,604.5 L287.7,604.5 L288.5,604.5 L289.2,604.5 L289.9,604.5 L290.6,604.4 L291.4,604.4 L292.1,604.4 L292.8,604.3 L293.5,604.3 L294.2,604.3 L295,604.2 L295.7,604.2 L296.4,604.1 L297.1,604.1 L297.8,604 L298.6,604 L299.3,603.9 L300,603.9 L300.7,603.8 L301.4,603.8 L302.2,603.7 L302.9,603.6 L303.6,603.5 L304.3,603.5 L305,603.4 L305.8,603.3 L306.5,603.2 L307.2,603.1 L307.9,603 L308.7,602.8 L309.4,602.7 L310.1,602.6 L310.8,602.4 L311.5,602.3 L312.3,602.1 L313,602 L313.7,601.8 L314.4,601.6 L315.1,601.4 L315.9,601.2 L316.6,601 L317.3,600.7 L318,600.5 L318.7,600.2 L319.5,599.9 L320.2,599.6 L320.9,599.3 L321.6,599 L322.4,598.6 L323.1,598.3 L323.8,597.9 L324.5,597.4 L325.2,597 L326,596.5 L326.7,596 L327.4,595.5 L328.1,594.9 L328.8,594.3 L329.6,593.7 L330.3,593 L331,592.3 L331.7,591.5 L332.4,590.7 L333.2,589.9 L333.9,589 L334.6,588 L335.3,587 L336,586 L336.8,584.9 L337.5,583.7 L338.2,582.5 L338.9,581.1 L339.7,579.8 L340.4,578.3 L341.1,576.8 L341.8,575.1 L342.5,573.4 L343.3,571.6 L344,569.7 L344.7,567.8 L345.4,565.7 L346.1,563.5 L346.9,561.2 L347.6,558.8 L348.3,556.3 L349,553.7 L349.7,551 L350.5,548.1 L351.2,545.2 L351.9,542.2 L352.6,539 L353.4,535.7 L354.1,532.4 L354.8,529 L355.5,525.4 L356.2,521.9 L357,518.2 L357.7,514.5 L358.4,510.8 L359.1,507.1 L359.8,503.4 L360.6,499.7 L361.3,496 L362,492.4 L362.7,488.9 L363.4,485.6 L364.2,482.4 L364.9,479.3 L365.6,476.4 L366.3,473.7 L367,471.3 L367.8,469 L368.5,467 L369.2,465.2 L369.9,463.7 L370.7,462.3 L371.4,461.2 L372.1,460.3 L372.8,459.5 L373.5,458.9 L374.3,458.5 L375,458.1 L375.7,457.9 L376.4,457.7 L377.1,457.6 L377.9,457.5 L378.6,457.5 L379.3,457.4 L380,457.4 L380.7,457.4 L381.5,457.4 L382.2,457.4 L382.9,457.4 L383.6,457.4 L384.3,457.4 L385.1,457.4 L385.8,457.4 L386.5,457.4 L387.2,457.4 L388,457.4 L388.7,457.4 L389.4,457.4 L390.1,457.4 L390.8,457.4 L391.6,457.4 L392.3,457.4 L393,457.4 L393.7,457.4 L394.4,457.4 L395.2,457.4 L395.9,457.4 L396.6,457.4 L397.3,457.4 L398,457.4 L398.8,457.4 L399.5,457.4 L400.2,457.4 L400.9,457.4 L401.7,457.4 L402.4,457.4 L403.1,457.4 L403.8,457.4 L404.5,457.4 L405.3,457.4 L406,457.4 L406.7,457.4 L407.4,457.4 L408.1,457.4 L408.9,457.4 L409.6,457.4 L410.3,457.4 L411,457.4 L411.7,457.4 L412.5,457.4 L413.2,457.4 L413.9,457.4 L414.6,457.4 L415.3,457.4 L416.1,457.4 L416.8,457.4 L417.5,457.4 L418.2,457.4 L419,457.4 L419.7,457.4 L420.4,457.4 L421.1,457.4 L421.8,457.4 L422.6,457.4 L423.3,457.4 L424,457.4 L424.7,457.4 L425.4,457.4 L426.2,457.4 L426.9,457.4 L427.6,457.4 L428.3,457.4 L429,457.4 L429.8,457.4 L430.5,457.4 L431.2,457.4 L431.9,457.4 L432.7,457.4 L433.4,457.4 L434.1,457.4 L434.8,457.4 L435.5,457.4 L436.3,457.4 L437,457.4 L437.7,457.4 L438.4,457.4 L439.1,457.4 L439.9,457.4 L440.6,457.4 L441.3,457.4 L442,457.4 L442.7,457.4 L443.5,457.4 L444.2,457.4 L444.9,457.4 L445.6,457.4 L446.3,457.4 L447.1,457.4 L447.8,457.4 L448.5,457.4 L449.2,457.4 L450,457.4 L450.7,457.4 L451.4,457.4 L452.1,457.4 L452.8,457.4 L453.6,457.4 L454.3,457.4 L455,457.4" class="cv"/>
<path d="M282.7,593.9 L283.4,593.9 L284.1,593.9 L284.9,593.8 L285.6,593.8 L286.3,593.8 L287,593.7 L287.7,593.7 L288.5,593.7 L289.2,593.6 L289.9,593.6 L290.6,593.5 L291.4,593.5 L292.1,593.4 L292.8,593.4 L293.5,593.3 L294.2,593.2 L295,593.2 L295.7,593.1 L296.4,593 L297.1,592.9 L297.8,592.9 L298.6,592.8 L299.3,592.7 L300,592.6 L300.7,592.5 L301.4,592.4 L302.2,592.2 L302.9,592.1 L303.6,592 L304.3,591.8 L305,591.7 L305.8,591.5 L306.5,591.4 L307.2,591.2 L307.9,591 L308.7,590.8 L309.4,590.6 L310.1,590.4 L310.8,590.2 L311.5,590 L312.3,589.7 L313,589.5 L313.7,589.2 L314.4,588.9 L315.1,588.6 L315.9,588.3 L316.6,587.9 L317.3,587.6 L318,587.2 L318.7,586.8 L319.5,586.4 L320.2,586 L320.9,585.5 L321.6,585 L322.4,584.5 L323.1,584 L323.8,583.4 L324.5,582.8 L325.2,582.2 L326,581.6 L326.7,580.9 L327.4,580.2 L328.1,579.4 L328.8,578.7 L329.6,577.8 L330.3,577 L331,576.1 L331.7,575.1 L332.4,574.1 L333.2,573.1 L333.9,572 L334.6,570.8 L335.3,569.6 L336,568.3 L336.8,567 L337.5,565.6 L338.2,564.2 L338.9,562.7 L339.7,561.1 L340.4,559.4 L341.1,557.7 L341.8,555.9 L342.5,554 L343.3,552 L344,550 L344.7,547.9 L345.4,545.6 L346.1,543.3 L346.9,540.9 L347.6,538.5 L348.3,535.9 L349,533.3 L349.7,530.5 L350.5,527.7 L351.2,524.8 L351.9,521.9 L352.6,518.8 L353.4,515.8 L354.1,512.6 L354.8,509.4 L355.5,506.2 L356.2,503 L357,499.7 L357.7,496.5 L358.4,493.3 L359.1,490.1 L359.8,487 L360.6,484 L361.3,481 L362,478.2 L362.7,475.5 L363.4,473 L364.2,470.7 L364.9,468.5 L365.6,466.5 L366.3,464.8 L367,463.3 L367.8,461.9 L368.5,460.8 L369.2,459.9 L369.9,459.2 L370.7,458.6 L371.4,458.2 L372.1,457.9 L372.8,457.7 L373.5,457.6 L374.3,457.5 L375,457.4 L375.7,457.4 L376.4,457.4 L377.1,457.4 L377.9,457.4 L378.6,457.4 L379.3,457.4 L380,457.4 L380.7,457.4 L381.5,457.4 L382.2,457.4 L382.9,457.4 L383.6,457.4 L384.3,457.4 L385.1,457.4 L385.8,457.4 L386.5,457.4 L387.2,457.4 L388,457.4 L388.7,457.4 L389.4,457.4 L390.1,457.4 L390.8,457.4 L391.6,457.4 L392.3,457.4 L393,457.4 L393.7,457.4 L394.4,457.4 L395.2,457.4 L395.9,457.4 L396.6,457.4 L397.3,457.4 L398,457.4 L398.8,457.4 L399.5,457.4 L400.2,457.4 L400.9,457.4 L401.7,457.4 L402.4,457.4 L403.1,457.4 L403.8,457.4 L404.5,457.4 L405.3,457.4 L406,457.4 L406.7,457.4 L407.4,457.4 L408.1,457.4 L408.9,457.4 L409.6,457.4 L410.3,457.4 L411,457.4 L411.7,457.4 L412.5,457.4 L413.2,457.4 L413.9,457.4 L414.6,457.4 L415.3,457.4 L416.1,457.4 L416.8,457.4 L417.5,457.4 L418.2,457.4 L419,457.4 L419.7,457.4 L420.4,457.4 L421.1,457.4 L421.8,457.4 L422.6,457.4 L423.3,457.4 L424,457.4 L424.7,457.4 L425.4,457.4 L426.2,457.4 L426.9,457.4 L427.6,457.4 L428.3,457.4 L429,457.4 L429.8,457.4 L430.5,457.4 L431.2,457.4 L431.9,457.4 L432.7,457.4 L433.4,457.4 L434.1,457.4 L434.8,457.4 L435.5,457.4 L436.3,457.4 L437,457.4 L437.7,457.4 L438.4,457.4 L439.1,457.4 L439.9,457.4 L440.6,457.4 L441.3,457.4 L442,457.4 L442.7,457.4 L443.5,457.4 L444.2,457.4 L444.9,457.4 L445.6,457.4 L446.3,457.4 L447.1,457.4 L447.8,457.4 L448.5,457.4 L449.2,457.4 L450,457.4 L450.7,457.4 L451.4,457.4 L452.1,457.4 L452.8,457.4 L453.6,457.4 L454.3,457.4 L455,457.4" class="cv dsh"/>
<path d="M282.7,604.9 L283.4,604.9 L284.1,604.9 L284.9,604.9 L285.6,604.9 L286.3,604.9 L287,604.9 L287.7,604.9 L288.5,604.9 L289.2,604.9 L289.9,604.9 L290.6,604.9 L291.4,604.9 L292.1,604.9 L292.8,604.9 L293.5,604.9 L294.2,604.9 L295,604.9 L295.7,604.9 L296.4,604.9 L297.1,604.9 L297.8,604.8 L298.6,604.8 L299.3,604.8 L300,604.8 L300.7,604.8 L301.4,604.8 L302.2,604.8 L302.9,604.8 L303.6,604.8 L304.3,604.8 L305,604.7 L305.8,604.7 L306.5,604.7 L307.2,604.7 L307.9,604.6 L308.7,604.6 L309.4,604.6 L310.1,604.6 L310.8,604.5 L311.5,604.5 L312.3,604.4 L313,604.4 L313.7,604.3 L314.4,604.3 L315.1,604.2 L315.9,604.1 L316.6,604.1 L317.3,604 L318,603.9 L318.7,603.8 L319.5,603.7 L320.2,603.5 L320.9,603.4 L321.6,603.3 L322.4,603.1 L323.1,602.9 L323.8,602.8 L324.5,602.5 L325.2,602.3 L326,602.1 L326.7,601.8 L327.4,601.6 L328.1,601.2 L328.8,600.9 L329.6,600.6 L330.3,600.2 L331,599.8 L331.7,599.3 L332.4,598.8 L333.2,598.3 L333.9,597.8 L334.6,597.2 L335.3,596.5 L336,595.8 L336.8,595.1 L337.5,594.3 L338.2,593.4 L338.9,592.5 L339.7,591.5 L340.4,590.5 L341.1,589.3 L341.8,588.1 L342.5,586.8 L343.3,585.5 L344,584 L344.7,582.4 L345.4,580.8 L346.1,579 L346.9,577.2 L347.6,575.2 L348.3,573.1 L349,570.9 L349.7,568.6 L350.5,566.1 L351.2,563.6 L351.9,560.9 L352.6,558 L353.4,555.1 L354.1,552 L354.8,548.8 L355.5,545.5 L356.2,542.1 L357,538.6 L357.7,534.9 L358.4,531.3 L359.1,527.5 L359.8,523.7 L360.6,519.9 L361.3,516 L362,512.2 L362.7,508.4 L363.4,504.7 L364.2,501 L364.9,497.5 L365.6,494.1 L366.3,490.8 L367,487.8 L367.8,484.9 L368.5,482.3 L369.2,479.9 L369.9,477.8 L370.7,475.8 L371.4,474.2 L372.1,472.8 L372.8,471.6 L373.5,470.6 L374.3,469.9 L375,469.3 L375.7,468.8 L376.4,468.5 L377.1,468.3 L377.9,468.1 L378.6,468.1 L379.3,468 L380,468 L380.7,467.9 L381.5,467.9 L382.2,467.9 L382.9,467.9 L383.6,467.9 L384.3,467.9 L385.1,467.9 L385.8,467.9 L386.5,467.9 L387.2,467.9 L388,467.9 L388.7,467.9 L389.4,467.9 L390.1,467.9 L390.8,467.9 L391.6,467.9 L392.3,467.9 L393,467.9 L393.7,467.9 L394.4,467.9 L395.2,467.9 L395.9,467.9 L396.6,467.9 L397.3,467.9 L398,467.9 L398.8,467.9 L399.5,467.9 L400.2,467.9 L400.9,467.9 L401.7,467.9 L402.4,467.9 L403.1,467.9 L403.8,467.9 L404.5,467.9 L405.3,467.9 L406,467.9 L406.7,467.9 L407.4,467.9 L408.1,467.9 L408.9,467.9 L409.6,467.9 L410.3,467.9 L411,467.9 L411.7,467.9 L412.5,467.9 L413.2,467.9 L413.9,467.9 L414.6,467.9 L415.3,467.9 L416.1,467.9 L416.8,467.9 L417.5,467.9 L418.2,467.9 L419,467.9 L419.7,467.9 L420.4,467.9 L421.1,467.9 L421.8,467.9 L422.6,467.9 L423.3,467.9 L424,467.9 L424.7,467.9 L425.4,467.9 L426.2,467.9 L426.9,467.9 L427.6,467.9 L428.3,467.9 L429,467.9 L429.8,467.9 L430.5,467.9 L431.2,467.9 L431.9,467.9 L432.7,467.9 L433.4,467.9 L434.1,467.9 L434.8,467.9 L435.5,467.9 L436.3,467.9 L437,467.9 L437.7,467.9 L438.4,467.9 L439.1,467.9 L439.9,467.9 L440.6,467.9 L441.3,467.9 L442,467.9 L442.7,467.9 L443.5,467.9 L444.2,467.9 L444.9,467.9 L445.6,467.9 L446.3,467.9 L447.1,467.9 L447.8,467.9 L448.5,467.9 L449.2,467.9 L450,467.9 L450.7,467.9 L451.4,467.9 L452.1,467.9 L452.8,467.9 L453.6,467.9 L454.3,467.9 L455,467.9" class="cv dsh"/>
<path d="M281.2 454.6V604.9H457V454.6Z" class="ax"/>
<text x="267.3" y="607" class="tl" text-anchor="middle">0</text>
<text x="267.3" y="577.5" class="tl" text-anchor="middle">0.2</text>
<text x="267.3" y="548" class="tl" text-anchor="middle">0.4</text>
<text x="267.3" y="518.5" class="tl" text-anchor="middle">0.6</text>
<text x="267.3" y="489" class="tl" text-anchor="middle">0.8</text>
<text x="267.3" y="459.5" class="tl" text-anchor="middle">1</text>
<text x="297.7" y="625.7" class="tl" text-anchor="middle">−6</text>
<text x="325.9" y="625.7" class="tl" text-anchor="middle">−5</text>
<text x="354.1" y="625.7" class="tl" text-anchor="middle">−4</text>
<text x="382.2" y="625.7" class="tl" text-anchor="middle">−3</text>
<text x="410.4" y="625.7" class="tl" text-anchor="middle">−2</text>
<text x="438.6" y="625.7" class="tl" text-anchor="middle">−1</text>
<path d="M277.2 604.9H281.2M277.2 575.4H281.2M277.2 545.9H281.2M277.2 516.4H281.2M277.2 486.9H281.2M277.2 457.4H281.2M297.4 604.9V608.4M325.6 604.9V608.4M353.8 604.9V608.4M381.9 604.9V608.4M410.1 604.9V608.4M438.3 604.9V608.4" class="ax"/>
<text x="288" y="476.9" class="tl">R<tspan class="sup" dy="-2.9">2</tspan><tspan dy="2.9">= 0.43</tspan></text>
<text x="288" y="494.4" class="tl">Nm= 2441</text>
<path class="dt dc" d="M598.6 467.3h0M595 472.9h1.2M589 475.7h0M586.9 478.5h0M591.1 478.5h3M589.3 481.3h0M588.5 484.1h0M591.5 484.1h0M587.8 486.9h0M583 492.6h0M585.2 492.6h1.6M589.9 492.6h0M585.2 495.4h0M585.1 498.1h0M588.1 498.1h0M585.4 501h0M588.5 501h0M577.8 503.8h0M585.4 503.8h0M576.4 506.6h4.7M584.2 506.6h0M574.5 509.4h10.9M572.6 512.2h12.3M571.1 515h12.2M569.6 517.8h4.7M579 517.8h4.7M569.4 520.6h10.8M583.3 520.6h0M569.3 523.4h4.5M576.9 523.4h6M568.9 526.2h10.9M567.5 529h13.6M566.1 531.8h13.8M565.2 534.6h13.9M563.7 537.4h9M575.8 537.4h3M561.9 540.2h15.4M560.5 543h16.6M558.8 545.8h16.9M557.1 548.6h18.2M556.2 551.4h18.2M554.5 554.2h18.6M552.5 557h4.6M560.2 557h12.3M550.7 559.8h19.9M550.8 562.6h4.5M558.4 562.6h4.5M565.9 562.6h3M547.2 565.5h1.5M551.7 565.5h4.5M559.3 565.5h4.5M566.8 565.5h1.5M545.8 568.2h21.4M544.4 571h20M543 573.9h20.1M541.6 576.7h15.1M559.7 576.7h1.5M539.6 579.5h4.6M547.3 579.5h10.7M537.7 582.3h15.4M556.2 582.3h0M536 585.1h13.8M534.2 587.9h12.3M532.2 590.7h7.5"/>
<path class="dt dk" d="M624 458.9h0M614 461.7h0M620.8 461.7h0M626 464.5h0M630.2 464.5h0M606 467.3h0M634.9 467.3h0M597.8 472.9h0M599.4 472.9h0M601 472.9h1.6M604.3 472.9h0M595.5 475.7h0M597.1 475.7h0M598.8 475.7h0M600.4 475.7h0M602 475.7h0M603.7 475.7h0M595.6 478.5h6.1M594 481.3h7.8M593.2 484.1h3.1M599.3 484.1h1.5M592.6 486.9h6.3M592.8 489.7h6.1M591.5 492.6h6.3M591.3 495.4h6.2M589.7 498.1h7.6M590.1 501h6.2M588.4 503.8h7.6M588.9 506.6h6.3M586.9 509.4h7.8M586.5 512.2h7.7M586.3 515h6.1M585.2 517.8h7.8M584.8 520.6h7.7M584.4 523.4h7.6M582.9 526.2h7.8M582.7 529h7.6M581.5 531.8h7.7M580.6 534.6h9.2M580.3 537.4h4.5M587.8 537.4h0M578.9 540.2h9.3M578.6 543h9M577.2 545.8h6.2M586.5 545.8h0M576.8 548.6h9.1M577.4 551.4h7.6M574.6 554.2h9.3M574.1 557h3.1M580.2 557h3.1M572.1 559.8h10.7M570.4 562.6h12M569.8 565.5h12.1M568.7 568.2h12.2M565.9 571h13.8M564.7 573.9h13.9M562.7 576.7h15.1M559.5 579.5h16.8M557.7 582.3h16.9M552.9 585.1h21.5M548.1 587.9h1.5M552.7 587.9h20M541.3 590.7h28.6M528.7 593.5h0M530.6 593.5h38.4M526.3 596.3h0M528.7 596.3h0M530.4 596.3h7.6M541 596.3h24.4M521.7 599.1h0M526.3 599.1h0M528.7 599.1h33.2M513.3 601.9h0M521.7 601.9h0M526.3 601.9h0M528.7 601.9h27.5"/>
<path class="dt dr" d="M606.9 475.7h0M608.6 475.7h0M610.2 475.7h0M637.2 475.7h0M603.2 478.5h10.6M618.5 478.5h0M636 478.5h0M604.9 481.3h4.7M615.9 481.3h0M619.2 481.3h0M622.4 481.3h0M624 481.3h0M602.4 484.1h6.2M611.7 484.1h0M617.8 484.1h0M622 484.1h0M623.8 484.1h0M633.7 484.1h0M600.5 486.9h11.1M614.7 486.9h0M622 486.9h3M601.9 489.7h4.6M612.6 489.7h1.5M626.4 489.7h1.5M631.3 489.7h0M599.4 492.6h14.2M615.4 492.6h1.6M620.1 492.6h0M626.3 492.6h0M599.1 495.4h1.5M603.7 495.4h4.6M611.4 495.4h1.5M618.3 495.4h0M623 495.4h0M626 495.4h0M627.7 495.4h0M598.8 498.1h12.1M621.2 498.1h1.6M597.8 501h7.8M608.7 501h0M616.1 501h0M617.7 501h0M622.6 501h0M624.2 501h0M627.5 501h0.3M597.6 503.8h1.5M602.1 503.8h0M605.2 503.8h1.5M609.8 503.8h0M616.8 503.8h0M625.8 503.8h1.5M596.7 506.6h0M599.8 506.6h7.8M611.7 506.6h1.5M616.3 506.6h0M622.5 506.6h1.5M597.8 509.4h3.1M604 509.4h0M607.1 509.4h0M617.5 509.4h0M597.3 512.2h3.1M603.5 512.2h3.1M617 512.2h0M618.6 512.2h0M593.9 515h7.6M604.5 515h0M607.6 515h2.4M619.7 515h0M594.5 517.8h12.5M609.3 517.8h0M612.5 517.8h0M617.5 517.8h0M622.4 517.8h0M630.2 517.8h0M594.1 520.6h6.2M603.3 520.6h0M608 520.6h0M611.6 520.6h0M614.6 520.6h4.6M622.2 520.6h1.5M593.5 523.4h0M596.5 523.4h6M605.6 523.4h0M609.3 523.4h0M612.4 523.4h3.1M621.7 523.4h0M634.9 523.4h0M592.2 526.2h6.2M601.6 526.2h1.6M606.2 526.2h0M610.2 526.2h0M619.6 526.2h0.4M622.7 526.2h1.6M591.7 529h9.1M611 529h0M615.7 529h0M622.1 529h0M590.7 531.8h3.1M601.4 531.8h3.1M616.4 531.8h1.6M591.4 534.6h9.2M606 534.6h0M610.7 534.6h0M623 534.6h0M625.5 534.6h0M589.3 537.4h7.5M599.8 537.4h0M602.8 537.4h0M608.2 537.4h0M619.1 537.4h1.6M589.7 540.2h6.2M598.9 540.2h0M611.9 540.2h0M619.7 540.2h0M589.1 543h9M601.2 543h0.5M606.3 543h1.5M611 543h0M618.7 543h0M625.5 543h0M588 545.8h7.7M598.8 545.8h1.5M603.9 545.8h0M610 545.8h0M613.1 545.8h1.5M587.4 548.6h6.1M600 548.6h0M609 548.6h0M615 548.6h0M586.5 551.4h10.6M599.3 551.4h0M600.9 551.4h0M604.1 551.4h0M609 551.4h0M612.2 551.4h0M618.5 551.4h1.1M587 554.2h1.5M591.6 554.2h3.1M600.1 554.2h0M584.8 557h4.6M595.6 557h1.5M599.3 557h0M605.5 557h0M613.2 557h0M633.7 557h0M584.3 559.8h6.1M593.5 559.8h3.1M598.5 559.8h3M610.6 559.8h0M584 562.6h1.5M588.5 562.6h7.5M604.4 562.6h0M606 562.6h0M607.6 562.6h0M610.9 562.6h0M584.9 565.5h7.5M595.2 565.5h0M598.4 565.5h0M603.3 565.5h0M606.6 565.5h0M611.5 565.5h0M582.5 568.2h4.6M590.1 568.2h1.5M594.7 568.2h0M605.5 568.2h0M608.7 568.2h0M581.3 571h12.3M602.8 571h0M606 571h0M610.3 571h0M580.1 573.9h12.3M600.2 573.9h1.6M604.9 573.9h0M579.3 576.7h1.5M583.8 576.7h7.4M594.3 576.7h0M605.2 576.7h0M577.9 579.5h3.1M585.5 579.5h0M588.6 579.5h0M591.5 579.5h0M599.3 579.5h1.6M576.2 582.3h1.5M580.8 582.3h1.5M588.4 582.3h0M596.4 582.3h0M599.5 582.3h0M604.4 582.3h0M608 582.3h0M576 585.1h6.2M585.2 585.1h1.5M596.7 585.1h0M574.3 587.9h7.7M586 587.9h0M589.1 587.9h0M592.2 587.9h0M571.4 590.7h6M583.4 590.7h0M587.7 590.7h0M591.1 590.7h0M592.7 590.7h0M596.1 590.7h0M570.5 593.5h10.7M584.7 593.5h0M587.8 593.5h0M595.4 593.5h0M566.9 596.3h7.6M579.1 596.3h0M586.8 596.3h3.1M593.1 596.3h0M595.1 596.3h0M600 596.3h0M563.4 599.1h7.6M575.5 599.1h0M579.5 599.1h0M585.9 599.1h0M587.5 599.1h0M589.1 599.1h0M557.8 601.9h4.7M565.5 601.9h0M568.6 601.9h0M573.3 601.9h0.3M578.6 601.9h0"/>
<path d="M511.3,604.5 L512,604.5 L512.7,604.5 L513.4,604.5 L514.2,604.4 L514.9,604.4 L515.6,604.4 L516.3,604.4 L517,604.4 L517.7,604.4 L518.4,604.3 L519.2,604.3 L519.9,604.3 L520.6,604.3 L521.3,604.2 L522,604.2 L522.7,604.2 L523.4,604.1 L524.2,604.1 L524.9,604.1 L525.6,604 L526.3,604 L527,604 L527.7,603.9 L528.4,603.9 L529.2,603.8 L529.9,603.8 L530.6,603.7 L531.3,603.6 L532,603.6 L532.7,603.5 L533.4,603.4 L534.2,603.4 L534.9,603.3 L535.6,603.2 L536.3,603.1 L537,603 L537.7,602.9 L538.4,602.8 L539.2,602.7 L539.9,602.6 L540.6,602.5 L541.3,602.3 L542,602.2 L542.7,602 L543.4,601.9 L544.2,601.7 L544.9,601.5 L545.6,601.3 L546.3,601.1 L547,600.9 L547.7,600.7 L548.4,600.4 L549.2,600.2 L549.9,599.9 L550.6,599.6 L551.3,599.3 L552,599 L552.7,598.7 L553.4,598.3 L554.2,597.9 L554.9,597.5 L555.6,597.1 L556.3,596.7 L557,596.2 L557.7,595.7 L558.4,595.2 L559.2,594.6 L559.9,594 L560.6,593.4 L561.3,592.7 L562,592 L562.7,591.3 L563.4,590.5 L564.2,589.7 L564.9,588.8 L565.6,587.9 L566.3,587 L567,585.9 L567.7,584.9 L568.4,583.8 L569.2,582.6 L569.9,581.3 L570.6,580 L571.3,578.6 L572,577.2 L572.7,575.7 L573.4,574.1 L574.2,572.4 L574.9,570.6 L575.6,568.8 L576.3,566.9 L577,564.9 L577.7,562.8 L578.4,560.6 L579.2,558.3 L579.9,555.9 L580.6,553.4 L581.3,550.9 L582,548.2 L582.7,545.5 L583.4,542.7 L584.2,539.7 L584.9,536.7 L585.6,533.7 L586.3,530.5 L587,527.3 L587.7,524 L588.4,520.7 L589.2,517.3 L589.9,513.9 L590.6,510.5 L591.3,507.1 L592,503.7 L592.7,500.3 L593.4,497 L594.2,493.7 L594.9,490.6 L595.6,487.5 L596.3,484.5 L597,481.6 L597.7,479 L598.4,476.4 L599.1,474.1 L599.9,471.9 L600.6,469.9 L601.3,468.1 L602,466.5 L602.7,465.1 L603.4,463.9 L604.1,462.8 L604.9,461.9 L605.6,461.2 L606.3,460.6 L607,460.2 L607.7,459.8 L608.4,459.5 L609.1,459.3 L609.9,459.2 L610.6,459.1 L611.3,459 L612,459 L612.7,458.9 L613.4,458.9 L614.1,458.9 L614.9,458.9 L615.6,458.9 L616.3,458.9 L617,458.9 L617.7,458.9 L618.4,458.9 L619.1,458.9 L619.9,458.9 L620.6,458.9 L621.3,458.9 L622,458.9 L622.7,458.9 L623.4,458.9 L624.1,458.9 L624.9,458.9 L625.6,458.9 L626.3,458.9 L627,458.9 L627.7,458.9 L628.4,458.9 L629.1,458.9 L629.9,458.9 L630.6,458.9 L631.3,458.9 L632,458.9 L632.7,458.9 L633.4,458.9 L634.1,458.9 L634.9,458.9 L635.6,458.9 L636.3,458.9 L637,458.9 L637.7,458.9 L638.4,458.9 L639.1,458.9 L639.9,458.9 L640.6,458.9 L641.3,458.9 L642,458.9 L642.7,458.9 L643.4,458.9 L644.1,458.9 L644.9,458.9 L645.6,458.9 L646.3,458.9 L647,458.9 L647.7,458.9 L648.4,458.9 L649.1,458.9 L649.9,458.9 L650.6,458.9 L651.3,458.9 L652,458.9 L652.7,458.9 L653.4,458.9 L654.1,458.9 L654.9,458.9 L655.6,458.9 L656.3,458.9 L657,458.9 L657.7,458.9 L658.4,458.9 L659.1,458.9 L659.9,458.9 L660.6,458.9 L661.3,458.9 L662,458.9 L662.7,458.9 L663.4,458.9 L664.1,458.9 L664.9,458.9 L665.6,458.9 L666.3,458.9 L667,458.9 L667.7,458.9 L668.4,458.9 L669.1,458.9 L669.9,458.9 L670.6,458.9 L671.3,458.9 L672,458.9 L672.7,458.9 L673.4,458.9 L674.1,458.9 L674.9,458.9 L675.6,458.9 L676.3,458.9 L677,458.9 L677.7,458.9 L678.4,458.9 L679.1,458.9 L679.9,458.9 L680.6,458.9 L681.3,458.9 L682,458.9" class="cv"/>
<path d="M511.3,594.1 L512,594.1 L512.7,594.1 L513.4,594 L514.2,594 L514.9,594 L515.6,594 L516.3,593.9 L517,593.9 L517.7,593.9 L518.4,593.8 L519.2,593.8 L519.9,593.7 L520.6,593.7 L521.3,593.6 L522,593.6 L522.7,593.5 L523.4,593.5 L524.2,593.4 L524.9,593.4 L525.6,593.3 L526.3,593.2 L527,593.1 L527.7,593.1 L528.4,593 L529.2,592.9 L529.9,592.8 L530.6,592.7 L531.3,592.6 L532,592.5 L532.7,592.4 L533.4,592.3 L534.2,592.1 L534.9,592 L535.6,591.9 L536.3,591.7 L537,591.6 L537.7,591.4 L538.4,591.2 L539.2,591 L539.9,590.8 L540.6,590.6 L541.3,590.4 L542,590.2 L542.7,590 L543.4,589.7 L544.2,589.4 L544.9,589.2 L545.6,588.9 L546.3,588.6 L547,588.2 L547.7,587.9 L548.4,587.5 L549.2,587.2 L549.9,586.8 L550.6,586.4 L551.3,585.9 L552,585.5 L552.7,585 L553.4,584.5 L554.2,584 L554.9,583.4 L555.6,582.8 L556.3,582.2 L557,581.6 L557.7,580.9 L558.4,580.2 L559.2,579.5 L559.9,578.7 L560.6,577.9 L561.3,577 L562,576.2 L562.7,575.2 L563.4,574.3 L564.2,573.2 L564.9,572.2 L565.6,571.1 L566.3,569.9 L567,568.7 L567.7,567.4 L568.4,566.1 L569.2,564.7 L569.9,563.3 L570.6,561.8 L571.3,560.2 L572,558.6 L572.7,556.9 L573.4,555.1 L574.2,553.3 L574.9,551.4 L575.6,549.4 L576.3,547.3 L577,545.2 L577.7,543 L578.4,540.7 L579.2,538.4 L579.9,535.9 L580.6,533.4 L581.3,530.9 L582,528.3 L582.7,525.6 L583.4,522.8 L584.2,520 L584.9,517.1 L585.6,514.2 L586.3,511.3 L587,508.4 L587.7,505.4 L588.4,502.4 L589.2,499.4 L589.9,496.4 L590.6,493.5 L591.3,490.6 L592,487.8 L592.7,485 L593.4,482.3 L594.2,479.7 L594.9,477.3 L595.6,474.9 L596.3,472.8 L597,470.7 L597.7,468.9 L598.4,467.2 L599.1,465.6 L599.9,464.3 L600.6,463.2 L601.3,462.2 L602,461.3 L602.7,460.7 L603.4,460.2 L604.1,459.8 L604.9,459.5 L605.6,459.3 L606.3,459.1 L607,459 L607.7,459 L608.4,458.9 L609.1,458.9 L609.9,458.9 L610.6,458.9 L611.3,458.9 L612,458.9 L612.7,458.9 L613.4,458.9 L614.1,458.9 L614.9,458.9 L615.6,458.9 L616.3,458.9 L617,458.9 L617.7,458.9 L618.4,458.9 L619.1,458.9 L619.9,458.9 L620.6,458.9 L621.3,458.9 L622,458.9 L622.7,458.9 L623.4,458.9 L624.1,458.9 L624.9,458.9 L625.6,458.9 L626.3,458.9 L627,458.9 L627.7,458.9 L628.4,458.9 L629.1,458.9 L629.9,458.9 L630.6,458.9 L631.3,458.9 L632,458.9 L632.7,458.9 L633.4,458.9 L634.1,458.9 L634.9,458.9 L635.6,458.9 L636.3,458.9 L637,458.9 L637.7,458.9 L638.4,458.9 L639.1,458.9 L639.9,458.9 L640.6,458.9 L641.3,458.9 L642,458.9 L642.7,458.9 L643.4,458.9 L644.1,458.9 L644.9,458.9 L645.6,458.9 L646.3,458.9 L647,458.9 L647.7,458.9 L648.4,458.9 L649.1,458.9 L649.9,458.9 L650.6,458.9 L651.3,458.9 L652,458.9 L652.7,458.9 L653.4,458.9 L654.1,458.9 L654.9,458.9 L655.6,458.9 L656.3,458.9 L657,458.9 L657.7,458.9 L658.4,458.9 L659.1,458.9 L659.9,458.9 L660.6,458.9 L661.3,458.9 L662,458.9 L662.7,458.9 L663.4,458.9 L664.1,458.9 L664.9,458.9 L665.6,458.9 L666.3,458.9 L667,458.9 L667.7,458.9 L668.4,458.9 L669.1,458.9 L669.9,458.9 L670.6,458.9 L671.3,458.9 L672,458.9 L672.7,458.9 L673.4,458.9 L674.1,458.9 L674.9,458.9 L675.6,458.9 L676.3,458.9 L677,458.9 L677.7,458.9 L678.4,458.9 L679.1,458.9 L679.9,458.9 L680.6,458.9 L681.3,458.9 L682,458.9" class="cv dsh"/>
<path d="M511.3,604.7 L512,604.7 L512.7,604.7 L513.4,604.7 L514.2,604.7 L514.9,604.7 L515.6,604.7 L516.3,604.7 L517,604.7 L517.7,604.7 L518.4,604.7 L519.2,604.7 L519.9,604.7 L520.6,604.7 L521.3,604.7 L522,604.7 L522.7,604.7 L523.4,604.7 L524.2,604.7 L524.9,604.7 L525.6,604.7 L526.3,604.7 L527,604.7 L527.7,604.7 L528.4,604.6 L529.2,604.6 L529.9,604.6 L530.6,604.6 L531.3,604.6 L532,604.6 L532.7,604.6 L533.4,604.6 L534.2,604.6 L534.9,604.6 L535.6,604.5 L536.3,604.5 L537,604.5 L537.7,604.5 L538.4,604.5 L539.2,604.4 L539.9,604.4 L540.6,604.4 L541.3,604.3 L542,604.3 L542.7,604.2 L543.4,604.2 L544.2,604.1 L544.9,604.1 L545.6,604 L546.3,604 L547,603.9 L547.7,603.8 L548.4,603.7 L549.2,603.6 L549.9,603.5 L550.6,603.4 L551.3,603.3 L552,603.1 L552.7,603 L553.4,602.8 L554.2,602.7 L554.9,602.5 L555.6,602.3 L556.3,602 L557,601.8 L557.7,601.5 L558.4,601.3 L559.2,600.9 L559.9,600.6 L560.6,600.3 L561.3,599.9 L562,599.5 L562.7,599 L563.4,598.6 L564.2,598.1 L564.9,597.5 L565.6,596.9 L566.3,596.3 L567,595.6 L567.7,594.9 L568.4,594.1 L569.2,593.3 L569.9,592.4 L570.6,591.5 L571.3,590.5 L572,589.4 L572.7,588.3 L573.4,587.1 L574.2,585.8 L574.9,584.5 L575.6,583 L576.3,581.5 L577,579.9 L577.7,578.2 L578.4,576.4 L579.2,574.5 L579.9,572.5 L580.6,570.4 L581.3,568.2 L582,565.9 L582.7,563.5 L583.4,561 L584.2,558.4 L584.9,555.7 L585.6,552.8 L586.3,549.9 L587,546.9 L587.7,543.8 L588.4,540.6 L589.2,537.3 L589.9,533.9 L590.6,530.5 L591.3,527.1 L592,523.6 L592.7,520.1 L593.4,516.6 L594.2,513.1 L594.9,509.6 L595.6,506.2 L596.3,502.9 L597,499.6 L597.7,496.4 L598.4,493.4 L599.1,490.6 L599.9,487.8 L600.6,485.3 L601.3,482.9 L602,480.8 L602.7,478.8 L603.4,477.1 L604.1,475.5 L604.9,474.2 L605.6,473.1 L606.3,472.1 L607,471.3 L607.7,470.7 L608.4,470.3 L609.1,469.9 L609.9,469.6 L610.6,469.4 L611.3,469.3 L612,469.2 L612.7,469.2 L613.4,469.2 L614.1,469.1 L614.9,469.1 L615.6,469.1 L616.3,469.1 L617,469.1 L617.7,469.1 L618.4,469.1 L619.1,469.1 L619.9,469.1 L620.6,469.1 L621.3,469.1 L622,469.1 L622.7,469.1 L623.4,469.1 L624.1,469.1 L624.9,469.1 L625.6,469.1 L626.3,469.1 L627,469.1 L627.7,469.1 L628.4,469.1 L629.1,469.1 L629.9,469.1 L630.6,469.1 L631.3,469.1 L632,469.1 L632.7,469.1 L633.4,469.1 L634.1,469.1 L634.9,469.1 L635.6,469.1 L636.3,469.1 L637,469.1 L637.7,469.1 L638.4,469.1 L639.1,469.1 L639.9,469.1 L640.6,469.1 L641.3,469.1 L642,469.1 L642.7,469.1 L643.4,469.1 L644.1,469.1 L644.9,469.1 L645.6,469.1 L646.3,469.1 L647,469.1 L647.7,469.1 L648.4,469.1 L649.1,469.1 L649.9,469.1 L650.6,469.1 L651.3,469.1 L652,469.1 L652.7,469.1 L653.4,469.1 L654.1,469.1 L654.9,469.1 L655.6,469.1 L656.3,469.1 L657,469.1 L657.7,469.1 L658.4,469.1 L659.1,469.1 L659.9,469.1 L660.6,469.1 L661.3,469.1 L662,469.1 L662.7,469.1 L663.4,469.1 L664.1,469.1 L664.9,469.1 L665.6,469.1 L666.3,469.1 L667,469.1 L667.7,469.1 L668.4,469.1 L669.1,469.1 L669.9,469.1 L670.6,469.1 L671.3,469.1 L672,469.1 L672.7,469.1 L673.4,469.1 L674.1,469.1 L674.9,469.1 L675.6,469.1 L676.3,469.1 L677,469.1 L677.7,469.1 L678.4,469.1 L679.1,469.1 L679.9,469.1 L680.6,469.1 L681.3,469.1 L682,469.1" class="cv dsh"/>
<path d="M509.8 456.6V604.7H684V456.6Z" class="ax"/>
<text x="495" y="606.8" class="tl" text-anchor="middle">0</text>
<text x="495" y="577.6" class="tl" text-anchor="middle">0.2</text>
<text x="495" y="548.5" class="tl" text-anchor="middle">0.4</text>
<text x="495" y="519.3" class="tl" text-anchor="middle">0.6</text>
<text x="495" y="490.2" class="tl" text-anchor="middle">0.8</text>
<text x="495" y="461" class="tl" text-anchor="middle">1</text>
<text x="526.7" y="625.7" class="tl" text-anchor="middle">−6</text>
<text x="554.8" y="625.7" class="tl" text-anchor="middle">−5</text>
<text x="582.9" y="625.7" class="tl" text-anchor="middle">−4</text>
<text x="611.1" y="625.7" class="tl" text-anchor="middle">−3</text>
<text x="639.2" y="625.7" class="tl" text-anchor="middle">−2</text>
<text x="667.3" y="625.7" class="tl" text-anchor="middle">−1</text>
<path d="M505.8 604.7H509.8M505.8 575.5H509.8M505.8 546.4H509.8M505.8 517.2H509.8M505.8 488.1H509.8M505.8 458.9H509.8M526.6 604.7V608.2M554.7 604.7V608.2M582.8 604.7V608.2M611 604.7V608.2M639.1 604.7V608.2M667.2 604.7V608.2" class="ax"/>
<text x="515.9" y="478.4" class="tl">R<tspan class="sup" dy="-2.9">2</tspan><tspan dy="2.9">= 0.456</tspan></text>
<text x="515.9" y="496.3" class="tl">Nm= 1811</text>
</svg>
</body></html>
